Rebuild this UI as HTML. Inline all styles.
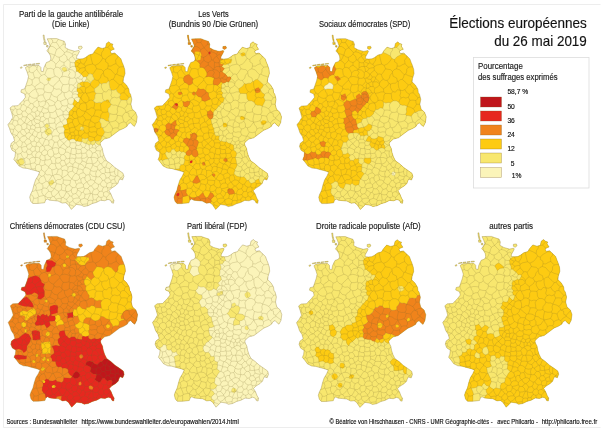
<!DOCTYPE html>
<html lang="fr"><head><meta charset="utf-8"><title>Élections européennes du 26 mai 2019</title>
<style>
html,body{margin:0;padding:0;background:#fff}
svg{display:block}
text{font-family:"Liberation Sans",Arial,sans-serif;stroke:#222;stroke-width:.16px;paint-order:stroke}
</style></head><body>
<svg width="605" height="432" viewBox="0 0 605 432">
<rect width="605" height="432" fill="#fff"/>
<path d="M600.5 4.5H3.5V427.5H600.5" fill="none" stroke="#ededed" stroke-width="1"/>
<defs><path id="b" d="M136 310.5L134.7 312.1L131.7 315.4M131.7 315.4L131.8 316.4M136.8 319.9L131.8 316.4M124.5 306.4L126.4 304.3L127.8 301.9M124.5 306.4L125.8 308L126.2 310M126.7 310.2L130.1 308.5L133.6 308M126.7 310.2L126.2 310M131.3 302.2L131 302L127.8 301.9M131.7 315.4L129.3 314.3L129.1 311.1L126.7 310.2M118.4 304.1L118.3 304M118.4 304.1L117.5 306.8L118 309.6L116.8 312.1M110.1 311.5L113.4 312.3L116.8 312.1M110.1 311.5L108.5 309.5M118.3 304L116 302.9L113.5 303L111.3 302M108.5 309.5L108.4 306.5L110.5 304.5L111.3 302M131.8 316.4L128.7 318L126.4 320.7M126.4 320.7L127.3 324.1M123.3 376.4L121.4 375.5M123.8 372.7L121.4 375.5M121.4 375.5L120.9 375.7M120.4 376.9L120.9 375.7M118.3 367.5L118 373.7M120.9 375.7L119.6 374.4L118 373.7M126.4 320.7L124.3 319.6M126.2 310L124 311.6L122.6 314M124.3 319.6L123.3 316.8L122.6 314M118.4 304.1L121.6 304.9L124.5 306.4M116.8 312.1L117.7 313.2M122.6 314L120.2 313.4L117.7 313.2M24.3 356.6L21.4 357L18.5 358.1M24.3 356.6L25.4 359.5L25.3 362.6M25.3 362.6L24.8 363.3M24.8 363.3L22.5 362.8L20.2 362.1M20.2 362.1L19.1 360.2L18.5 358.1M19.5 363.9L20.2 362.1M18.5 358.1L17.2 357.5M15 358.3L17.2 357.5M20.5 301.1L21.7 303M14.9 303.7L14.7 304L15.6 306.5M20.3 306.8L21.3 305L21.7 303M20.3 306.8L17.4 307.3M15.6 306.5L17.4 307.3M10.6 306.8L13.7 307.7M15.6 306.5L13.7 307.7M124.1 264.4L119.9 264.8M119.9 264.8L117.9 263.3L116.4 261.4M116.4 261.4L115.8 257.9L118.1 255.1L118 253.4M101.7 253.6L102 250.5L103.8 247.9L103.9 245.8M101.7 253.6L103.1 255.9M103.1 255.9L104.4 256.8L105.9 257.1M105.9 257.1L108.1 254.6L110.8 253.1L113.4 251.7M113.4 251.7L113.1 251.1M111.4 248.4L110.2 246.9L108 245.2M108 245.2L105.9 245.4L105.7 245.3M116.4 261.4L113.7 262.4L111.3 263.9L108.5 263.8M108.5 263.8L108.4 261.1L105.9 259.6L105.9 257.1M116.3 251.9L115.6 251.8L113.4 251.7M111.3 241.4L108 245.2M74.5 249L74.5 249.1L72.4 251.8M77.4 253.6L75.4 252L73 253.2M73 253.2L72.4 251.8M103.8 269.2L105.5 267.4L107.8 266.5M103.8 269.2L101.7 267.3L99.3 267L96.9 266.5M107.8 266.5L108.5 263.8M103.1 255.9L101.1 259.2L98.6 261.6L95.4 263.1M96.9 266.5L96.2 264.8L95.4 263.1M27.4 264.3L28 264.6L29.4 265.4M29.4 265.4L29.4 267.5L29.9 269.6M27.6 270.2L29.9 269.6M32.7 263.4L31.2 264.7L29.4 265.4M32.7 263.4L35.4 263.7L37.3 265.6M37.3 265.6L37.1 266.9M37.1 266.9L35.3 268.7L33.4 270.4M33.4 270.4L31.5 270.5L29.9 269.6M43.5 305.4L42.4 307.4L41.8 309.6M43.5 305.4L45.9 306.4L48.4 307M43.8 311L41.8 309.6M43.8 311L46.6 310.8L49.2 309.7M48.4 307L49.2 309.7M127.8 301.9L127.2 300.1L127.2 298.2M118.3 304L119.8 301L121.2 298M121.2 298L124.2 297.8L127.2 298.2M131.5 294.8L129.2 295.5M127.2 298.2L128.4 297L129.2 295.5M110.1 311.5L109.5 314.3L108.9 316.9L109.4 319.5M108.5 309.5L105.8 310.1L103.1 310M109.4 319.5L106.3 318.7L103.8 316.8L100.8 316.2M103.1 310L101.1 312.8L100.8 316.2M101.5 324.8L101.4 321.6L99.8 318.9M101.5 324.8L99.7 326.2L97.5 326.7M95 324.5L96.4 325.5L97.5 326.7M95 324.5L95.5 322.8L95.1 321M95.1 321L97.7 320.4L99.8 318.9M96.6 329.7L97.1 328.2L97.5 326.7M96.6 329.7L94.1 329.5L91.7 330.1L89.5 329.3M89.5 329.3L89.2 327.4L89.5 325.5M89.5 325.5L92.2 324.8L95 324.5M91 318.5L89.3 321.4L89.1 324.9M91 318.5L92.9 319.9L95.1 321M89.1 324.9L89.5 325.5M91 318.5L90.8 317.8M90.8 317.8L91.3 316L92.2 314.4M92.2 314.4L93.7 313.8M93.7 313.8L96.4 314L98.8 314.6L100.6 316.4M100.6 316.4L99.8 318.9M112.3 381.5L111.1 379.9M112.3 381.5L114.8 381L117.4 381.3M117.4 381.3L115.5 379.4L114.9 376.8M114.9 376.8L113.1 377.4L111.3 378.2M111.3 378.2L111.1 379.9M111.5 385.2L112.1 383.4L112.3 381.5M111.5 385.2L112 385.8M117.8 381.5L117.4 381.3M118 373.7L116.7 373.7M116.7 373.7L115.8 374.3M115.8 374.3L114.9 376.8M115.8 374.3L113.2 373.9L110.7 373M109.1 375.5L110.7 373M109.1 375.5L109.9 377.1L111.3 378.2M107 397.7L106.9 395.1M111.6 399.6L113.6 399L114.1 397.9M111.4 392.1L110 391.5M106.9 395.1L108.5 393.4L110 391.5M30.5 361.8L31.2 364.2L31.6 366.6M30.5 361.8L30.6 361.7M30.6 361.7L32.7 361L34.9 360.7M37.2 362.5L34.9 360.7M37.2 362.5L35.8 364.2L35.7 366.4M31.6 366.6L33.6 366.7L35.7 366.4M30.5 361.8L27.9 362.1L25.3 362.6M25.9 366L24.8 363.3M31.6 366.6L30.9 367.2M32.6 400.8L34 396M34 396L33 393.5L30.9 392.2M34.3 382.6L35.8 382.9M32.3 389.3L34 389L36.1 387.9M35.8 382.9L36.7 385.4L36.1 387.9M24.3 356.6L24.4 356.5M24.4 356.5L22.4 354L21.2 351.1M17.2 357.5L18.2 354.7L18 351.8M21.2 351.1L19.7 351.7L18 351.8M13 345.8L12 347.1M13 345.8L14.2 347L15.7 347.7M15.7 350.3L16 350.2M15.7 347.7L16 350.2M10.9 343.6L12.6 343.4M12.6 343.4L13 345.8M18 351.8L16 350.2M20.3 306.8L21.5 308.1L22.9 309.1M21.7 303L23.8 302.3M25.6 308.7L22.9 309.1M25.6 308.7L26.6 307L27.1 305.1M23.8 302.3L25.7 303.3L27.1 305.1M22.9 309.1L21.9 311.6M17.4 307.3L17 309.9L18 312.4M21.9 311.6L20 312.3L18 312.4M40.4 309.8L40 311.7L39.3 313.4M40.4 309.8L37.8 308.4M37.8 308.4L36.4 309L35.2 310.1M35.2 310.1L36.2 312L36.2 314.1M36.2 314.1L37.8 314.1L39.3 313.4M43.9 314.2L42.2 314.3L40.9 315.3M43.9 314.2L44 312.6L43.8 311M40.9 315.3L39.3 313.4M41.8 309.6L40.4 309.8M40.9 315.3L40.3 318.2M34.7 316.5L37.5 317.3L40.3 318.2M34.7 316.5L36.2 314.1M39.5 276L37.3 275.5L34.9 275.6M39.5 276L39.6 278.1L40.5 280M40.5 280L38.9 281.9L36.7 283L35.2 284.8M34.9 275.6L33.9 277L32.3 277.7M32.3 277.7L32.7 280L32.3 282.4M32.3 282.4L33.6 283.8L35.2 284.8M37.1 266.9L38.5 269.3L40.2 271.4L41.9 273.3M41.9 273.3L40.3 274.3L39.5 276M33.4 270.4L34.1 273.1L34.9 275.6M28.5 275.6L29.7 276.3L32.3 277.7M25.7 284.8L27.6 283.4L30.1 283.3L32.3 282.4M37.3 265.6L38.4 263.2M41.9 273.3L43.5 272.5L45.2 272.4M45.2 272.4L46.2 269.4L47.5 266.6M47.5 266.6L45.9 264.4L45.7 262.3M55.7 274L57.9 274.9L59.7 276.3M55.7 274L52.5 275.4L49.3 276.6M53.6 284.3L55.5 281.8L57.9 279.9L59.8 277.7M53.6 284.3L50.8 283.1L48.8 280.8M59.7 276.3L59.8 277.7M48.8 280.8L48.4 278.6L49.3 276.6M45.2 272.4L47.1 274.6L49.3 276.6M54 267.1L50.8 266.1L47.5 266.6M54 267.1L54.1 269.6L54.5 272L55.7 274M44.7 282.9L42.9 281.1L40.5 280M44.7 282.9L47 282.3L48.8 280.8M72.4 251.8L69.9 250.2L67 249.5M67 249.5L67.9 246.8L68 246.7M84.3 262L85.7 264.2M84.3 262L87 257.8L87.2 254.3M85.7 264.2L88.1 262.8L90.6 262.3L93 261.8M93 261.8L91.9 257.9L91.1 254.2L90.8 252.3M101.7 253.6L98 251.6L94.4 250.1L94.2 250.1M95.4 263.1L93 261.8M53.6 284.3L54 285.9M59.8 277.7L61.4 280.1L63.2 282.4M54 285.9L56.6 287.1L59.6 286.7L61.8 288.6M61.8 288.6L61.9 285.3L63.2 282.4M70.3 276L69.2 278.8L69.2 281.8M70.3 276L67.4 274.7L64.5 274.1L61.6 274.8M61.6 274.8L59.7 276.3M63.2 282.4L66.2 282.4L69.2 281.8M58.7 237.1L58.2 237.8L56.7 240.1M63.9 238.9L63.3 242.1M56.7 240.1L58.4 242.7L60 245.4M63.3 242.1L61.7 243.8L60 245.4M51 236.5L52.8 237.8L53 240.1M53 240.1L54.9 240.4L56.7 240.1M65.8 242.1L63.3 242.1M86 317.8L84.8 315.3L82.7 313.6M86 317.8L83.8 320L83.3 323M79.9 321.5L78.6 318.6L77.9 315.7M79.9 321.5L81.6 322.2L83.2 323.1M82.7 313.6L80.8 314.8L78.5 314.8M83.3 323L83.2 323.1M78.5 314.8L77.9 315.7M90.8 317.8L88.4 317.6L86 317.8M92.2 314.4L90 312.6L87.8 311L86 309M86 309L85.5 309.3M85.5 309.3L84.6 311.8L82.7 313.6M89.1 324.9L86.3 323.5L83.3 323M103.1 310L101.4 308.1M93.7 313.8L95 310.9L95.7 307.9M100.6 316.4L100.8 316.2M95.7 307.9L98.5 307.7L101.4 308.1M78.9 290.7L81 291L83 290.3M78.9 290.7L78 292.4M83 290.3L84.4 290.8M84.4 290.8L82.5 292.8L81.3 295.3M78 292.4L78.8 294.9M78.8 294.9L80.5 295.6M80.5 295.6L81.3 295.3M128.7 286.1L125.8 286.7M129.2 295.5L127 292.8L124.4 290.5M125.8 286.7L124.5 288.4L124.4 290.5M124.2 274.9L122.6 274.1L119.6 273.3L116.8 271.9M123.6 277.3L123.5 277.4L123.2 280.2L121.7 282.2M121.7 282.2L119.6 282.7M119.6 282.7L117.6 280.6L115.5 278.8L113.5 277M113.5 277L114.9 274.9L115.5 272.4M116.8 271.9L115.5 272.4M119.9 264.8L118 266.9L118 269.7L116.8 271.9M125.8 286.7L123.4 284.8L121.7 282.2M107.8 266.5L111.2 267.6L113.3 270.1L115.5 272.4M109.6 319.9L109.6 320M109.6 319.9L112.7 319.4L115.8 318.5M109.6 320L110.6 322.4L112.2 324.4L112.9 326.6M115.8 318.5L117.9 319.8L119.2 321.8M112.9 326.6L115.3 325.6L118 325.8M118 325.8L119.2 324L119.2 321.8M109.4 319.5L109.6 319.9M103.3 325.5L106.3 324.5L107.9 322.1L109.6 320M103.3 325.5L101.5 324.8M117.7 313.2L117.3 316L115.8 318.5M103.3 325.5L103.9 327.9L105.4 329.8M111.2 329.7L108.3 330.4L105.4 329.8M111.2 329.7L112.4 328.4L112.9 326.6M124.3 319.6L121.6 320.4L119.2 321.8M120 327.9L118 325.8M111.2 329.7L111.9 333.8M74.5 404.4L73 403.5L69.9 402.5M69.5 403.9L69.9 402.5M76.2 402.7L76 401.5M76 401.5L74.1 400.2L73 398.3M73 398.3L71.6 399.7L69.8 400.5M69.9 402.5L69.8 400.5M72 394L70.1 393.8M72 394L72.6 395.4L73.4 396.8M70.1 393.8L68.4 395.3L67 397.1M73.4 396.8L73 398.3M67 397.1L67.5 399M69.8 400.5L67.5 399M62 374.6L59.7 372.6L56.7 372.1M62 374.6L62.6 371.4L62.5 368.3M56.7 372.1L57.8 369.7L58.4 367.1M58.4 367.1L61.1 366.7M62.5 368.3L61.1 366.7M89.5 329.3L88.6 330.7M82.2 326.9L83.2 325.1L83.2 323.1M82.2 326.9L84.2 328.2L85.1 330.5M88.6 330.7L86.8 331.1L85.1 330.5M43.9 393.3L45 393.8M43.9 393.3L41.5 393.8L39.1 394.4M45.9 398L45.1 393.9M38.3 401.2L38.4 395.2M45.1 393.9L45 393.8M38.4 395.2L39.1 394.4M47.2 386.3L48.4 387.5L48.9 389.1M47.2 386.3L45.2 385.8L43.1 386M48.9 389.1L46.6 391.2L45 393.8M43.1 386L42.4 387.1M42.4 387.1L42.1 390.4L43.9 393.3M42.4 387.1L39.6 387.9L36.7 388.2M36.7 388.2L38.1 391.2L39.1 394.4M49.9 398L51.3 395.4M51.3 395.4L48 395.4L45.1 393.9M34 396L36.3 396.1L38.4 395.2M36.7 388.2L36.1 387.9M49.6 382.8L48.2 384.4L47.2 386.3M49.6 382.8L51.6 385.3L54.6 386.4M48.9 389.1L51.5 389.6M54.6 386.4L53.4 388.3L51.5 389.6M51.3 395.4L53 394.1M51.5 389.6L51.8 392L53 394.1M56.5 396.8L59.1 396.2L61.7 396.1M56.5 396.8L56.3 398.6M61.7 396.1L61.2 399.5L61.3 400.3M53 394.1L54.6 394.4M54.6 394.4L55.2 395.8L56.5 396.8M67.5 399L66.1 400.7M81.9 403.1L82.6 402.3M76 401.5L78.9 400.2L80.8 397.7M82.6 402.3L81 400.2L80.8 397.7M88 403.6L87.8 401.6M82.6 402.3L85.2 401.9L87.8 401.6M79.5 395.8L80.9 397.4M79.5 395.8L76.4 395.9L73.4 396.8M80.8 397.7L80.9 397.4M92.9 401.3L93.1 398.4M93.1 398.4L90.9 398L88.6 398.4M87.8 401.6L88 399.9L88.6 398.4M111.5 385.2L109.6 385.8L107.7 385.3M110 391.5L108.6 390.8L107.6 389.4M107.6 389.4L108.2 387.4L107.7 385.3M111.1 379.9L109.2 380.5L107.4 381.2M107.4 381.2L106.9 382.9L106.8 384.6M107.7 385.3L106.8 384.6M97.6 386.1L98.8 384.3L98.7 382.2M97.6 386.1L98.4 387.9L99.5 389.3M100.4 381.8L98.7 382.2M100.4 381.8L101.6 383.9L103.9 384.9M103.9 384.9L102.9 386.9L102.3 389M99.5 389.3L102.3 389M107.6 389.4L105.7 389.5L103.9 390.5M103.9 384.9L106.8 384.6M102.3 389L103.9 390.5M106.9 395.1L105.5 394.5L104.1 393.7M103.9 390.5L103.7 392.1L104.1 393.7M102.1 398.2L101.2 395.3M104.1 393.7L102.8 394.9L101.2 395.3M10 326.8L13.7 327.2M11.9 331.6L12.5 331.6M12.5 331.6L13.7 329.6L13.7 327.2M12.6 343.4L14 342.1L15 340.5M15 340.5L14.3 339L14.2 339M12.5 331.6L14.6 332.5L16.8 333.3M14.2 335.9L14.6 335.2L16.8 333.3M23.4 298.2L24.7 299M25.3 292.9L25.4 292.8L27.1 290.6M24.7 299L26.7 298.3L28.8 297.8M28.8 297.8L29 295.6L30.1 293.7M27.1 290.6L29.3 291.9M29.3 291.9L30.1 293.7M23.8 302.3L24.4 300.7L24.7 299M25.5 285.4L25.6 288L27.1 290.6M35.7 286.8L33.1 288.2L31.1 290L29.3 291.9M35.7 286.8L35.2 284.8M27.1 305.1L27.8 304.8M28.8 297.8L29.4 299.7L30.8 301M30.8 301L29.6 303.1L27.8 304.8M32.2 309.6L33.7 310L35.2 310.1M32.2 309.6L30.2 311.6M34.7 316.5L34.3 316.6M30.2 311.6L33 313.6L34.3 316.6M25.6 308.7L26.8 310.5L28.5 312M32.2 309.6L31.9 307.4M31.9 307.4L30 305.9L27.8 304.8M30.2 311.6L28.5 312M23 314.4L21.2 316.7M23 314.4L25 314.7L27.1 314.6M27.1 314.6L27.1 314.7M27.1 314.7L26 317.7L24.9 320.7M21.2 316.7L23 318.7L24.6 320.7M24.6 320.7L24.9 320.7M21.9 311.6L22.6 312.9L23 314.4M18 312.4L17.3 313.3M17.3 313.3L18.4 315L19.4 316.8M19.4 316.8L21.2 316.7M28.5 312L27.1 314.6M54 285.9L53.3 288.6L51.3 290.5M57.5 295L58.9 292.9L61.2 291.7L62.3 289.5M57.5 295L54 294.2L51.7 291.6M62.3 289.5L61.8 288.6M51.7 291.6L51.3 290.5M61.6 274.8L62.8 272.9L62.9 270.6M54 267.1L56.1 265.1M56.1 265.1L58.3 265.1L60.3 266M62.9 270.6L61.7 268.3L60.3 266M70.3 276L70.4 275.9M70.4 275.9L68.8 273.3L70.4 270.3L68.9 267.9M62.9 270.6L65.5 268.3L68.9 267.9M70.4 275.9L72.7 276.1L74.9 275.5M74.9 275.5L75.7 272.9L75.5 270.2M75.5 270.2L72.8 267.8L69.3 267.1M68.9 267.9L69.3 267.1M74.9 275.5L76.1 276.2M69.2 281.8L69.9 282.7M69.9 282.7L71.8 282.5L73.6 283.1M73.6 283.1L75.4 281.3L77 279.4M76.1 276.2L76.8 277.7L77 279.4M80 256.8L80.4 258.3L81.3 260.6M79 256.7L78.1 257.6L76 258.6M76 258.6L75.8 259.3M75.8 259.3L77.7 260.3L79.6 261.2M81.3 260.6L79.6 261.2M84.3 262L82.7 261.6L81.3 260.6M73 253.2L72.7 254.1M72.7 254.1L74.4 256.3L76 258.6M77.5 264L75.6 264.3M77.5 264L78.9 265.1L80.4 266.2M75.6 264.3L76.6 266.7L76.7 269.2M80.4 266.2L79.4 267.7L78.2 269.1M78.2 269.1L76.7 269.2M75.4 264.2L75.6 264.3M75.4 264.2L75.3 262.3L74.9 260.4M74.9 260.4L75.8 259.3M79.6 261.2L79 262.9L77.5 264M85.3 265.3L85.7 264.2M85.3 265.3L82.9 265.6L80.4 266.2M85.7 268.1L85.3 265.3M85.7 268.1L83.4 269.7L81.4 271.9M81.4 271.9L79.6 270.8L78.2 269.1M111.3 302L110.2 300M110.2 300L107.6 298.5L104.7 298.5M101.4 308.1L101.1 305.4L100.6 302.8L101.9 300.5M104.7 298.5L103.2 299.4L101.9 300.5M85.7 268.1L87.6 269.7L89 271.9M96.9 266.5L95.5 268.5L94.2 270.5L92.7 272.2M89 271.9L90.9 271.6L92.7 272.2M82.2 284.2L80.6 282.8L79.8 280.9M82.2 284.2L80.5 284.7L79.5 286M79.5 286L77.9 285.9M78.6 280.8L77.4 283.2L77.9 285.9M79.8 280.9L78.6 280.8M83 290.3L81.8 287.7L79.5 286M84.4 290.8L85.8 290.4M85.8 290.4L85.6 288.1L86.2 285.9M84.5 284.3L86.2 285.9M84.5 284.3L82.2 284.2M78.9 290.7L77.4 289M77.4 289L77.2 287.4L77.9 285.9M75.3 285.4L73.6 283.1M75.3 285.4L77.9 285.9M77 279.4L78.6 280.8M45.7 240.1L45.7 240.8L46.6 241.9M47.7 243.4L47.8 243.5M45.1 237.2L44 236.9M47.8 243.5L46.9 244.2M53 240.1L51.4 241.9L50.4 244.1M50.4 244.1L50.1 244.2M50.1 244.2L50.1 244.2M48.4 243.7L47.8 243.5M26.7 263.2L26.8 262.5M32.7 263.4L32.7 263.4M32.6 262.1L32.6 261.8M52.1 258.3L50.7 257.9M52.1 258.3L53.8 255.7L54.8 252.8M54.8 252.8L52.1 251.8L49.4 251.1M56.1 262L55.7 263.6L56.1 265.1M56.1 262L54.4 259.8L52.1 258.3M50.1 244.2L48.6 247.5L49.3 251M74.8 316.3L76.4 316.3L77.9 315.7M74.8 316.3L73.2 315L72.2 313.2M72.2 313.2L73.3 311.3L73.7 309.2M78.5 314.8L77.2 312.4L76.7 309.7M73.7 309.2L75.2 309.3L76.7 309.7M85.5 309.3L82.1 308.4L79.4 306.2M79.4 306.2L78.4 306.4M78.4 306.4L77.1 307.8L76.7 309.7M82.2 326.9L80.7 328.4L78.7 328.7M78.7 328.7L76 327.4M79.9 321.5L77.8 323.6L75 324.9M76 327.4L75 325M75 324.9L75 325M69.9 326.2L70 326.1M69.9 326.2L70 328.6L70.7 330.8M76 327.4L75 328.6L74.2 329.9M75 325L72.5 325.2L70 326.1M74.2 329.9L72.3 329.9L70.7 330.8M79.4 333.1L77.4 332.9L75.6 333.6M79.4 333.1L78.7 331L78.7 328.7M74.2 329.9L74.8 331.8L75.6 333.6M54.8 302.6L55.4 300.4M54.8 302.6L56 304.6L56.8 306.9M62.5 303.4L61.5 305L60.4 306.6M62.5 303.4L61.4 301.4L60.9 299.2M55.4 300.4L56.8 299.5L57.8 298.1M56.8 306.9L58.6 307.2L60.4 306.6M57.8 298.1L59.4 298.6L60.9 299.2M50 310.3L53.2 310.4L55.8 308.5M55.8 308.5L56.8 306.9M48.4 307L48.5 305.1L49.7 303.7M49.2 309.7L50 310.3M49.7 303.7L52.4 303.5L54.8 302.6M49.6 297.1L50.8 294.4L51.7 291.6M57.5 295L57.8 296.6L57.8 298.1M49.6 297.1L52.6 298.5L55.4 300.4M119.6 294.8L120.5 293.5L120.6 291.9M119.6 294.8L117.2 295.8L114.7 294.9L112.5 295.7M120.6 291.9L117.8 290.1L116.3 287.2M112.5 295.7L111.1 293.2L112 290.5L111.5 288M116.3 287.2L114.1 288.2L111.6 288M111.5 288L111.6 288M121.2 298L120.4 296.5L119.6 294.8M124.4 290.5L122.3 290.7L120.6 291.9M110.2 300L110.9 297.6L112.5 295.7M119.6 282.7L118.2 285.1L116.3 287.2M109.6 279.2L109.6 282.4L110.1 285.4L111.6 288M113.5 277L111.2 277.5L109.6 279.2M103.8 269.2L103.7 270.4M109.6 279.2L108.7 279M103.7 270.4L104.5 274L108 275.7L108.7 279M92.7 272.2L93.4 274.7L94.7 276.9M94.7 276.9L96.4 278L98.4 278.1M103.7 270.4L101.5 272.9L100.7 276L98.4 278.1M72.3 376.6L73.7 377.8L75.4 378.4M72.3 376.6L70.7 378.3M76 384.8L74.6 385.5L73 385.3M76 384.8L76.9 382.3M70.7 378.3L70.6 380.4L70 382.4M76.9 382.3L75.9 380.4L75.4 378.4M73 385.3L71.1 384.3L70 382.4M96.6 329.7L97.5 332.5M105.4 329.8L104.2 331.8L103.1 333.8M97.5 332.5L99.9 333.5L102.4 333.9M103.1 333.8L102.4 333.9M69.6 344.5L70.4 342.7L70.5 340.7M69.6 344.5L72.1 346.1M70.5 340.7L73.2 340.5L75.9 340.6M75.9 340.6L76.6 343M76.6 343L76 344.4L75.7 345.9M72.1 346.1L73.9 346.3L75.7 345.9M75.9 340.6L76.4 339.1M76.4 339.1L77.2 338.7M76.6 343L78.8 343.3L80.9 342.5M80.9 342.5L81.2 340.9L81.9 339.5M81.9 339.5L79.5 339.4L77.2 338.7M79.4 333.1L79.9 333.6M76.4 339.1L74.8 337M75.6 333.6L75.3 333.8M74.8 337L75 335.4L75.3 333.8M77.2 338.7L78.4 336.1L79.9 333.6M85.1 330.5L82.8 331.8L81.3 334M79.9 333.6L81.3 334M53.5 373.5L54.9 372.4L56.7 372.1M53.5 373.5L53.1 373.4M58.4 367.1L56.9 366.1M53.1 373.4L52.6 370.5L52.1 367.6M56.9 366.1L54.6 367.3L52.1 367.6M56.2 360.8L55.8 358.3L56.5 356M56.2 360.8L58.3 361.2L60.3 360.5M60.3 360.5L61.6 358.3M61.6 358.3L61.1 356.7L60.3 355.3M60.3 355.3L58.4 355.5L56.5 356M62.2 364.1L61.1 366.7M62.2 364.1L61 362.5L60.3 360.5M55.5 361.4L55.9 363.8L56.9 366.1M55.5 361.4L56.2 360.8M94.2 387.1L96 386.8L97.6 386.1M94.2 387.1L93 385.3L91.6 383.6M98.7 382.2L96.9 381.2L95.2 380M95.2 380L93.6 382L91.6 383.6M88.6 398.4L88 397.4M80.9 397.4L82.7 396.7L84.6 396M88 397.4L86.3 396.6L84.6 396M92.8 391.7L95.3 392.6L97.9 392.2M92.8 391.7L93.1 394.8L93.7 397.8M93.7 397.8L96.6 397.6M96.6 397.6L97.3 395.7L99 394.5M97.9 392.2L99 394.5M92.3 391.3L92.8 391.7M92.3 391.3L93.1 389.1L94.2 387.1M99.5 389.3L98.8 390.8L97.9 392.2M88 397.4L89.4 394.3L91 391.3M92.3 391.3L91 391.3M93.1 398.4L93.7 397.8M97.4 399.9L96.6 397.6M101.2 395.3L99 394.5M59.3 350.4L58.7 348.2L59.2 346.1M59.3 350.4L60.1 351.9L61.6 352.6M59.2 346.1L59.9 345.4M61.6 352.6L64.1 352.2M64.1 352.2L65.9 349.9M65.8 347.8L63.3 346.3L60.6 345.3M65.8 347.8L65.9 349.9M60.6 345.3L59.9 345.4M53.7 353.7L54.8 355.2L56.5 356M53.7 353.7L54.2 352M60.3 355.3L61.6 352.6M54.2 352L57 351.8L59.3 350.4M66.5 356L65.6 353.9L64.1 352.2M64.7 358.5L65.6 357.2L66.5 356M64.7 358.5L63.2 358L61.6 358.3M70.5 351.6L70.4 354L69.6 356.2M70.5 351.6L68.5 350L65.9 349.9M69.6 356.2L68 356.6L66.5 356M68.2 345L65.9 343.5L64.2 341.4M68.2 345L66.6 346L65.8 347.8M64.2 341.4L61.8 342.8L60.6 345.3M69.6 344.5L68.2 345M71.1 351.4L71.4 348.7L72.1 346.1M70.5 351.6L71.1 351.4M64.2 341.2L62.3 339.4L60.4 337.7M64.2 341.2L64.2 341.4M60.4 337.7L60.1 337.6M60.1 337.6L58.7 338.5L57.9 339.9M57.9 339.9L58.3 342.9L59.9 345.4M39.4 362.2L40.4 359.8L40.7 357.2M39.4 362.2L37.2 362.5M34.9 360.7L36 358.2L35.4 355.5M40.7 357.2L40 356.1M40 356.1L38 355.3L36 355.3M35.4 355.5L36 355.3M52.1 361.1L53.8 361.5L55.5 361.4M53.7 353.7L51.4 354.9M52.1 361.1L52 358.8L50.5 356.9M50.5 356.9L51.4 354.9M35.7 366.4L36.1 368.2L36.8 368.7M41.7 367.8L43.7 368.8L45.2 370.4M41.7 367.8L41.8 365.7L41.5 363.6M45.2 370.4L46.9 367.8L49.1 365.6M41.5 363.6L43.6 363.1L45.5 362.2M45.5 362.2L47.3 363.4L49 364.6M49 364.6L49.1 365.6M38.3 369.3L39.8 369.2L41.7 367.8M39.4 362.2L41.5 363.6M53.1 373.4L52.2 373.7M45.3 371.3L45.2 370.4M52.2 373.7L49.9 372.5L47.3 372.8L45.3 371.3M52.1 367.6L50.8 366.3L49.1 365.6M45.5 357.9L43 358.4L40.7 357.2M45.5 357.9L44.8 360.1L45.5 362.2M45.7 357.7L48.2 357.8L50.5 356.9M45.5 357.9L45.7 357.7M52.1 361.1L50.2 362.5L49 364.6M30.8 301L33 301.5M31.9 307.4L33.3 306.1L34.2 304.3M33 301.5L33.9 302.8L34.2 304.3M37.8 308.4L37.4 305.6M34.2 304.3L35.9 304.8L37.4 305.6M43.2 304.5L43.5 305.4M43.2 304.5L41.1 304.6L39.4 303.5M39.4 303.5L37.4 305.6M13 311.4L13.9 312.7L15.4 313.4M13 311.4L12.4 312M15.4 313.4L14.3 315.3L13.4 317.3M11.9 317.3L13.4 317.3M13.7 307.7L12.9 309.4L13 311.4M17.3 313.3L15.4 313.4M12.3 321.8L13.9 323L15.4 324.4M12.3 321.8L13.2 319.9L13.8 318M13.8 318L15.8 318.1L17.8 318.9M17.8 318.9L18.2 320.7L18.4 322.5M18.4 322.5L16.7 323.1L15.4 324.4M13.7 327.2L15.1 326.4M15.1 326.4L15.4 324.4M8.8 321.8L12.3 321.8M13.4 317.3L13.8 318M19.4 316.8L17.8 318.9M21.4 323.4L22.7 321.7L24.6 320.7M21.4 323.4L20 322.6L18.4 322.5M40.3 318.2L40.6 319M34.3 316.6L34.2 316.9M40.6 319L39.3 321.1M39.3 321.1L36.4 321.2M34.2 316.9L34.7 319.3L36.4 321.2M35.9 325.5L38.1 325.4L40.3 325M39.3 321.1L40 323L40.3 325M35.9 325.5L35 323.3M35 323.3L36.4 321.2M44.7 282.9L44.4 284.9L44 286.9M35.7 286.8L36.3 287.2M36.3 287.2L38.9 286.5L41.5 286.6L44 286.9M51.3 290.5L48.2 290.4L45.2 289.7M44 286.9L44.4 288.4L45.2 289.7M64.7 250.3L62.5 247.8L60 245.5M64.7 250.3L64.3 251.7M64.3 251.7L62.2 253.9L59.5 255.1M60 245.5L58.4 246.3L56.9 247.3M56.9 247.3L55.9 249.9L55.3 252.6M55.3 252.6L57 254.5L59.5 255.1M67 249.5L64.7 250.3M60 245.4L60 245.5M50.4 244.1L53.1 244.3L55.1 245.6L56.9 247.3M54.8 252.8L55.3 252.6M56.1 262L58 260.1L59.9 258M59.9 258L59.5 255.1M64.3 260.3L66.1 259.2L67.7 257.7M64.3 260.3L64.3 262.9M64.3 262.9L66.9 264.9L69.3 267M70.5 259.9L69.1 257.8M70.5 259.9L70.4 262.7L70.4 265.6M70.4 265.6L69.3 267M69.1 257.8L67.7 257.7M59.9 258L61.9 259.5L64.3 260.3M64.3 251.7L67 254.2L67.7 257.7M60.3 266L61.9 264L64.3 262.9M69.3 267.1L69.3 267M72.7 254.1L70.4 255.5L69.1 257.8M74.9 260.4L72.6 260.5L70.5 259.9M75.4 264.2L72.7 264.2L70.4 265.6M75.5 270.2L76.7 269.2M72.8 302L74 299.7L74.5 297.1M72.8 302L74.7 303.7M74.7 303.7L74.8 303.7M74.8 303.7L76.6 302.2L77.8 300.2M77.8 300.2L76.2 298.6L74.5 297.1M79.4 306.2L79.6 303.7L80.9 301.7M78.4 306.4L76.7 305L74.8 303.7M80.9 301.7L78.9 300.2M78.9 300.2L77.8 300.2M78.8 294.9L76.4 295.3L74.4 296.7M80.5 295.6L79.8 297.9L78.9 300.2M74.4 296.7L74.5 297.1M72.6 295.3L70 295.8L67.7 297.4M72.6 295.3L72.3 293.6L73.1 292M69.4 288.5L67.1 290.1L64.3 290.5M69.4 288.5L72.1 289.9M64.3 290.5L64.7 293.8L66.5 296.7M73.1 292L72.8 290.8M66.5 296.7L67.7 297.4M72.8 290.8L72.1 289.9M74.4 296.7L72.6 295.3M68.5 301.5L70.6 302.2L72.8 302M68.5 301.5L68.1 299.4L67.7 297.4M78 292.4L75.6 291.7L73.1 292M62.3 289.5L64.3 290.5M69.9 282.7L69.4 285.6L69.4 288.5M75.3 285.4L73.2 287.3L72.1 289.9M60.9 299.2L63.7 297.9L66.5 296.7M77.4 289L74.8 289.2L72.8 290.8M67.5 303.5L65 303.8L62.5 303.4M68.5 301.5L67.5 303.5M81.4 271.9L81.4 272M76.1 276.2L77.6 275.7M81.4 272L80.1 274.5L77.6 275.7M83 279.3L82.3 277.1M83 279.3L84.2 279.8M84.2 279.8L84.8 279.6M84.8 279.6L86 277.9L87 276.1M82.3 277.1L83.7 274.8M83.7 274.8L85.3 274.5L86.8 274.9M86.8 274.9L87 276.1M79.8 280.9L81.4 280.2L83 279.3M77.6 275.7L79.8 276.9L82.3 277.1M84.5 284.3L84.1 282.1L84.2 279.8M90.7 281.4L88 279.5L84.8 279.6M90.7 282.9L90.7 281.4M86.2 285.9L88.6 284.7L90.7 282.9M91.2 280.2L89.1 278.2L87 276.1M90.7 281.4L91.2 280.2M81.4 272L82.7 273.3L83.7 274.8M89 271.9L88.2 273.6L86.8 274.9M94.7 276.9L92.6 278.2L91.2 280.2M108.7 279L106.7 280.9L104.1 281L101.9 281.8M98.4 278.1L99.2 279.6L100.2 281.1M100.2 281.1L101.9 281.8M90.7 282.9L92.6 284.9L94.8 286.5M100.2 281.1L98.9 283.6L96.9 285.1L94.8 286.5M111.5 288L108.7 287.4L106.7 289.9L104.1 289.3M101.9 281.8L101.6 284.8L102.7 287.1L104.1 289.3M104.7 298.5L103 296.3L102.8 293.8L102.5 291.4M104.1 289.3L102.5 291.4M85.8 290.4L86.7 291M94.8 286.5L94.9 288L95.1 289.6M86.7 291L89.7 290.6L92.3 289.6L95.1 289.6M102.5 291.4L99.5 291.2L96.4 291.1M95.1 289.6L96.4 291.1M69.9 326.2L67.7 327.5L65.1 327.6M70.4 331.3L70.7 330.8M70.4 331.3L67.5 330.5L64.5 330.6M65.1 327.6L64.4 329.1L64.5 330.6M60.1 337.6L59.5 335.8L58.9 333.9M65.6 335.3L63.1 336.8L60.4 337.7M65.6 335.3L64.9 333L64.4 330.7M58.9 333.9L60 331.3M60 331.3L62.2 330.7L64.4 330.7M74.7 303.7L73.2 305.6L71.8 307.5M67.5 303.5L67.9 305M67.9 305L69.8 306.4L71.8 307.5M73.7 309.2L71.8 307.5M71.8 307.5L71.8 307.5M70.5 331.7L72.1 333.6M70.5 331.7L68.2 333.6L67.4 336.6M72.1 333.6L71.4 335.2L71.3 337M71.3 337L69.5 338.3M69.5 338.3L68 337.5M67.4 336.6L68 337.5M75.3 333.8L73.7 333.4L72.1 333.6M70.4 331.3L70.5 331.7M64.5 330.6L64.4 330.7M65.6 335.3L67.4 336.6M74.8 337L73 336.9L71.3 337M70.5 340.7L69.5 338.3M64.2 341.2L66.2 339.4L68 337.5M58.9 333.9L55.8 333.6L52.9 334.2M51.8 331.9L52.9 334.2M60 331.3L57.8 329.3L56.7 326.6M51.8 331.9L53 329.6L54.4 327.5M54.4 327.5L56.7 326.6M63.5 324.6L64.6 325.9L65.1 327.6M63.5 324.6L61 324.7L58.6 324.9L56.7 326.5M56.7 326.5L56.7 326.6M54.9 316.1L55.4 318.5L54.8 320.8M54.9 316.1L56.6 315.6L58 314.4M58 314.4L58.3 314.5M58.3 314.5L60.3 316.6L60.7 319.5M60.7 319.5L58.5 320.8L56.5 322.4M56.5 322.4L54.8 320.8M50 310.3L50.4 312.6L50.1 314.8M55.8 308.5L56.9 311.5L58 314.4M50.1 314.8L52.4 316L54.9 316.1M61.8 319.8L63.4 318L65.3 316.5M63.2 312.6L63.9 314.7L65.3 316.5M63.2 312.6L60.6 313.2L58.3 314.5M61.8 319.8L60.7 319.5M61.8 319.8L62.9 321.3L63.9 322.9M63.5 324.6L63.9 322.9M56.7 326.5L56.1 324.5L56.5 322.4M76.3 391.3L77.3 389.6L77.8 387.7M76.3 391.3L77.8 393L79.3 394.7M77.8 387.7L79.9 388.9L81.8 390.4M79.3 394.7L81 392.8L81.8 390.4M73.4 391.9L71.8 390.1L71.6 387.6M73.4 391.9L76.3 391.3M73 385.3L71.6 387.6M76 384.8L77.6 386.5M77.6 386.5L77.8 387.7M79.5 395.8L79.3 394.7M72 394L73.4 391.9M88.1 386.5L86.5 386.5L84.9 386.2M88.1 386.5L90 388.5L90.6 391.1M84.9 386.2L84.3 388.1L83.5 390M90.6 391.1L88 391.9L85.2 392.1M83.5 390L85.2 392.1M91.6 383.6L90.7 383.7M90.7 383.7L89.1 384.8L88.1 386.5M91 391.3L90.6 391.1M77.6 386.5L80.8 385.9L83.9 384.8M83.9 384.8L84.9 386.2M81.8 390.4L83.5 390M84.6 396L85.2 394.1L85.2 392.1M110.2 370.2L109.9 368.3L109.9 366.4M110.2 370.2L112.6 369.9L114.8 369.2M109.9 366.4L112.7 363.1M114.8 369.2L115.7 365.7M116.7 373.7L115.1 371.7L114.8 369.2M110.7 373L110.2 370.2M110.2 370.2L110.2 370.2M108.6 359.8L107.2 361.6L106.2 364.8M106.2 364.8L107.9 366L109.9 366.4M103.1 333.8L107.4 336.1M107.1 358.8L106.9 358.7L104.7 358.5M104.7 358.5L103.5 356.6L102.4 354.7M104.1 352.8L102.4 354.7M93.2 362.6L95.1 364.1L97.4 364.6M93.2 362.6L93 361.8M93 361.8L96.1 360.7L98 358M97.4 364.6L98.8 362.9L100.3 361.4M100.3 361.4L99.4 359.5L98 358M81.9 339.5L82.3 339.2M81.3 334L82.7 336.2M82.3 339.2L82 337.6L82.7 336.2M59 390.1L59.1 389.2M59 390.1L60.1 393.1L62.1 395.5M59.1 389.2L61.5 387.8M61.5 387.8L63.7 388.4L66 388.8M63.6 395.2L62.1 395.5M63.6 395.2L65.2 392.6L66.5 389.9M66 388.8L66.4 389.2M66.5 389.9L66.4 389.2M54.6 386.4L54.9 386.3M54.6 394.4L56.7 392.1L59 390.1M54.9 386.3L56.8 388L59.1 389.2M61.7 396.1L62.1 395.5M67 397.1L65 396.6L63.6 395.2M70.1 393.8L68.8 391.4L66.5 389.9M71.6 387.6L69.2 389.3L66.4 389.2M70 382.4L68.5 382.7L67 383.4M67 383.4L65.7 385.9L66 388.8M63.4 381L63.5 379.4L63.8 377.8M63.4 381L61.6 382.5M61.6 382.5L59.3 381.9L56.9 381.5M63.8 377.8L62.8 375.5M56.9 381.5L56 379.7M62.8 375.5L62.4 375.3M62.4 375.3L60.7 377.4L58 377.3L56.2 378.8M56 379.7L56.2 378.8M70.7 378.3L67.3 378L63.8 377.8M67 383.4L65 382.5L63.4 381M61.5 387.8L62.1 385.2L61.6 382.5M54.9 386.3L55.9 383.9L56.9 381.5M72.3 376.6L72.2 376.5M68.2 372.2L69.8 374.7L72.2 376.5M68.2 372.2L65.5 373.9L62.8 375.5M49.4 380.7L52.8 381.2L56 379.7M49.4 380.7L49.6 382.8M67.3 368.7L68.3 370.2M68.2 372.2L68.3 370.2M62 374.6L62.4 375.3M62.5 368.3L64.9 367.9L67.3 368.7M53.5 373.5L54.8 376.2L56.2 378.8M49.4 380.7L48.4 379.6M48.4 379.6L50.4 376.7L52.2 373.7M62.2 364.1L64.4 363.6L66.3 362.5M67.3 368.7L68.2 367L68.2 365M68.2 365L67.1 363.8L66.3 362.5M64.7 358.5L65.5 360.3L66.4 362.2M66.3 362.5L66.4 362.2M94.8 378.9L95.2 380M94.8 378.9L93 377.8L90.9 377.6M90.7 383.7L88.6 382.1L87.4 379.8M90.9 377.6L89 378.5L87.4 379.8M109.1 375.5L106.3 375.9M107.4 381.2L105.5 380L104.8 377.9M106.3 375.9L104.8 377.9M100.4 381.8L101.6 380L102.8 378.3M104.8 377.9L102.8 378.3M96.8 368.7L95.9 371.6L96.6 374.5M96.8 368.7L93.9 369.2L91 368.4M90.2 371.7L90.2 369.9L91 368.4M90.2 371.7L92.9 374L96.4 374.6M96.4 374.6L96.6 374.5M98.1 367.6L98 366.1L97.4 364.6M98.1 367.6L96.8 368.7M90.7 367.6L91 368.4M90.7 367.6L92.1 365.1L93.2 362.6M90.9 377.6L90.5 374.9L89.3 372.5M89.3 372.5L90.2 371.7M94.8 378.9L96 376.9L96.4 374.6M99.8 374.5L101.7 376.1L102.8 378.3M99.8 374.5L98.2 374.8L96.6 374.5M52.5 346.2L50.9 344.2L48.6 343M52.5 346.2L52.5 346.2M52.5 346.2L53.6 343.1L54.6 340M48.6 343L49.5 340.9L49 338.6M54.6 340L53.8 338.4L52.1 337.5M49 338.6L50.4 337.6L52.1 337.5M54.2 352L53.6 349.3L52.2 346.8M52.2 346.8L52.5 346.2M59.2 346.1L55.8 345.4L52.5 346.2M57.9 339.9L56.2 340L54.6 340M52.9 334.2L52.5 335.9L52.1 337.5M34.2 355L32.7 353.5L32 351.6M34.2 355L31.7 355.5L29.7 357M32 351.6L30.1 352.5L28 352.2M29.7 357L28.2 356.4L27 355.3M27 355.3L27.8 353.9L28 352.2M30.6 361.7L30.5 359.3L29.7 357M35.4 355.5L34.2 355M24.4 356.5L27 355.3M21.2 351.1L22.7 349.3M22.7 349.3L24.6 350.2L26.7 349.7M26.7 349.7L28 352.2M15.7 347.7L17.8 346.7L18.9 344.6M15 340.5L16.2 340.7M18.9 344.6L17.4 342.8L16.2 340.7M15.1 326.4L16.8 328.3L18.8 330M16.8 333.3L17.3 333.2M18.8 330L18.1 331.6L17.3 333.2M45.7 357.7L45.4 355.6L45.2 353.4M51.4 354.9L49.1 354L47.8 351.8M45.2 353.4L47.8 351.8M40 356.1L40.5 353.7L42.2 352M45.2 353.4L43.5 353.2L42.2 352M52.2 346.8L49.8 347.3L48 349M48 349L47.8 351.8M44.2 373.5L41.9 374.2M44.2 373.5L45.5 376.2L46.4 379M41.9 374.2L39.8 375.9L39.1 378.6M46.4 379L44.4 380.6L42.1 381.6M42.1 381.6L39.6 380.5M39.6 380.5L39.1 378.6M45.3 371.3L44.2 373.5M39 372.2L39.6 372.4L41.9 374.2M48.4 379.6L46.4 379M36.7 376.3L37.8 376.6L39.1 378.6M43.1 386L43.3 383.6L42.1 381.6M35.8 382.9L37.5 381.3L39.6 380.5M30.9 318.4L32 318.4M30.9 318.4L28.9 319.9L27.1 321.7M32 318.4L32.1 320.6L32.8 322.7M27.1 321.7L27.1 321.8M27.1 321.8L29.1 322.8L31.2 323.7M32.8 322.7L31.2 323.7M27.1 314.7L29 316.5L30.9 318.4M34.2 316.9L32 318.4M24.9 320.7L27.1 321.7M35 323.3L32.8 322.7M43.4 292.7L40.9 292.8L38.5 293.9M43.4 292.7L44.6 295.8L46.3 298.7M46.3 298.7L46.1 299.2M38.5 293.9L37.2 295.8M46 299.2L46.1 299.2M46 299.2L43.4 298.7L41 299.8L38.6 299M37.2 295.8L37.5 297.9M38.6 299L37.5 297.9M36.3 287.2L37 289.6L38.4 291.6L38.5 293.9M45.2 289.7L44.2 291.1L43.4 292.7M49.6 297.1L47.8 297.7L46.3 298.7M49.7 303.7L48.5 300.9L46.1 299.2M30.1 293.7L32.3 295.4L34.6 296.1L37.2 295.8M43.2 304.5L45.4 302.3L46 299.2M39.4 303.5L39.2 301.2L38.6 299M33 301.5L35.1 299.5L37.5 297.9M94.8 299.8L93.7 298.6M94.8 299.8L94.9 302.9L94 305.9M93.7 298.6L91.5 297.8L89.2 298.2M94 305.9L91.4 305.5L89.3 307.2L87 307.4M89.2 298.2L88 299.9L86 300.6M87 307.4L87.1 303.9L86 300.7M86 300.7L86 300.6M101.9 300.5L99.4 300.1L97 300.8L94.8 299.8M96.4 291.1L95.1 293.6L95.1 296.4L93.7 298.6M95.7 307.9L94 305.9M86.7 291L87.8 293.5L89.2 295.6L89.2 298.2M86 309L87 307.4M81.3 295.3L82.2 297.9L84 299.5L86 300.6M80.9 301.7L83.4 300.7L86 300.7M66.2 307.8L67.9 309.2L69.2 311M66.2 307.8L64.9 308.9L63.4 309.4M63.4 309.4L63.4 312.2M63.4 312.2L66.3 312.8L69.2 312.2M69.2 312.2L69.2 311M67.9 305L66.8 306.3L66.2 307.8M71.8 307.5L70 308.8L69.2 311M60.4 306.6L61.8 308.1L63.4 309.4M63.2 312.6L63.4 312.2M72.2 313.2L70.6 313L69.2 312.2M69.2 312.2L69.2 312.2M68 316.4L66.9 316.9M68 316.4L70.8 316.4L73.3 317.7M66.9 316.9L67.4 319.3L67.8 321.6M73.3 317.7L72.6 319.9M72.6 319.9L70.4 320.6L68.4 321.8M68.4 321.8L67.8 321.6M65.3 316.5L66.9 316.9M69.2 312.2L69.2 314.5L68 316.4M74.8 316.3L73.3 317.7M63.9 322.9L66 322.6L67.8 321.6M75 324.9L73.9 322.3L72.6 319.9M70 326.1L68.5 324.2L68.4 321.8M50.1 314.8L48.5 316.6M54.8 320.8L52.2 321.1L49.5 321.3M49.5 321.3L48.9 318.9L48.5 316.6M43.9 314.2L45.1 315.6L46.6 316.5M40.6 319L43 319.5M43 319.5L44.9 318.1L46.6 316.5M46.6 316.5L48.5 316.6M93 361.8L92.6 361.5M90.7 367.6L88.4 365.9L85.7 365.2M85.7 365.2L86 363.1L87 361.3M92.6 361.5L89.8 361.1L87 361.3M86.2 373.1L87.7 372.7L89.3 372.5M83.5 370.5L83.3 367.8M83.5 370.5L85.3 371.4L86.2 373.1M85.7 365.2L84.9 365.5M83.3 367.8L84.9 365.5M87.1 379.7L85.5 377.9L85.2 375.5M87.1 379.7L85.3 380.9L83.8 382.3M81.6 380.8L81.3 378.8L81.1 376.9M81.6 380.8L83.8 382.3M81.1 376.9L82.9 375.5L85.2 375.5M86.2 373.1L85.2 375.5M87.4 379.8L87.1 379.7M83.9 384.8L83.8 382.3M79.9 376.1L78 378L75.4 378.4M79.9 376.1L81.1 376.9M76.9 382.3L79 380.8L81.6 380.8M79.9 376.1L79.9 374.3L79 372.7M79 372.7L81.1 371.3L83.5 370.5M102.2 371.4L104.5 371.4M102.2 371.4L100.8 369.9L99.8 368M99.8 368L102.1 366.6L104.2 365M105.6 370.2L105.6 367.7L104.9 365.2M105.6 370.2L104.5 371.4M104.2 365L104.9 365.2M99.8 374.5L100.8 372.8L102.2 371.4M106.3 375.9L105.9 373.5L104.5 371.4M98.1 367.6L99.8 368M101.9 361.7L100.3 361.4M101.9 361.7L102.5 363.7L104.2 365M110.2 370.2L107.9 370.5L105.6 370.2M106.2 364.8L104.9 365.2M104.7 358.5L103.2 360.1L101.9 361.7M22.7 349.3L22.2 347.4L21.8 345.5M18.9 344.6L21.1 344.8M21.8 345.5L21.1 344.8M26.7 349.7L27.1 348.1L28.4 347M21.8 345.5L24.2 344.5L26.8 344.1M28.4 347L27.3 345.7L26.8 344.1M21.4 323.4L22.1 325.2L22.2 327.1M18.8 330L20.5 329.4M22.2 327.1L20.5 329.4M24.7 339.8L22.6 340M24.7 339.8L26 338.1L27.4 336.5M22.6 340L21.5 338.7L20.1 337.7M27.4 336.5L26.8 334.8L25.4 333.7M20.1 337.7L20.1 336.5M20.1 336.5L22.2 334.5L24.8 333.7M24.8 333.7L25.4 333.7M21.1 344.8L22.3 342.6L22.6 340M26.8 344.1L27.1 343.1M27.1 343.1L25.8 341.5L24.7 339.8M16.2 340.7L18.2 339.2L20.1 337.7M17.3 333.2L18.5 335L20.1 336.5M20.5 329.4L22 332.2L24.8 333.7M50.4 325.1L49.8 323.2L49.4 321.4M50.4 325.1L48.8 326.8L46.8 327.9M49.4 321.4L46.9 321.6L44.8 323M46.8 327.9L45.6 326L44.3 324.2M44.3 324.2L44.8 323M54.4 327.5L52.6 325.9L50.4 325.1M49.5 321.3L49.4 321.4M48.5 331.3L50.2 331.4L51.8 331.9M46.6 329.3L48.5 331.3M46.6 329.3L46.8 327.9M43 319.5L44 321.2L44.8 323M40.9 329.6L42.3 330.6M46.6 329.3L44.4 329.7L42.3 330.6M40.7 325.4L41.1 327.5L40.9 329.6M40.7 325.4L42.6 325L44.3 324.2M40.7 325.4L40.3 325M98 358L98 356.4M102.4 354.7L101 354.5M101 354.5L98.6 355.6M98 356.4L98.6 355.6M80.2 361.6L81.7 360.4L82.4 358.7M84.9 365.5L83.1 362.9L80.2 361.6M87 361.3L86.6 360.3M86.6 360.3L84.6 359.4L82.4 358.7M79 372.7L76.7 371.3M83.3 367.8L80.9 366.9L78.4 366.8M78.4 366.8L77.5 369.1L76.7 371.3M72.2 376.5L73.7 373.8L75.5 371.5M68.3 370.2L70.5 369.4L72.7 369M72.7 369L74.3 370.1L75.5 371.5M75.5 371.5L76.7 371.3M71.1 351.4L73.2 352.3L75.6 352.4M75.7 345.9L75.8 346.1M75.8 346.1L76.7 348.7L76.3 351.4M75.6 352.4L76.3 351.4M76.1 355.8L76.2 354.1L75.6 352.4M69.6 356.2L69.6 356.2M76.1 355.8L75.6 356.7M75.6 356.7L72.6 355.9L69.6 356.2M66.4 362.2L68.4 361.5L69.8 359.8M69.6 356.2L70.3 358L69.8 359.8M31.2 323.7L30.8 325.3L31 326.9M35.9 325.5L34.8 327.7M31 326.9L33 327L34.8 327.7M42.2 352L41.7 350.6M48 349L46.6 348L45.1 347.5M41.7 350.6L43 348.7L45.1 347.5M36 355.3L36 352.3L37.6 349.9M37.6 349.9L39.5 349.5M41.7 350.6L39.5 349.5M48.6 343L46.3 343.1L44.2 344.3M45.1 347.5L45.1 345.8L44.2 344.3M35.3 344.6L35.7 346.6L35.4 348.6M35.3 344.6L32.7 343.9M32.7 343.9L31.6 345.4L30.4 346.9M30.4 346.9L31.1 348.6L32.8 349.6M32.8 349.6L35.4 348.6M31.1 340.9L31.8 342.4L32.7 343.9M31.1 340.9L29 341.9L27.1 343.1M28.4 347L30.4 346.9M32 351.6L32.8 349.6M37.6 349.9L35.4 348.6M44.2 344.3L43 343.3M49 338.6L47.5 337.4L45.6 337.3M43 343.3L44.1 340.2L45.6 337.3M48.5 331.3L47.7 334.5L45.2 336.7M42.3 330.6L41.7 333.1L42.6 335.5M42.6 335.5L45.2 336.7M45.6 337.3L45.2 336.7M31.1 340.9L31.3 339.8M27.4 336.5L29.3 336.9M31.3 339.8L30.7 338L29.3 336.9M92.6 361.5L92.2 358.3L91.2 355.2M86.6 360.3L87.4 357.8L88.7 355.4M91.2 355.2L88.7 355.4M98 356.4L94.7 355.2L91.2 355.2M91.2 355.2L91.2 355.2M82 356.1L82.4 358.7M82 356.1L84.9 356L87.4 354.5M87.4 354.5L88.7 355.4M79.5 361.7L77.6 360.9L75.7 359.9M79.5 361.7L78.7 364L78.2 366.4M78.2 366.4L75.8 365.3L73.2 364.9M75.7 359.9L74.3 360.7L73.4 362.1M73.4 362.1L73 364.4M73 364.4L73.2 364.9M75.6 356.7L75.1 358.3L75.7 359.9M81.6 355.7L78.9 355.9L76.1 355.8M80.2 361.6L79.5 361.7M82 356.1L81.6 355.7M78.4 366.8L78.2 366.4M72.7 369L73.1 366.9L73.2 364.9M69.8 359.8L71.2 361.5L73.4 362.1M68.2 365L70.5 364L73 364.4M29.9 327.6L29.4 330.2M29.9 327.6L28.3 327.1L27.1 325.9M27.1 325.9L24.5 327.4M24.5 327.4L25.6 329.4L26.8 331.3M26.8 331.3L29.4 330.2M27.1 321.8L27.2 323.8L27.1 325.9M31 326.9L29.9 327.6M22.2 327.1L24.5 327.4M25.4 333.7L26.8 331.3M29.3 336.9L30.3 334.3L32.6 332.9M32.6 332.9L31.2 331.3L29.4 330.2M38.5 330.4L37.5 332.3L36.9 334.4M38.5 330.4L36.7 329.5L35.1 328.4M35.1 328.4L33.2 330.3L32.7 332.9M32.7 332.9L34.2 333.8L35.8 334.7M36.9 334.4L35.8 334.7M40.4 336.4L42.6 335.5M40.4 336.4L38.3 335.9L36.9 334.4M40.9 329.6L38.5 330.4M34.8 327.7L35.1 328.4M32.6 332.9L32.7 332.9M34.5 338.8L34.6 336.5L35.8 334.7M34.5 338.8L33 339.4L31.3 339.8M40 345.1L41.3 344L42.9 343.3M40 345.1L38.3 344.1L36.4 344M42.9 343.3L41.3 341.3L39.3 339.6M36.4 344L36.5 342.1L37.1 340.4M37.1 340.4L39.3 339.6M39.5 349.5L39.9 347.3L40 345.1M43 343.3L42.9 343.3M35.3 344.6L36.4 344M40.4 336.4L39.3 337.8L39.3 339.6M34.5 338.8L35.9 339.4L37.1 340.4M86.1 350.8L87 349.4L87.8 347.9M86.1 350.8L83.9 351.2L81.7 351M87.8 347.9L86 346.9L84.8 345.3M81.7 351L81.5 350.8M81.5 350.8L81.7 348.9L81.2 347.2M81.2 347.2L82.7 345.5M82.7 345.5L84.8 345.3M81.6 355.7L82.3 353.3L81.7 351M87.4 354.5L87.2 352.5L86.1 350.8M76.3 351.4L78.9 351.5L81.5 350.8M75.8 346.1L78.4 347.2L81.2 347.2M80.9 342.5L82 343.9L82.7 345.5M91.2 355.2L92.2 353.2L92.7 351M87.8 347.9L89.3 347.7M89.3 347.7L91.5 348.9L92.7 351M98.6 355.6L97.8 352.4L95.4 350.1M95.4 350.1L92.7 351M97.5 332.5L96.4 334.3L94.6 335.4M88.6 330.7L88.6 332.4L89.4 334M94.6 335.4L92 334.6L89.4 334M82.7 336.2L85.5 336.7L88.3 335.9M89.4 334L88.3 335.9M95.4 350.1L96.6 348.5M101 354.5L100.3 351.6L100.6 348.7M96.6 348.5L98.6 348.5L100.6 348.7M100.6 348.7L102.7 346.9M102.4 333.9L101.8 336.2L100.5 338M100.5 338L101.4 339.6M100.5 338L98.2 339.1L95.7 339.1M94.6 335.4L95 338.2M95.7 339.1L95 338.2M95.8 340L94.8 342M95.8 340L97.4 342L99.8 342.9M94.8 342L96 343.5L96.3 345.5M99.8 342.9L98.1 344.1L96.3 345.5M100.9 342.9L99.8 342.9M95.7 339.1L95.8 340M96.6 348.5L96 346.5M96 346.5L96.3 345.5M94.8 342L92.9 342.8M96 346.5L94.3 345.7L92.4 345.5M92.9 342.8L92.4 345.5M89.3 347.7L89.9 346.8M89.9 346.8L92.4 345.5M89.5 342.8L91.1 341.9M89.5 342.8L88 342L86.4 341.2M91.1 341.9L91.2 339.7M91.2 339.7L89.6 339.1L88.4 337.9M88.4 337.9L87.4 339.5L86.4 341.2M92.9 342.8L91.1 341.9M89.9 346.8L89.6 344.8L89.5 342.8M84.8 345.3L86 343.4L86.4 341.2M95 338.2L93.1 338.7L91.2 339.7M88.3 335.9L88.4 337.9M82.3 339.2L84.1 340.8L86.4 341.2"/><path id="o" d="M45.6 239.3L44.8 236L44.4 232.8L43.4 232.9L43.8 236L44.6 239.5ZM46.5 240.1L44 240.1L44.2 242.2L46.6 242.3ZM48.4 243.4L46.8 243.3L46.9 244.8L48.3 244.9ZM81.8 243.9L78.9 244.3L78.8 246.2L80.6 247.3L82.6 245.8ZM36.4 261.4L36.5 262L39.9 261.7L39.8 261.1ZM35.4 261.5L32.6 261.8L32.7 262.4L35.5 262.1ZM31.5 261.9L28.5 262.3L28.6 262.9L31.6 262.5ZM27.5 262.4L24 263L24.1 263.6L27.6 263ZM20.6 265.2L21 266.2L22.5 265.6L22.2 264.6ZM47.1 248.7L49.2 250.8L50.8 253.7L51.2 257L50 259.1L46.7 260.3L44.2 265.5L43.5 269.5L41.3 269L41.2 265.3L39.2 263.2L34.2 263.2L28.3 263.7L25.8 265.3L26 266.5L27.5 270L28.8 274.2L27.9 278.3L26.2 283.3L25 286.7L21.7 287.5L21.2 290L25 291.7L25.8 295L23.3 298.3L21.2 300.4L18.3 303.5L12.8 303.8L10.3 305.8L12 310.8L13.2 315L10.8 319.2L8.2 322.5L9.9 326.5L11.2 330.5L13.7 334.3L14.9 338.5L11.6 341L10.8 344.3L12.4 348L15.8 350.2L15.3 354.3L14.1 357.2L16.6 360.2L19.2 363.7L23.3 365.8L27.5 366.2L31.7 367.4L36.7 368.7L40 369.9L38.3 373.7L35.8 377.8L34.2 382.8L32.9 388L31 392L30 395L31 399L33 401.3L37.5 401.3L41.7 400.9L45 400.5L45.8 398L47.5 396.8L50 398L54.2 398.4L58.3 398.8L62.5 400.9L65.8 400.5L68.3 402.2L70 404.7L71.7 407.2L74.2 404.7L76.7 402.2L81.7 403L84.2 404.3L88.3 403.5L92.5 401.4L96.7 400.2L100.8 398.1L105 398.5L108.3 397.2L110.8 398.1L112.1 400.6L113.8 401L114.2 398.1L112.9 396L111.2 391.8L109.2 388.5L111.7 386L115.8 383.5L118.3 381L118.8 379.3L120 376.8L122.9 377.7L123.3 376.5L124.2 374.3L123.3 371L119.2 368.1L115 365.2L110.8 361.4L106.7 358.5L104.6 354.3L103.3 350.2L102.5 346L100.9 343L100.5 341L101.3 339.7L104.7 336.8L109.7 335.5L113 333L116.3 330.5L119.7 328L123.8 326.3L127.2 324.2L128.6 321.8L130.8 320.5L132.4 322.4L134.7 324.2L136.7 320.3L137.5 314.5L135.8 309.9L132.5 307L131.2 302L132.1 297L130.8 292L129.6 290.3L129.2 287L126.7 282.8L123.3 279.5L123.8 276.2L125.4 271.2L125 267L123.3 262L122.5 260.3L121.2 256.6L118.3 253.7L115 250.7L111.7 251.4L110.6 248.9L112.5 247.8L114.6 247L112.5 243.7L113.3 242L110.8 241.2L109.2 239.5L106.7 241.2L105.8 245.3L102.5 246.2L98.3 244.9L95 248.7L93.3 251.6L89.2 252.8L85.8 255.3L83.3 256.5L80 256.8L76.7 256.4L77.1 254.1L78.8 251.2L79.8 249L79.2 248.2L75 249.1L69.2 247.4L65.4 245.3L65.8 242L64.6 239.1L60 237.6L57 236.4L53.3 236.4L47.5 236.6L49.2 240.3L50.4 243.7L48.3 247Z"/></defs>
<g transform="translate(-0.3 -197.8)"><use href="#o" fill="#fbf4b9"/><path d="M75.9 258.6L75.9 258.6L75.9 258.6L75.9 258.6L75.9 258.6L75.8 259.3L74.8 260.4L74.8 260.4L74.8 260.4L74.8 260.4L74.8 260.4L74.8 260.4L74.8 260.4L74.8 260.4L74.8 260.4L74.8 260.4L74.8 260.4L75.2 262.3L75.3 264.2L75.3 264.2L75.3 264.2L75.3 264.2L75.3 264.2L75.3 264.2L75.4 264.2L75.4 264.2L75.4 264.2L75.4 264.2L75.4 264.2L75.4 264.2L75.6 264.3L76.6 266.7L76.6 269.2L76.6 269.2L76.6 269.2L76.6 269.2L76.6 269.3L76.6 269.3L76.6 269.3L76.6 269.3L76.6 269.3L76.6 269.3L76.6 269.3L76.7 269.3L76.7 269.3L76.7 269.3L76.7 269.3L76.7 269.3L76.7 269.3L76.7 269.3L78.2 269.2L79.5 270.8L79.6 270.8L79.6 270.8L79.6 270.8L81.4 271.9L81.4 272L81.4 272L81.4 272L81.4 272L81.4 272L81.4 272L81.4 272L81.4 272L81.4 272L81.4 272L81.4 272.1L82.7 273.3L83.6 274.9L83.6 274.9L83.6 274.9L83.6 274.9L83.6 274.9L83.6 274.9L83.6 274.9L83.6 274.9L83.6 274.9L83.6 274.9L83.7 274.9L83.7 274.9L83.7 274.9L83.7 274.9L85.3 274.5L86.8 274.9L86.8 274.9L86.8 274.9L86.8 274.9L86.8 274.9L86.8 274.9L86.9 274.9L86.9 274.9L86.9 274.9L86.9 274.9L86.9 274.9L88.3 273.6L88.3 273.6L88.3 273.6L88.3 273.6L88.3 273.6L89 271.9L90.9 271.6L92.7 272.3L93.4 274.7L93.4 274.7L93.4 274.7L94.6 276.9L92.6 278.2L92.6 278.2L92.6 278.2L92.6 278.2L92.6 278.2L91.2 280.2L91.2 280.2L91.2 280.2L90.7 281.3L88.1 279.5L88.1 279.5L88.1 279.5L88.1 279.5L88.1 279.5L88.1 279.5L88 279.5L84.8 279.5L84.8 279.5L84.8 279.5L84.8 279.5L84.8 279.5L84.2 279.8L83 279.2L83 279.2L83 279.2L83 279.2L83 279.2L83 279.2L83 279.2L83 279.2L83 279.2L83 279.2L83 279.2L81.4 280.1L79.7 280.8L79.7 280.8L79.7 280.8L79.7 280.8L79.7 280.8L79.7 280.8L79.7 280.9L79.7 280.9L79.7 280.9L79.7 280.9L79.7 280.9L79.7 280.9L79.7 280.9L79.7 280.9L79.7 280.9L79.7 280.9L79.7 280.9L80.5 282.8L80.5 282.8L80.5 282.8L80.5 282.8L80.5 282.8L80.5 282.9L82.1 284.2L80.5 284.6L80.5 284.6L80.5 284.6L80.5 284.6L80.5 284.6L80.5 284.7L80.5 284.7L79.5 286L77.9 285.8L77.9 285.8L77.9 285.8L77.9 285.8L77.9 285.8L77.9 285.8L77.9 285.8L77.8 285.9L77.8 285.9L77.8 285.9L77.8 285.9L77.8 285.9L77.8 285.9L77.1 287.3L77.1 287.3L77.1 287.3L77.1 287.3L77.1 287.4L77.1 287.4L77.1 287.4L77.4 289L77.4 289L77.4 289L77.4 289L77.4 289L77.4 289L77.4 289L78.9 290.7L77.9 292.4L77.9 292.4L77.9 292.4L77.9 292.4L77.9 292.4L77.9 292.4L77.9 292.4L77.9 292.4L77.9 292.4L78.7 294.9L78.7 294.9L78.7 294.9L78.7 294.9L78.7 294.9L78.8 294.9L78.8 295L78.8 295L78.8 295L78.8 295L80.4 295.6L79.8 297.9L78.9 300.1L77.8 300.1L76.2 298.5L76.2 298.5L74.6 297L74.6 297L74.6 297L74.6 297L74.6 297L74.6 297L74.6 297L74.5 297L74.5 297L74.5 297L74.5 297L74.5 297L74.5 297L74.5 297L74.5 297L74.5 297L74.5 297L74.5 297L74.5 297L74.5 297L74.5 297L74.5 297L74.5 297L74 299.6L72.8 302L72.8 302L72.8 302L72.8 302L72.8 302L72.8 302L72.8 302L72.8 302.1L72.8 302.1L72.8 302.1L72.8 302.1L72.8 302.1L72.8 302.1L72.8 302.1L74.6 303.7L73.2 305.6L73.2 305.6L71.8 307.5L71.8 307.5L71.8 307.5L71.8 307.5L71.8 307.5L69.9 308.8L69.9 308.8L69.9 308.8L69.9 308.8L69.9 308.8L69.9 308.8L69.9 308.8L69.2 311L69.2 311L69.2 311L69.2 311L69.1 312.2L69.1 312.2L69.1 312.2L69.1 312.2L69.1 312.2L69.1 312.2L69.1 312.2L69.1 312.2L69.1 314.5L68 316.3L66.9 316.9L66.9 316.9L66.9 316.9L66.9 316.9L66.9 316.9L66.9 316.9L66.9 316.9L66.9 316.9L66.9 316.9L66.9 316.9L66.9 316.9L66.9 316.9L66.9 316.9L66.9 316.9L67.3 319.3L67.7 321.5L65.9 322.6L63.9 322.9L63.9 322.9L63.9 322.9L63.9 322.9L63.9 322.9L63.9 322.9L63.9 322.9L63.9 322.9L63.9 322.9L63.9 322.9L63.9 322.9L63.9 322.9L63.9 322.9L63.4 324.6L63.4 324.6L63.4 324.6L63.4 324.6L63.4 324.6L63.4 324.6L63.4 324.6L63.4 324.6L63.4 324.6L63.4 324.6L63.5 324.6L64.6 326L65.1 327.6L64.4 329L64.4 329L64.4 329L64.4 329L64.4 329.1L64.4 329.1L64.4 330.6L64.4 330.6L64.4 330.6L64.4 330.7L64.4 330.7L64.4 330.7L64.4 330.7L64.4 330.7L64.4 330.7L64.4 330.7L64.4 330.7L64.9 333L64.9 333.1L65.6 335.4L65.6 335.4L65.6 335.4L65.6 335.4L65.6 335.4L65.6 335.4L65.6 335.4L65.6 335.4L67.4 336.6L67.9 337.6L67.9 337.6L67.9 337.6L67.9 337.6L67.9 337.6L67.9 337.6L68 337.6L69.5 338.3L69.5 338.3L69.5 338.3L69.5 338.3L69.5 338.3L69.5 338.3L69.5 338.3L69.5 338.3L69.5 338.3L69.5 338.3L69.5 338.3L69.5 338.3L71.3 337L73 336.9L74.7 337L76.4 339.1L76.4 339.1L76.4 339.1L76.4 339.1L76.4 339.1L76.4 339.1L76.4 339.1L76.4 339.1L76.4 339.1L76.4 339.1L76.4 339.1L76.5 339.1L76.5 339.1L76.5 339.1L76.5 339.1L77.2 338.8L79.5 339.4L79.5 339.4L79.5 339.4L81.9 339.6L81.9 339.6L81.9 339.6L81.9 339.6L81.9 339.6L81.9 339.6L81.9 339.6L81.9 339.6L82.3 339.2L82.3 339.2L82.3 339.2L82.3 339.2L82.3 339.2L82.3 339.2L82.3 339.2L82.3 339.2L82.3 339.2L82.3 339.2L82.3 339.2L82.3 339.2L82.1 337.6L82.8 336.3L85.5 336.8L85.5 336.8L85.5 336.8L85.5 336.8L85.5 336.8L85.6 336.8L88.2 336L88.4 337.9L88.4 337.9L88.4 337.9L88.4 337.9L88.4 337.9L88.4 337.9L88.4 337.9L88.4 337.9L89.6 339.1L89.6 339.1L89.6 339.1L89.6 339.1L89.6 339.1L91.2 339.7L91.2 339.7L91.2 339.7L91.2 339.7L91.2 339.7L91.2 339.7L91.3 339.7L91.3 339.7L91.3 339.7L91.3 339.7L93.1 338.8L95 338.3L95.7 339.1L95.7 339.1L95.7 339.1L95.7 339.1L95.7 339.2L95.7 339.2L95.7 339.2L95.7 339.2L95.7 339.2L95.7 339.2L95.7 339.2L98.2 339.1L98.2 339.1L98.3 339.1L98.3 339.1L98.3 339.1L100.6 338.1L100.6 338.1L100.6 338L100.6 338L100.6 338L100.6 338L101.9 336.2L101.9 336.2L101.9 336.2L101.9 336.2L101.9 336.2L102.4 334L103.1 333.8L103.1 333.8L103.1 333.8L103.1 333.8L103.1 333.8L103.1 333.8L103.1 333.8L103.1 333.8L103.1 333.8L104.3 331.8L104.3 331.8L105.4 329.8L105.4 329.8L105.4 329.8L105.4 329.8L105.4 329.8L105.4 329.8L105.4 329.8L105.4 329.8L105.4 329.8L105.4 329.8L105.4 329.8L105.4 329.8L105.4 329.8L103.9 327.9L103.4 325.5L103.4 325.5L103.4 325.5L103.4 325.5L103.4 325.5L103.4 325.5L103.4 325.5L103.3 325.5L103.3 325.5L103.3 325.5L103.3 325.5L101.6 324.8L101.5 321.6L101.5 321.6L101.5 321.6L101.5 321.6L101.5 321.6L101.5 321.6L99.8 318.9L100.7 316.4L100.8 316.3L103.7 316.9L106.2 318.8L106.2 318.8L106.3 318.8L106.3 318.8L106.3 318.8L109.4 319.6L109.4 319.6L109.4 319.6L109.4 319.6L109.4 319.6L109.4 319.6L109.4 319.6L109.4 319.6L109.4 319.6L109.4 319.6L109.5 319.6L109.5 319.6L109.5 319.6L109.5 319.6L109.5 319.6L109.5 319.6L109.5 319.6L109.5 319.6L109.5 319.6L109.5 319.5L109.5 319.5L109.5 319.5L108.9 316.9L109.5 314.3L110.1 311.5L110.1 311.5L110.1 311.5L110.1 311.5L110.1 311.5L110.1 311.5L110.1 311.5L110.1 311.5L110.1 311.5L110.1 311.5L108.5 309.5L108.4 306.5L110.6 304.5L110.6 304.5L110.6 304.5L110.6 304.5L110.6 304.5L110.6 304.5L111.4 302L111.4 302L111.4 302L111.4 302L111.4 302L111.4 302L111.4 302L111.4 302L111.4 302L110.2 299.9L110.2 299.9L110.2 299.9L110.2 299.9L110.2 299.9L110.2 299.9L107.6 298.4L107.6 298.4L107.6 298.4L107.6 298.4L107.6 298.4L107.6 298.4L104.7 298.5L104.7 298.5L104.7 298.5L104.7 298.5L104.6 298.5L104.6 298.5L104.6 298.5L103.2 299.4L103.2 299.4L101.9 300.4L99.4 300.1L99.4 300.1L99.4 300.1L99.4 300.1L99.4 300.1L97 300.8L94.8 299.8L93.7 298.6L95.1 296.4L95.1 296.4L95.1 296.4L95.1 296.4L95.2 296.4L95.2 296.4L95.2 296.4L95.2 293.6L96.5 291.1L96.5 291.1L96.5 291.1L96.5 291.1L96.5 291.1L96.5 291.1L96.5 291.1L96.5 291.1L96.5 291.1L96.5 291.1L96.5 291.1L96.5 291.1L96.5 291.1L95.1 289.5L95 288L94.8 286.5L96.9 285.2L96.9 285.2L98.9 283.6L98.9 283.6L98.9 283.6L98.9 283.6L99 283.6L100.3 281.2L101.9 281.8L101.9 281.8L101.9 281.8L101.9 281.8L101.9 281.8L101.9 281.8L101.9 281.8L101.9 281.8L101.9 281.8L104.1 281.1L106.7 281L106.7 281L106.7 281L106.7 281L106.7 281L106.7 281L106.7 281L106.7 281L108.7 279L109.5 279.3L109.5 282.4L109.5 282.4L109.5 282.4L110 285.4L110 285.4L110 285.4L110 285.4L110 285.4L111.5 288L111.5 288L111.5 288L111.5 288L111.5 288L111.5 288L111.5 288L111.5 288L111.5 288L111.6 288L111.6 288L114.1 288.2L114.1 288.2L114.1 288.2L114.1 288.2L114.1 288.2L114.1 288.2L116.3 287.2L117.8 290.1L117.8 290.1L117.8 290.1L117.8 290.1L117.8 290.1L117.8 290.1L120.5 291.9L120.5 293.5L119.6 294.8L119.6 294.8L119.6 294.8L119.6 294.8L119.6 294.8L119.6 294.8L119.6 294.8L119.6 294.8L119.6 294.8L119.6 294.8L119.6 294.8L120.3 296.5L120.3 296.5L121.2 298.1L121.2 298.1L121.2 298.1L121.2 298.1L121.2 298.1L121.2 298.1L121.2 298.1L121.2 298.1L121.2 298.1L121.2 298.1L121.2 298.1L121.2 298.1L121.2 298.1L124.2 297.9L127.2 298.3L127.2 298.3L127.2 298.3L127.2 298.3L127.2 298.3L127.2 298.3L127.2 298.3L127.2 298.3L127.2 298.3L127.2 298.3L127.2 298.3L128.4 297L128.4 297L128.4 297L128.4 297L129.3 295.5L131.5 294.9L130.8 292L129.6 290.3L129.2 287L126.7 282.8L123.3 279.5L123.8 276.2L125.4 271.2L125 267L123.3 262L122.5 260.3L121.2 256.6L118.3 253.7L115 250.7L111.7 251.4L110.6 248.9L112.5 247.8L114.6 247L112.5 243.7L113.3 242L110.8 241.2L109.2 239.5L106.7 241.2L105.8 245.3L102.5 246.2L98.3 244.9L95 248.7L93.3 251.6L89.2 252.8L85.8 255.3L83.3 256.5L80 256.8L79 256.7L78.1 257.5L75.9 258.5L75.9 258.5L75.9 258.5L75.9 258.5L75.9 258.5L75.9 258.5Z" fill="#fdcb12"/><path d="M94.7 276.9L94.7 276.9L94.7 276.9L94.7 276.9L94.7 276.9L94.7 276.9L94.7 276.9L94.7 276.9L94.7 276.9L94.7 276.9L94.7 276.9L94.7 276.9L94.7 276.9L93.5 274.6L92.8 272.2L92.8 272.2L92.8 272.2L92.7 272.2L92.7 272.2L92.7 272.2L92.7 272.2L92.7 272.2L92.7 272.2L92.7 272.2L92.7 272.2L90.9 271.5L90.9 271.5L90.9 271.5L90.9 271.5L90.9 271.5L90.9 271.5L89 271.8L89 271.8L89 271.8L89 271.8L89 271.8L88.9 271.8L88.9 271.8L88.9 271.8L88.9 271.8L88.9 271.8L88.9 271.8L88.9 271.8L88.2 273.6L86.8 274.9L86.8 274.9L86.8 274.9L86.8 274.9L86.8 274.9L86.8 274.9L86.8 274.9L86.8 274.9L86.8 274.9L86.8 274.9L86.9 276.1L85.9 277.9L84.8 279.5L84.8 279.5L84.8 279.5L84.8 279.5L84.8 279.5L84.8 279.5L84.8 279.6L84.8 279.6L84.8 279.6L84.8 279.6L84.8 279.6L84.8 279.6L84.8 279.6L84.8 279.6L84.8 279.6L84.8 279.6L84.8 279.6L84.8 279.6L84.8 279.6L84.8 279.6L84.8 279.6L84.8 279.6L84.8 279.6L88 279.6L90.7 281.4L90.7 281.4L90.7 281.4L90.7 281.4L90.7 281.4L90.7 281.4L90.7 281.4L90.7 281.4L90.7 281.4L90.7 281.4L90.7 281.4L90.7 281.4L90.7 281.4L90.8 281.4L90.8 281.4L90.8 281.4L90.8 281.4L90.8 281.4L90.8 281.4L91.2 280.2L92.7 278.3L94.7 276.9L94.7 276.9L94.7 276.9ZM77.4 283.2L77.8 285.9L77.8 285.9L77.8 285.9L77.8 285.9L77.8 285.9L77.8 285.9L77.8 285.9L77.8 285.9L77.8 285.9L77.9 285.9L77.9 285.9L77.9 285.9L77.9 285.9L77.9 285.9L79.5 286.1L79.5 286.1L79.5 286.1L79.5 286.1L79.5 286.1L79.5 286.1L79.5 286.1L79.5 286.1L79.5 286.1L79.5 286.1L79.5 286.1L80.6 284.7L82.2 284.2L82.2 284.2L82.2 284.2L82.2 284.2L82.2 284.2L82.2 284.2L82.2 284.2L82.2 284.2L82.2 284.2L82.2 284.2L82.2 284.2L82.2 284.2L82.2 284.2L82.2 284.2L82.2 284.2L82.2 284.2L82.2 284.2L82.2 284.2L82.2 284.2L82.2 284.2L82.2 284.2L82.2 284.1L82.2 284.1L80.6 282.8L79.8 280.9L79.8 280.9L79.8 280.9L79.8 280.8L79.8 280.8L79.8 280.8L79.8 280.8L79.8 280.8L79.8 280.8L79.8 280.8L79.8 280.8L79.8 280.8L78.6 280.7L78.6 280.7L78.6 280.7L78.6 280.7L78.6 280.7L78.6 280.7L78.6 280.7L78.6 280.7L78.6 280.7L78.6 280.7L78.6 280.7L78.6 280.7L78.6 280.7L77.4 283.2L77.4 283.2L77.4 283.2L77.4 283.2L77.4 283.2L77.4 283.2ZM109.6 282.4L109.6 279.2L109.6 279.2L109.6 279.2L109.6 279.2L109.6 279.2L109.6 279.2L109.6 279.2L109.6 279.2L109.6 279.2L109.6 279.2L109.6 279.2L109.6 279.2L109.6 279.2L109.6 279.2L108.7 278.9L108.7 278.9L108.7 278.9L108.7 278.9L108.7 278.9L108.7 278.9L108.7 278.9L108.7 278.9L108.7 279L108.7 279L108.7 279L106.7 280.9L104.1 281L104.1 281L104.1 281L104.1 281L101.9 281.7L100.3 281L100.3 281L100.3 281L100.2 281L100.2 281L100.2 281L100.2 281L100.2 281L100.2 281L100.2 281.1L100.2 281.1L100.2 281.1L100.2 281.1L100.2 281.1L100.2 281.1L100.2 281.1L98.9 283.5L96.9 285.1L94.8 286.5L94.8 286.5L94.8 286.5L94.8 286.5L94.8 286.5L94.8 286.5L94.7 286.5L94.7 286.5L94.7 286.5L94.7 286.5L94.7 286.5L94.7 286.5L94.9 288L94.9 288L95 289.6L95.1 289.6L95.1 289.6L95.1 289.6L95.1 289.6L95.1 289.6L95.1 289.6L96.4 291.1L95.1 293.6L95.1 293.6L95.1 293.6L95.1 293.6L95.1 293.6L95.1 293.6L95.1 296.4L93.6 298.6L93.6 298.6L93.6 298.6L93.6 298.6L93.6 298.6L93.6 298.6L93.6 298.6L93.6 298.6L93.6 298.6L93.6 298.6L93.6 298.6L93.6 298.6L93.6 298.6L93.6 298.6L94.7 299.9L94.7 299.9L94.7 299.9L94.7 299.9L94.7 299.9L97 300.9L97 300.9L97 300.9L97 300.9L97 300.9L97 300.9L97 300.9L97 300.9L99.4 300.2L101.9 300.5L101.9 300.5L101.9 300.5L101.9 300.5L102 300.5L102 300.5L102 300.5L102 300.5L102 300.5L103.3 299.5L104.7 298.6L107.6 298.5L110.1 300L111.3 302L110.5 304.4L108.4 306.5L108.4 306.5L108.4 306.5L108.4 306.5L108.4 306.5L108.4 306.5L108.3 306.5L108.3 306.5L108.3 306.5L108.4 309.5L108.4 309.5L108.4 309.5L108.4 309.5L108.4 309.5L108.4 309.5L108.4 309.6L108.4 309.6L110 311.5L109.4 314.3L109.4 314.3L108.8 316.9L108.8 316.9L108.8 316.9L108.8 316.9L108.8 316.9L109.4 319.5L106.3 318.7L103.8 316.8L103.8 316.8L103.8 316.8L103.8 316.8L103.8 316.8L103.8 316.8L100.8 316.2L100.8 316.2L100.8 316.2L100.8 316.2L100.8 316.2L100.8 316.2L100.8 316.2L100.8 316.2L100.8 316.2L100.6 316.3L100.6 316.3L100.6 316.3L100.6 316.3L100.6 316.3L100.6 316.3L100.6 316.3L100.6 316.4L99.7 318.9L99.7 318.9L99.7 318.9L99.7 318.9L99.7 318.9L99.7 318.9L99.7 318.9L99.7 318.9L99.7 318.9L99.7 318.9L101.4 321.7L101.5 324.8L101.5 324.9L101.5 324.9L101.5 324.9L101.5 324.9L101.5 324.9L101.5 324.9L101.5 324.9L101.5 324.9L101.5 324.9L101.5 324.9L101.5 324.9L101.5 324.9L103.3 325.6L103.8 327.9L103.8 327.9L103.8 327.9L103.8 327.9L103.9 327.9L105.3 329.8L104.2 331.8L103 333.7L102.4 333.9L102.4 333.9L102.4 333.9L102.3 333.9L102.3 333.9L102.3 333.9L102.3 333.9L102.3 333.9L102.3 333.9L102.3 333.9L102.3 333.9L102.3 333.9L101.8 336.1L100.5 338L98.2 339L95.7 339.1L95.1 338.2L95.1 338.2L95.1 338.2L95.1 338.2L95.1 338.2L95.1 338.2L95.1 338.2L95 338.2L95 338.2L95 338.2L95 338.2L95 338.2L95 338.2L93 338.7L93 338.7L93 338.7L91.2 339.6L89.6 339L88.5 337.8L88.3 335.9L88.3 335.9L88.3 335.9L88.3 335.9L88.3 335.9L88.3 335.9L88.3 335.9L88.3 335.9L88.3 335.9L88.3 335.9L88.3 335.9L88.3 335.9L88.3 335.9L88.3 335.9L88.3 335.9L88.3 335.9L88.3 335.9L88.3 335.9L88.3 335.9L85.5 336.7L82.8 336.1L82.7 336.1L82.7 336.1L82.7 336.1L82.7 336.1L82.7 336.1L82.7 336.1L82.7 336.1L82.7 336.2L82.7 336.2L82.7 336.2L82.7 336.2L82.7 336.2L82.7 336.2L82 337.6L82 337.6L82 337.6L82 337.6L82 337.6L82 337.6L82 337.6L82.2 339.2L82.3 339.2L82.3 339.2L82.3 339.2L82.3 339.2L82.3 339.2L82.3 339.2L82.3 339.2L84.1 340.8L84.1 340.8L84.1 340.8L84.1 340.8L84.1 340.8L84.1 340.8L86.4 341.3L87.9 342.1L87.9 342.1L89.5 342.8L89.5 342.8L89.5 342.8L89.5 342.8L89.5 342.8L89.5 342.8L89.5 342.8L89.5 342.8L89.5 342.8L89.5 342.8L89.5 342.8L91.1 341.9L92.8 342.8L92.8 342.8L92.8 342.8L92.8 342.8L92.9 342.8L92.9 342.8L92.9 342.8L92.9 342.8L92.9 342.8L92.9 342.8L94.8 342L94.8 342L94.8 342L94.8 342L94.8 342L94.8 342L94.8 342L94.8 342L95.8 340L97.3 342.1L97.3 342.1L97.3 342.1L97.3 342.1L97.3 342.1L97.4 342.1L97.4 342.1L99.8 342.9L99.8 342.9L99.8 342.9L99.8 342.9L100.9 343L100.9 343L100.9 343L100.9 343L100.5 341L101.3 339.7L104.7 336.8L109.7 335.5L113 333L116.3 330.5L119.7 328L123.8 326.3L127.2 324.2L128.6 321.8L130.8 320.5L132.4 322.4L134.7 324.2L136.7 320.3L137.5 314.5L135.8 309.9L132.5 307L131.2 302L132.1 297L131.5 294.8L131.5 294.8L129.2 295.4L129.2 295.4L129.2 295.4L129.2 295.4L129.2 295.4L129.2 295.4L129.2 295.4L129.2 295.4L129.2 295.4L128.4 297L127.2 298.2L124.2 297.8L124.2 297.8L124.2 297.8L121.3 298L120.4 296.4L119.7 294.8L120.6 293.5L120.6 293.5L120.6 293.5L120.6 293.5L120.6 293.5L120.6 293.5L120.6 293.5L120.6 291.9L120.6 291.9L120.6 291.9L120.6 291.9L120.6 291.9L120.6 291.9L120.6 291.9L120.6 291.8L120.6 291.8L120.6 291.8L120.6 291.8L117.9 290L116.4 287.1L116.4 287.1L116.4 287.1L116.4 287.1L116.4 287.1L116.4 287.1L116.4 287.1L116.4 287.1L116.4 287.1L116.3 287.1L116.3 287.1L116.3 287.1L116.3 287.1L116.3 287.1L116.3 287.1L116.3 287.1L114 288.1L111.6 287.9L110.1 285.3Z" fill="#f8e76e"/><path d="M80.4 327L81.2 327.9L83.2 328.2L83.9 326.7L84 325.1L82 324.2L80.7 324.9Z" fill="#f8e76e" stroke="rgba(120,110,60,.45)" stroke-width=".25"/><path d="M45.2 324.4L46.8 325.7L48.2 325.7L49.6 323.9L48.6 322.3L47 321.5L45.3 323Z" fill="#f8e76e" stroke="rgba(120,110,60,.45)" stroke-width=".25"/><path d="M17.7 361.3L19.5 361.5L20.2 360.1L19.5 358.7L18.1 357.9L16.7 358.5L16.8 360.3Z" fill="#f8e76e" stroke="rgba(120,110,60,.45)" stroke-width=".25"/><path d="M52.4 377.5L51.1 378.7L50 380.1L51.3 381.8L52.9 381.3L54.5 380.4L53.9 378.5Z" fill="#f8e76e" stroke="rgba(120,110,60,.45)" stroke-width=".25"/><path d="M47.5 325.9L44.8 328.8L45.9 331.6L48.6 333.6L51.7 331.4L52 328.9L49.9 326Z" fill="#f8e76e" stroke="rgba(120,110,60,.45)" stroke-width=".25"/><path d="M21.1 355.8L18 358.3L18.2 360.9L20.4 363.6L23.5 362.2L24.8 360.2L23.4 356.9Z" fill="#f8e76e" stroke="rgba(120,110,60,.45)" stroke-width=".25"/><path d="M53.6 380.5L52.1 378.9L50.4 378.6L48.7 380.4L49.4 382.2L51.1 383.4L53.1 382Z" fill="#f8e76e" stroke="rgba(120,110,60,.45)" stroke-width=".25"/><path d="M66 265.3L64.1 264.8L62 266.2L62.8 268.2L64.7 269.5L66.9 269L67.2 266.7Z" fill="#f8e76e" stroke="rgba(120,110,60,.45)" stroke-width=".25"/><path d="M50.6 277.7L51 275.8L49.3 275.5L47.9 275.7L46.8 277.3L48 278.4L49.6 278.9Z" fill="#f8e76e" stroke="rgba(120,110,60,.45)" stroke-width=".25"/><path d="M109.5 298L108.2 297.6L107 297.6L106 298.8L106.8 299.8L108.1 300.3L109.4 299.6Z" fill="#fdcb12" stroke="rgba(120,110,60,.45)" stroke-width=".25"/><use href="#b" fill="none" stroke="rgba(115,100,45,.6)" stroke-width=".33"/><use href="#o" fill="none" stroke="rgba(140,120,40,.7)" stroke-width=".5"/></g>
<g transform="translate(144 -197.7)"><use href="#o" fill="#fdcb12"/><path d="M75.9 258.6L75.9 258.6L75.9 258.6L75.9 258.6L75.8 259.3L75.8 259.3L75.8 259.3L75.8 259.3L75.8 259.3L75.8 259.4L75.8 259.4L75.8 259.4L75.8 259.4L75.8 259.4L75.8 259.4L75.8 259.4L75.8 259.4L75.8 259.4L77.6 260.4L77.6 260.4L79.5 261.2L79 262.9L77.5 264L77.5 264L77.5 264L77.5 264L77.5 264L77.5 264L77.5 264L77.5 264L77.5 264L77.5 264L77.5 264L77.5 264L77.5 264L77.5 264L77.5 264L77.5 264L77.5 264L77.5 264L77.5 264L77.5 264L78.9 265.2L78.9 265.2L80.4 266.2L79.3 267.6L78.2 269.1L78.2 269.1L78.2 269.1L78.2 269.1L78.1 269.1L78.1 269.1L78.1 269.1L78.1 269.1L78.1 269.1L78.1 269.1L78.1 269.1L78.2 269.1L78.2 269.1L78.2 269.1L78.2 269.1L79.5 270.8L79.6 270.8L79.6 270.8L79.6 270.8L81.4 271.9L81.4 272L81.4 272L81.4 272L81.4 272L81.4 272L81.4 272L81.4 272L81.4 272L81.4 272L81.4 272L81.4 272.1L82.7 273.3L83.6 274.9L83.6 274.9L83.6 274.9L83.6 274.9L83.6 274.9L83.6 274.9L83.6 274.9L83.6 274.9L83.6 274.9L83.6 274.9L83.7 274.9L83.7 274.9L83.7 274.9L83.7 274.9L85.3 274.5L86.8 274.9L86.9 276.1L85.9 277.9L84.8 279.5L84.2 279.8L83 279.2L83 279.2L83 279.2L83 279.2L83 279.2L83 279.2L83 279.2L83 279.2L83 279.2L83 279.2L83 279.2L81.4 280.1L79.8 280.8L78.6 280.7L78.6 280.7L78.6 280.7L78.6 280.7L78.6 280.7L78.6 280.7L78.6 280.7L78.6 280.7L78.6 280.7L78.6 280.7L78.6 280.7L78.6 280.7L78.6 280.7L77.4 283.2L77.4 283.2L77.4 283.2L77.4 283.2L77.4 283.2L77.4 283.2L77.4 283.2L77.8 285.9L77.1 287.3L77.1 287.3L77.1 287.3L77.1 287.3L77.1 287.4L77.1 287.4L77.1 287.4L77.4 289L77.4 289L77.4 289L77.4 289L77.4 289L77.4 289L77.4 289L78.9 290.7L77.9 292.4L77.9 292.4L77.9 292.4L77.9 292.4L77.9 292.4L77.9 292.4L77.9 292.4L77.9 292.4L77.9 292.4L78.7 294.9L78.7 294.9L78.7 294.9L78.7 294.9L78.7 294.9L78.8 294.9L78.8 295L78.8 295L78.8 295L78.8 295L80.4 295.6L79.8 297.9L78.9 300.1L77.8 300.1L77.8 300.1L77.8 300.1L77.8 300.1L77.8 300.1L77.8 300.1L77.7 300.1L77.7 300.1L77.7 300.1L77.7 300.1L77.7 300.1L77.7 300.1L76.5 302.1L74.8 303.7L74.7 303.7L74.7 303.7L74.7 303.7L74.7 303.7L74.7 303.7L74.7 303.7L74.7 303.7L74.7 303.7L74.7 303.7L74.6 303.7L73.2 305.6L73.2 305.6L71.8 307.5L71.8 307.5L71.8 307.5L71.8 307.5L71.8 307.5L69.9 308.8L69.9 308.8L69.9 308.8L69.9 308.8L69.9 308.8L69.9 308.8L69.9 308.8L69.2 311L69.2 311L69.2 311L69.2 311L69.1 312.2L69.1 312.2L69.1 312.2L69.1 312.2L69.1 312.2L69.1 312.2L69.1 312.2L69.1 312.2L69.1 314.5L68 316.3L66.9 316.9L66.9 316.9L66.9 316.9L66.9 316.9L66.9 316.9L66.9 316.9L66.9 316.9L66.9 316.9L66.9 316.9L66.9 316.9L66.9 316.9L66.9 316.9L66.9 316.9L66.9 316.9L67.3 319.3L67.7 321.6L67.7 321.6L67.7 321.6L67.7 321.6L67.7 321.6L67.7 321.6L67.7 321.6L67.7 321.6L67.7 321.6L67.7 321.6L67.7 321.6L68.3 321.8L68.5 324.2L68.5 324.2L68.5 324.2L68.5 324.2L68.5 324.2L68.5 324.2L68.5 324.2L70 326.1L69.9 326.2L69.9 326.2L69.9 326.2L69.9 326.2L69.9 326.2L69.9 326.2L69.9 326.2L69.9 328.6L69.9 328.6L69.9 328.6L69.9 328.6L70.7 330.8L70.4 331.3L70.4 331.3L70.4 331.3L70.4 331.3L70.4 331.3L70.4 331.3L70.4 331.3L70.4 331.3L70.4 331.7L70.4 331.7L70.4 331.7L70.4 331.7L70.4 331.7L70.4 331.7L72 333.7L72 333.7L72 333.7L72.1 333.7L72.1 333.7L72.1 333.7L72.1 333.7L72.1 333.7L72.1 333.7L72.1 333.7L72.1 333.7L72.1 333.7L73.7 333.4L75.3 333.8L74.9 335.4L74.9 335.4L74.7 337L74.7 337L74.7 337L74.7 337L74.7 337L74.7 337L74.7 337L74.7 337L74.7 337L76.4 339.1L76.4 339.1L76.4 339.1L76.4 339.1L76.4 339.1L76.4 339.1L76.4 339.1L76.4 339.1L76.4 339.1L76.4 339.1L76.4 339.1L76.5 339.1L76.5 339.1L76.5 339.1L76.5 339.1L77.2 338.8L79.5 339.4L79.5 339.4L79.5 339.4L81.9 339.6L81.9 339.6L81.9 339.6L81.9 339.6L81.9 339.6L81.9 339.6L81.9 339.6L81.9 339.6L82.3 339.3L84.1 340.8L84.1 340.8L84.1 340.8L84.1 340.8L84.1 340.8L84.1 340.8L86.4 341.3L87.9 342.1L87.9 342.1L89.5 342.8L89.6 344.8L89.6 344.8L89.9 346.8L89.3 347.7L89.3 347.7L89.3 347.7L89.3 347.7L89.3 347.7L89.3 347.7L89.3 347.7L89.3 347.7L89.3 347.7L89.3 347.7L89.3 347.7L89.3 347.7L89.3 347.7L89.3 347.7L89.3 347.7L89.3 347.7L89.3 347.7L89.3 347.7L91.4 348.9L92.6 351L92.2 353.2L91.2 355.2L91.2 355.2L91.2 355.2L91.2 355.2L91.2 355.2L91.2 355.2L91.2 355.2L91.2 355.2L91.2 355.2L91.2 355.2L91.2 355.2L91.2 355.2L91.2 355.2L92.2 358.3L92.6 361.5L92.6 361.5L92.6 361.5L92.6 361.5L92.6 361.5L92.6 361.6L92.6 361.6L92.6 361.6L92.9 361.8L93.1 362.6L92.1 365.1L90.7 367.5L90.7 367.5L90.7 367.6L90.7 367.6L90.7 367.6L90.7 367.6L90.7 367.6L90.7 367.6L90.7 367.6L90.7 367.6L91 368.4L90.2 369.9L90.2 369.9L90.2 369.9L90.2 369.9L90.2 369.9L90.2 369.9L90.1 371.7L90.1 371.7L90.1 371.7L90.1 371.7L90.1 371.7L90.1 371.8L90.1 371.8L90.1 371.8L90.1 371.8L90.1 371.8L92.9 374L92.9 374L92.9 374L92.9 374L92.9 374L92.9 374L96.4 374.6L96.4 374.6L96.4 374.6L96.4 374.6L96.4 374.6L96.4 374.6L96.4 374.6L96.4 374.6L96.4 374.6L96.6 374.5L98.2 374.9L98.2 374.9L98.2 374.9L98.2 374.9L98.2 374.9L98.2 374.9L99.7 374.5L101.6 376.1L102.8 378.3L102.8 378.3L102.8 378.3L102.8 378.3L102.8 378.3L102.8 378.3L102.8 378.3L102.8 378.3L102.8 378.3L102.8 378.3L102.8 378.3L102.8 378.3L102.8 378.3L102.9 378.3L104.8 377.9L105.5 380L105.5 380L105.5 380L105.5 380L105.5 380L105.5 380L105.5 380L107.4 381.3L107.4 381.3L107.4 381.3L107.4 381.3L107.4 381.3L107.4 381.3L107.4 381.3L107.4 381.3L107.4 381.3L107.4 381.3L107.4 381.3L109.2 380.5L111.1 380L111.1 380L111.1 380L111.2 380L111.2 380L111.2 380L111.2 380L111.2 380L111.2 379.9L111.2 379.9L111.2 379.9L111.2 379.9L111.2 379.9L111.4 378.2L113.1 377.4L114.9 376.8L115.5 379.4L115.5 379.4L115.5 379.4L115.5 379.4L115.5 379.4L115.5 379.4L115.5 379.4L117.3 381.3L117.3 381.3L117.3 381.3L117.4 381.3L117.7 381.6L118.3 381L118.8 379.3L120 376.8L120.4 376.9L121 375.7L121.4 375.6L123.3 376.4L123.3 376.4L124.2 374.3L123.3 371L119.2 368.1L115 365.2L110.8 361.4L106.7 358.5L104.6 354.3L103.3 350.2L102.5 346L100.9 343L100.5 341L101.3 339.7L104.7 336.8L109.7 335.5L113 333L116.3 330.5L119.7 328L123.8 326.3L127.2 324.2L128.6 321.8L130.8 320.5L132.4 322.4L134.7 324.2L136.7 320.3L137.5 314.5L135.8 309.9L132.5 307L131.2 302L132.1 297L130.8 292L129.6 290.3L129.2 287L126.7 282.8L123.3 279.5L123.8 276.2L125.4 271.2L125 267L123.3 262L122.5 260.3L121.2 256.6L118.3 253.7L115 250.7L111.7 251.4L110.6 248.9L112.5 247.8L114.6 247L112.5 243.7L113.3 242L110.8 241.2L109.2 239.5L106.7 241.2L105.8 245.3L102.5 246.2L98.3 244.9L95 248.7L93.3 251.6L89.2 252.8L85.8 255.3L83.3 256.5L80 256.8L79 256.7L78.1 257.5L75.9 258.5L75.9 258.5L75.9 258.5L75.9 258.5L75.9 258.5L75.9 258.5L75.9 258.6ZM95 288L94.8 286.5L96.9 285.2L96.9 285.2L98.9 283.6L98.9 283.6L98.9 283.6L98.9 283.6L99 283.6L100.3 281.2L101.9 281.8L101.9 281.8L101.9 281.8L101.9 281.8L101.9 281.8L101.9 281.8L101.9 281.8L101.9 281.8L101.9 281.8L104.1 281.1L106.7 281L106.7 281L106.7 281L106.7 281L106.7 281L106.7 281L106.7 281L106.7 281L108.7 279L109.6 279.3L109.6 279.3L109.6 279.3L109.6 279.3L109.6 279.3L109.6 279.3L109.6 279.3L109.6 279.3L109.6 279.3L109.6 279.3L109.6 279.3L109.6 279.3L111.2 277.6L113.5 277.1L115.4 278.9L115.4 278.9L117.6 280.6L119.5 282.7L118.2 285.1L116.3 287.1L116.3 287.1L116.3 287.1L116.3 287.1L116.3 287.1L116.3 287.1L116.3 287.2L116.3 287.2L116.3 287.2L116.3 287.2L116.3 287.2L116.3 287.2L116.3 287.2L117.8 290.1L117.8 290.1L117.8 290.1L117.8 290.1L117.8 290.1L117.8 290.1L120.5 291.9L120.5 293.5L119.6 294.8L119.6 294.8L119.6 294.8L119.6 294.8L119.6 294.8L119.6 294.8L119.6 294.8L119.6 294.8L119.6 294.8L119.6 294.8L119.6 294.8L120.3 296.5L120.3 296.5L121.2 298.1L119.8 301L118.3 303.9L116 302.9L116 302.9L116 302.9L116 302.9L116 302.9L116 302.9L113.5 303L111.3 302L110.2 299.9L110.2 299.9L110.2 299.9L110.2 299.9L110.2 299.9L110.2 299.9L107.6 298.4L107.6 298.4L107.6 298.4L107.6 298.4L107.6 298.4L107.6 298.4L104.7 298.5L103 296.3L102.9 293.8L102.9 293.8L102.6 291.4L102.6 291.4L102.6 291.4L102.6 291.4L102.6 291.4L102.6 291.4L102.6 291.4L102.6 291.4L102.6 291.4L102.6 291.4L102.6 291.4L102.5 291.4L102.5 291.4L102.5 291.4L102.5 291.4L99.5 291.1L99.5 291.1L96.5 291.1L95.1 289.5ZM30.4 346.8L30.4 346.8L30.4 346.8L30.4 346.8L30.4 346.8L30.4 346.8L28.4 346.9L28.4 346.9L28.3 346.9L28.3 346.9L28.3 346.9L28.3 346.9L28.3 346.9L28.3 346.9L27.1 348.1L27.1 348.1L27.1 348.1L27.1 348.1L27.1 348.1L27.1 348.1L27.1 348.1L26.6 349.7L24.6 350.1L22.7 349.2L22.7 349.2L22.7 349.2L22.7 349.2L22.7 349.2L22.7 349.2L22.7 349.2L22.7 349.2L22.6 349.2L22.6 349.2L22.6 349.2L22.6 349.3L22.6 349.3L22.6 349.3L21.2 351L21.2 351L21.2 351L21.2 351L21.2 351L21.2 351.1L21.2 351.1L21.2 351.1L21.2 351.1L21.2 351.1L21.2 351.1L21.2 351.1L22.3 354L22.3 354.1L22.3 354.1L22.3 354.1L24.3 356.5L24.3 356.5L21.3 357L21.3 357L21.3 357L18.5 358.1L17.3 357.5L17.3 357.5L17.3 357.5L17.2 357.5L17.2 357.5L17.2 357.5L17.2 357.5L17.2 357.5L17.2 357.5L15 358.2L15 358.2L15 358.2L15 358.2L14.9 358.3L16.6 360.2L19.2 363.7L23.3 365.8L27.5 366.2L30.9 367.2L31.6 366.7L33.6 366.8L33.6 366.8L33.6 366.8L35.7 366.5L35.7 366.5L35.7 366.5L35.7 366.5L35.7 366.5L35.7 366.5L35.7 366.5L35.7 366.5L35.7 366.4L35.7 366.4L35.7 366.4L35.7 366.4L35.7 366.4L35.7 366.4L35.7 366.4L35.8 364.2L37.2 362.5L39.5 362.3L39.5 362.3L39.5 362.3L39.5 362.3L39.5 362.3L39.5 362.3L39.5 362.3L39.5 362.2L39.5 362.2L39.5 362.2L39.5 362.2L39.5 362.2L40.5 359.8L40.5 359.8L40.5 359.8L40.5 359.8L40.8 357.2L40.8 357.2L40.8 357.2L40.8 357.2L40.8 357.2L40.8 357.2L40.8 357.2L40.8 357.2L40 356L40.6 353.8L42.2 352.1L42.2 352.1L42.2 352.1L42.2 352.1L42.2 352L42.2 352L42.2 352L42.2 352L42.2 352L42.2 352L42.2 352L42.2 352L41.8 350.6L41.8 350.6L41.8 350.6L41.8 350.6L41.8 350.6L41.8 350.6L41.8 350.6L41.8 350.6L41.7 350.6L39.5 349.4L39.5 349.4L39.5 349.4L39.5 349.4L39.5 349.4L39.5 349.4L39.4 349.4L39.4 349.4L37.6 349.8L35.5 348.6L35.5 348.6L35.5 348.6L35.5 348.6L35.5 348.6L35.5 348.6L35.4 348.6L35.4 348.6L35.4 348.6L35.4 348.6L32.8 349.6L31.2 348.6L30.4 346.8L30.4 346.8L30.4 346.8L30.4 346.8L30.4 346.8L30.4 346.8L30.4 346.8Z" fill="#f8e76e"/><path d="M45.2 272.3L45.2 272.3L45.2 272.3L45.2 272.3L43.5 272.4L43.4 272.4L43.4 272.4L43.4 272.4L43.4 272.4L41.9 273.2L41.9 273.2L40.2 274.2L40.2 274.2L40.2 274.2L40.2 274.2L40.2 274.2L40.2 274.2L40.2 274.2L39.5 276L39.5 276L39.5 276L39.5 276L39.5 276L39.5 278.1L39.5 278.2L39.5 278.2L39.5 278.2L39.5 278.2L40.5 280.1L40.5 280.1L40.5 280.1L40.5 280.1L40.5 280.1L40.5 280.1L40.5 280.1L40.5 280.1L42.9 281.1L44.7 283L44.7 283L44.7 283L44.7 283L44.7 283L44.7 283L44.7 283L44.7 283L44.7 283L44.7 283L44.7 283L44.7 283L47 282.3L47 282.3L47 282.3L47 282.3L47 282.3L48.8 280.8L48.9 280.8L48.9 280.8L48.9 280.8L48.9 280.8L48.9 280.8L48.9 280.8L48.9 280.8L48.9 280.8L48.9 280.8L48.9 280.8L48.9 280.8L48.4 278.6L49.3 276.6L49.3 276.6L49.3 276.6L49.3 276.6L49.3 276.6L49.3 276.6L49.3 276.6L49.3 276.6L49.3 276.6L49.3 276.5L49.3 276.5L49.3 276.5L49.3 276.5L49.3 276.5L47.1 274.6L45.2 272.3L45.2 272.3L45.2 272.3L45.2 272.3L45.2 272.3L45.2 272.3L45.2 272.3ZM39.4 303.5L39.4 303.5L39.4 303.5L41.1 304.6L41.1 304.6L41.1 304.6L41.1 304.7L41.1 304.7L41.1 304.7L41.1 304.7L43.2 304.6L43.2 304.6L43.2 304.6L43.2 304.6L43.2 304.6L43.2 304.6L43.2 304.6L43.2 304.6L43.2 304.6L45.4 302.3L45.4 302.3L45.4 302.3L45.4 302.3L45.4 302.3L45.4 302.3L45.4 302.3L46.1 299.2L46.1 299.2L46.1 299.2L46.1 299.2L46.1 299.2L46.1 299.2L46.1 299.2L46.1 299.2L46.1 299.2L46.1 299.2L46.1 299.2L46.1 299.2L46.1 299.2L46 299.2L46 299.2L46 299.2L46 299.2L43.5 298.6L43.4 298.6L43.4 298.6L43.4 298.6L43.4 298.6L43.4 298.6L43.4 298.6L43.4 298.6L41 299.8L38.6 299L38.6 299L38.6 299L38.6 299L38.6 299L38.6 299L38.6 299L38.6 299L38.6 299L38.6 299L38.6 299L38.6 299L38.6 299L38.6 299L38.6 299L38.6 299L38.6 299L38.6 299L38.6 299L38.6 299L38.6 299.1L38.6 299.1L38.6 299.1L39.2 301.2L39.4 303.5L39.4 303.5L39.4 303.5L39.4 303.5L39.4 303.5L39.4 303.5L39.4 303.5ZM33 301.5L33 301.4L33 301.4L33 301.4L33 301.4L33 301.4L33 301.4L30.8 301L30.8 301L30.8 301L30.8 301L30.8 301L30.8 301L30.8 301L30.8 301L30.8 301L30.8 301L30.8 301L30.8 301L30.8 301L30.8 301L29.5 303.1L27.8 304.8L27.8 304.8L27.8 304.8L27.8 304.8L27.8 304.8L27.8 304.8L27.8 304.8L27.8 304.8L27.8 304.8L27.8 304.8L27.8 304.8L27.8 304.8L27.8 304.8L27.8 304.9L27.8 304.9L27.8 304.9L27.8 304.9L27.8 304.9L27.8 304.9L27.8 304.9L27.8 304.9L30 305.9L31.8 307.4L31.8 307.4L31.8 307.4L31.8 307.4L31.8 307.4L31.8 307.4L31.8 307.4L31.9 307.4L31.9 307.4L31.9 307.4L31.9 307.4L31.9 307.4L31.9 307.4L31.9 307.4L31.9 307.4L31.9 307.4L33.3 306.1L33.3 306.1L33.3 306.1L33.3 306.1L33.3 306.1L34.2 304.3L34.2 304.3L34.2 304.3L34.2 304.3L34.2 304.3L34.2 304.3L34.2 304.3L34.2 304.3L33.9 302.8L33.9 302.8L33.9 302.8L33.9 302.8L33.9 302.8L33.1 301.5L33.1 301.5ZM32.8 322.7L32.8 322.7L32.8 322.7L32.8 322.7L32.8 322.7L32.8 322.7L32.8 322.7L32.1 320.6L32.1 318.4L32.1 318.3L32.1 318.3L32 318.3L32 318.3L32 318.3L32 318.3L32 318.3L32 318.3L32 318.3L32 318.3L32 318.3L32 318.3L32 318.3L32 318.3L32 318.3L32 318.3L30.9 318.3L30.9 318.3L30.9 318.3L30.9 318.3L30.9 318.3L30.9 318.4L30.9 318.4L28.9 319.9L28.9 319.9L27.1 321.6L24.9 320.7L24.9 320.6L24.9 320.6L24.9 320.6L24.9 320.6L24.9 320.6L24.6 320.7L24.6 320.7L24.6 320.7L24.6 320.7L24.6 320.7L22.7 321.7L22.7 321.7L22.7 321.7L22.7 321.7L22.7 321.7L21.4 323.4L21.4 323.4L21.4 323.4L21.4 323.4L21.4 323.4L21.4 323.4L21.4 323.4L21.4 323.4L21.4 323.4L21.4 323.4L21.4 323.5L22.1 325.2L22.2 327.1L20.4 329.3L20.4 329.3L20.4 329.3L20.4 329.3L20.4 329.3L20.4 329.4L20.4 329.4L20.4 329.4L20.4 329.4L20.4 329.4L20.4 329.4L20.4 329.4L20.4 329.4L22 332.2L22 332.2L22 332.2L22 332.2L22 332.2L22 332.2L22 332.2L24.8 333.7L24.8 333.7L24.8 333.7L24.8 333.7L24.8 333.7L25.4 333.8L26.8 334.9L27.4 336.5L27.4 336.5L27.4 336.5L27.4 336.5L27.4 336.5L27.4 336.5L27.4 336.5L27.4 336.5L27.4 336.5L27.4 336.5L27.4 336.5L29.2 336.9L29.2 336.9L29.3 336.9L29.3 336.9L29.3 336.9L29.3 336.9L29.3 336.9L29.3 336.9L29.3 336.9L29.3 336.9L29.3 336.9L29.3 336.9L29.3 336.9L29.3 336.9L29.3 336.9L30.3 334.4L32.7 333L32.7 333L32.7 333L32.7 333L32.7 332.9L32.7 332.9L32.7 332.9L32.7 332.9L32.7 332.9L32.7 332.9L32.7 332.9L32.7 332.9L32.8 332.9L32.8 332.9L32.8 332.9L33.3 330.3L35.1 328.4L35.1 328.4L35.1 328.4L35.1 328.4L35.1 328.4L35.1 328.4L35.1 328.4L35.1 328.4L35.1 328.4L35.1 328.4L35.1 328.4L35.1 328.4L34.9 327.7L34.9 327.7L34.9 327.7L34.9 327.7L34.9 327.7L34.9 327.7L34.9 327.6L34.9 327.6L34.9 327.6L34.9 327.6L33 326.9L33 326.9L33 326.9L33 326.9L33 326.9L31 326.9L30.9 325.3L31.3 323.7L32.8 322.7L32.8 322.7L32.8 322.7L32.8 322.7L32.8 322.7L32.8 322.7L32.8 322.7ZM42.9 343.4L42.9 343.4L42.9 343.4L43 343.4L44.2 344.3L45.1 345.8L45 347.5L43 348.6L43 348.6L43 348.6L43 348.6L43 348.7L43 348.7L41.7 350.6L41.7 350.6L41.7 350.6L41.7 350.6L41.7 350.6L41.7 350.6L41.7 350.6L41.7 350.6L41.7 350.7L41.7 350.7L42.1 352L42.1 352L42.1 352.1L42.1 352.1L42.1 352.1L42.1 352.1L42.1 352.1L43.5 353.2L43.5 353.2L43.5 353.2L43.5 353.2L43.5 353.2L43.5 353.2L43.5 353.2L45.2 353.4L45.2 353.4L45.2 353.4L45.2 353.4L45.3 353.4L45.3 353.4L45.3 353.4L45.3 353.4L47.8 351.9L49 354L49 354L49.1 354L49.1 354L49.1 354L49.1 354L49.1 354L49.1 354L51.4 355L51.4 355L51.4 355L51.4 355L51.4 355L51.4 355L51.4 355L51.4 355L51.4 355L51.5 355L53.7 353.8L53.7 353.8L53.7 353.8L53.7 353.7L53.8 353.7L53.8 353.7L53.8 353.7L53.8 353.7L53.8 353.7L54.3 352L54.3 352L54.3 352L54.3 352L54.3 352L54.3 352L53.6 349.3L53.6 349.2L53.6 349.2L53.6 349.2L52.3 346.8L52.5 346.2L52.5 346.2L52.5 346.2L52.5 346.2L52.5 346.2L52.5 346.2L53.6 343.1L53.7 343.1L54.6 340L54.6 340L54.6 340L54.6 340L54.6 340L54.6 340L54.6 340L54.6 340L54.6 340L53.8 338.3L53.8 338.3L53.8 338.3L53.8 338.3L53.8 338.3L53.8 338.3L53.8 338.3L53.8 338.3L52.2 337.5L52.6 335.9L52.6 335.9L52.9 334.2L52.9 334.2L52.9 334.2L52.9 334.2L52.9 334.2L52.9 334.2L52.9 334.2L51.8 331.8L51.8 331.8L51.8 331.8L51.8 331.8L51.8 331.8L51.8 331.8L51.8 331.8L51.8 331.8L51.8 331.8L50.2 331.3L50.2 331.3L50.2 331.3L50.2 331.3L48.5 331.3L48.5 331.3L48.5 331.3L48.5 331.3L48.5 331.3L48.4 331.3L48.4 331.3L48.4 331.3L48.4 331.3L48.4 331.3L48.4 331.3L48.4 331.3L48.4 331.3L48.4 331.3L48.4 331.3L47.6 334.5L45.2 336.6L42.7 335.5L42.7 335.5L42.6 335.5L42.6 335.5L42.6 335.5L42.6 335.5L42.6 335.5L42.6 335.5L42.6 335.5L40.4 336.3L40.3 336.3L40.3 336.3L40.3 336.3L40.3 336.3L40.3 336.4L40.3 336.4L39.3 337.8L39.3 337.8L39.3 337.8L39.3 337.8L39.3 337.8L39.3 337.8L39.3 337.8L39.2 339.6L39.2 339.6L39.2 339.6L39.2 339.6L39.2 339.6L39.2 339.6L39.2 339.6L39.2 339.6L39.2 339.6L39.2 339.6L41.2 341.3L42.9 343.3L42.9 343.3L42.9 343.3L42.9 343.3L42.9 343.3L42.9 343.3L42.9 343.3ZM36.7 385.4L36.7 385.4L36.7 385.4L35.9 382.9L35.9 382.9L35.9 382.9L35.9 382.9L35.9 382.9L35.9 382.9L35.9 382.9L35.9 382.9L35.9 382.9L35.9 382.9L35.8 382.9L35.8 382.9L34.3 382.5L34.2 382.8L32.9 388L31 392L30 395L31 399L33 401.3L37.5 401.3L38.4 401.2L38.5 395.2L39.1 394.4L41.5 393.9L41.5 393.9L43.9 393.3L43.9 393.3L43.9 393.3L43.9 393.3L43.9 393.3L43.9 393.3L43.9 393.3L43.9 393.3L43.9 393.3L43.9 393.3L43.9 393.3L43.9 393.3L43.9 393.3L43.9 393.3L43.9 393.3L43.9 393.3L43.9 393.3L43.9 393.3L43.9 393.3L43.9 393.3L43.9 393.3L42.1 390.4L42.4 387.1L42.4 387.1L42.4 387.1L42.4 387.1L42.4 387.1L42.4 387.1L42.4 387L42.4 387L42.4 387L42.4 387L42.4 387L42.4 387L42.4 387L42.4 387L42.4 387L42.4 387L42.4 387L42.4 387L42.4 387L42.4 387L42.4 387L39.6 387.8L36.7 388.2L36.2 387.9L36.7 385.4L36.7 385.4L36.7 385.4L36.7 385.4ZM50.7 258L50.7 258L50.7 258L50.7 258L52.1 258.3L54.4 259.9L56 262L55.7 263.5L55.7 263.6L55.7 263.6L55.7 263.6L55.7 263.6L56 265.1L56 265.1L56 265.1L56 265.1L56 265.1L56 265.1L56 265.1L56 265.1L56 265.1L56 265.1L56 265.1L56 265.1L56 265.1L56 265.1L56.1 265.1L58.2 265.2L60.2 266.1L61.6 268.3L62.9 270.6L62.8 272.9L61.6 274.8L61.6 274.8L61.6 274.8L61.6 274.8L61.6 274.8L61.6 274.8L61.6 274.8L61.6 274.8L61.6 274.8L61.6 274.9L61.6 274.9L61.6 274.9L61.6 274.9L61.6 274.9L61.6 274.9L61.6 274.9L61.6 274.9L61.6 274.9L61.6 274.9L61.6 274.9L61.6 274.9L61.6 274.9L61.6 274.9L61.6 274.9L61.6 274.9L64.5 274.2L67.4 274.7L70.2 276L69.2 278.8L69.2 278.8L69.2 278.8L69.2 278.8L69.1 281.8L69.1 281.8L69.1 281.8L69.1 281.8L69.1 281.8L69.1 281.8L69.1 281.8L69.1 281.8L69.8 282.7L69.8 282.8L69.8 282.8L69.8 282.8L69.8 282.8L69.8 282.8L69.8 282.8L69.8 282.8L69.8 282.8L69.9 282.8L69.9 282.8L71.8 282.6L73.6 283.2L73.6 283.2L73.6 283.2L73.6 283.2L73.6 283.2L73.6 283.2L73.6 283.2L73.6 283.2L73.6 283.2L73.6 283.2L73.6 283.2L73.6 283.2L75.4 281.4L75.4 281.4L77 279.5L78.6 280.8L78.6 280.8L78.6 280.8L78.6 280.8L78.6 280.8L78.6 280.8L78.6 280.8L79.8 280.9L79.8 280.9L79.8 280.9L79.8 280.9L79.8 280.9L79.8 280.9L81.5 280.2L81.5 280.2L83 279.3L84.2 279.9L84.2 279.9L84.2 279.9L84.2 279.9L84.2 279.9L84.2 279.9L84.2 279.9L84.3 279.9L84.3 279.9L84.8 279.6L84.8 279.6L84.8 279.6L84.8 279.6L84.8 279.6L84.8 279.6L86 277.9L86 277.9L87 276.2L87 276.2L87 276.1L87 276.1L87 276.1L87 276.1L87 276.1L86.9 274.9L86.9 274.9L86.9 274.9L86.9 274.9L86.9 274.9L86.9 274.9L86.9 274.9L86.9 274.9L86.9 274.9L86.9 274.9L86.9 274.9L86.9 274.9L86.8 274.8L85.3 274.4L85.3 274.4L85.3 274.4L85.3 274.4L85.2 274.4L85.2 274.4L83.7 274.8L82.7 273.3L82.7 273.3L82.7 273.3L81.5 272L81.5 271.9L81.5 271.9L81.5 271.9L81.5 271.9L81.5 271.9L81.5 271.9L81.5 271.8L81.5 271.8L81.5 271.8L81.5 271.8L81.5 271.8L81.5 271.8L81.5 271.8L79.6 270.7L78.3 269.1L79.4 267.7L79.4 267.7L80.5 266.2L80.5 266.2L80.5 266.2L80.5 266.2L80.5 266.2L80.5 266.2L80.5 266.2L80.5 266.2L80.5 266.2L80.5 266.2L80.5 266.2L80.5 266.2L80.5 266.1L80.5 266.1L80.5 266.1L80.5 266.1L80.5 266.1L79 265.1L77.6 264L79 263L79 263L79 263L79 263L79 263L79 263L79.1 263L79.6 261.2L79.6 261.2L79.6 261.2L79.6 261.2L79.6 261.2L79.6 261.2L79.6 261.2L79.6 261.2L79.6 261.2L79.6 261.2L79.6 261.2L79.6 261.2L79.6 261.2L79.6 261.2L79.6 261.2L79.6 261.2L77.7 260.3L75.9 259.3L76 258.6L78.2 257.6L78.2 257.6L78.2 257.6L78.2 257.6L78.2 257.6L79.1 256.7L79.1 256.7L79.1 256.7L79.1 256.7L79.1 256.7L79.1 256.7L79.1 256.7L79.1 256.7L76.7 256.4L77.1 254.1L78.8 251.2L79.8 249L79.2 248.2L75 249.1L69.2 247.4L65.4 245.3L65.8 242L64.6 239.1L60 237.6L57 236.4L53.3 236.4L47.5 236.6L49.2 240.3L50.4 243.7L48.3 247L47.1 248.7L49.2 250.8L50.8 253.7L51.2 257L50.7 258ZM54 294.3L54 294.3L54 294.3L54 294.3L54 294.3L57.4 295.1L57.8 296.6L57.7 298.1L57.7 298.1L57.7 298.1L57.7 298.1L57.7 298.1L57.7 298.1L57.7 298.1L57.7 298.1L57.7 298.1L57.7 298.1L57.8 298.1L57.8 298.2L57.8 298.2L57.8 298.2L57.8 298.2L59.4 298.6L60.9 299.2L60.9 299.2L60.9 299.2L60.9 299.2L60.9 299.2L60.9 299.2L60.9 299.2L60.9 299.2L60.9 299.2L63.7 298L63.7 298L66.6 296.7L66.6 296.7L66.6 296.7L66.6 296.7L66.6 296.7L66.6 296.7L66.6 296.7L66.6 296.7L66.6 296.7L66.6 296.7L66.6 296.7L66.6 296.7L66.6 296.7L66.6 296.7L66.6 296.7L66.6 296.7L66.6 296.7L66.6 296.7L66.6 296.7L64.7 293.8L64.4 290.5L64.4 290.4L64.4 290.4L64.4 290.4L64.4 290.4L64.4 290.4L64.4 290.4L64.3 290.4L64.3 290.4L64.3 290.4L64.3 290.4L62.4 289.5L61.9 288.6L61.9 288.6L61.9 288.6L61.9 288.6L61.9 288.5L59.7 286.7L59.7 286.7L59.7 286.7L59.7 286.7L59.7 286.7L59.7 286.7L59.6 286.7L59.6 286.7L59.6 286.7L56.6 287L54 285.9L54 285.9L54 285.9L54 285.9L54 285.9L54 285.9L53.9 285.9L53.9 285.9L53.9 285.9L53.9 285.9L53.9 285.9L53.9 285.9L53.9 285.9L53.9 285.9L53.9 285.9L53.9 285.9L53.9 285.9L53.9 285.9L53.9 285.9L53.2 288.6L51.3 290.5L51.3 290.5L51.3 290.5L51.3 290.5L51.3 290.5L51.3 290.5L51.3 290.5L51.3 290.5L51.3 290.5L51.3 290.5L51.3 290.5L51.3 290.5L51.3 290.5L51.7 291.6L51.7 291.6L51.7 291.6L51.7 291.6L51.7 291.6L54 294.3L54 294.3ZM53.6 373.5L53.6 373.5L53.6 373.5L53.1 373.3L53.1 373.3L53.1 373.3L53.1 373.3L53 373.3L53 373.3L53 373.3L52.1 373.6L52.1 373.6L52.1 373.6L52.1 373.6L52.1 373.7L52.1 373.7L52.1 373.7L52.1 373.7L50.3 376.7L48.4 379.5L48.4 379.5L48.4 379.5L48.4 379.5L48.4 379.5L48.4 379.5L48.4 379.6L48.4 379.6L48.4 379.6L48.4 379.6L48.4 379.6L48.4 379.6L48.4 379.6L48.4 379.6L49.3 380.8L49.3 380.8L49.4 380.8L49.4 380.8L49.4 380.8L49.4 380.8L49.4 380.8L49.4 380.8L49.4 380.8L52.8 381.2L52.8 381.2L52.8 381.2L52.8 381.2L52.8 381.2L52.9 381.2L52.9 381.2L56 379.8L56 379.8L56 379.8L56 379.8L56 379.8L56 379.8L56 379.8L56 379.8L56.1 379.8L56.1 379.8L56.1 379.8L56.2 378.8L56.2 378.8L56.2 378.8L56.2 378.8L56.2 378.8L56.2 378.8L56.2 378.8L56.2 378.8L54.9 376.2L53.6 373.5L53.6 373.5L53.6 373.5L53.6 373.5L53.6 373.5L53.6 373.5L53.6 373.5ZM59 390.1L59 390.1L59 390L59 390L59 390L59 390L59 390L59 390L59 390L59 390L59 390L59 390L59 390.1L59 390.1L58.9 390.1L56.7 392.1L56.7 392.1L54.6 394.3L53 394.1L53 394.1L53 394.1L53 394.1L53 394.1L53 394.1L53 394.1L53 394.1L53 394.1L51.2 395.3L48 395.4L45.1 393.9L45.1 393.9L45.1 393.9L45.1 393.9L45.1 393.9L45.1 393.9L45.1 393.9L45.1 393.9L45.1 393.9L45.1 393.9L45 393.9L45 393.9L45 393.9L45 393.9L45 393.9L45 393.9L45 393.9L45 393.9L45 393.9L45 393.9L45 393.9L45 393.9L45 393.9L45 393.9L45.8 398L45.8 398L45.8 398L45.8 398L45.8 398L45.8 398L47.5 396.8L50 398L54.2 398.4L58.3 398.8L62.5 400.9L65.8 400.5L66.2 400.7L67.5 399L67.5 399L67.5 399L67.5 399L67.5 399L67.5 399L67.5 399L67.5 399L67.5 399L67.5 399L67.5 398.9L67 397.1L68.5 395.4L70.2 393.9L70.2 393.9L70.2 393.9L70.2 393.8L70.2 393.8L70.2 393.8L70.2 393.8L70.2 393.8L70.2 393.8L70.2 393.8L70.2 393.8L70.2 393.8L70.2 393.8L70.2 393.8L70.2 393.8L68.9 391.4L68.9 391.4L68.9 391.4L68.8 391.4L68.8 391.4L68.8 391.3L66.5 389.9L66.5 389.9L66.5 389.9L66.5 389.9L66.5 389.9L66.5 389.9L66.5 389.9L66.5 389.9L66.5 389.9L66.5 389.9L66.5 389.9L66.4 389.9L66.4 389.9L66.4 389.9L66.4 389.9L66.4 389.9L66.4 389.9L66.4 389.9L65.1 392.6L63.6 395.1L62.1 395.4L60.2 393L59 390.1L59 390.1L59 390.1L59 390.1L59 390.1L59 390.1ZM66.2 307.8L66.2 307.8L66.2 307.8L66.2 307.8L66.2 307.8L66.2 307.8L66.2 307.8L66.2 307.8L66.2 307.8L66.2 307.8L66.2 307.8L66.1 307.8L64.9 308.9L63.3 309.3L63.3 309.3L63.3 309.3L63.3 309.3L63.3 309.3L63.3 309.4L63.3 309.4L63.3 309.4L63.3 309.4L63.3 309.4L63.3 309.4L63.3 309.4L63.3 309.4L63.3 309.4L63.3 312.2L63.1 312.6L63.1 312.6L63.1 312.6L63.1 312.6L63.1 312.6L63.1 312.6L63.1 312.6L63.1 312.6L63.1 312.6L63.8 314.7L63.8 314.7L63.8 314.7L63.9 314.7L65.2 316.5L65.2 316.5L65.2 316.5L65.2 316.5L65.2 316.5L65.2 316.5L65.2 316.5L65.2 316.5L66.9 317L66.9 317L66.9 317L66.9 317L66.9 317L66.9 317L66.9 317L66.9 317L66.9 317L68 316.4L68 316.4L68 316.4L68 316.4L68 316.4L68 316.4L69.2 314.5L69.2 314.5L69.2 314.5L69.2 314.5L69.2 314.5L69.2 314.5L69.2 314.5L69.2 312.2L69.2 312.2L69.2 312.2L69.2 312.2L69.2 312.2L69.2 312.2L69.2 312.2L69.2 312.2L69.3 311L69.3 311L69.3 311L69.3 311L69.3 311L69.3 311L69.3 311L69.3 311L68 309.2L68 309.2L68 309.2L68 309.2L66.2 307.8L66.2 307.8L66.2 307.8ZM90.7 391.1L90.7 391.1L90.7 391.1L90.7 391.1L90.7 391.1L90.7 391.1L90.7 391.1L90.7 391.1L90.7 391.1L90.7 391.1L90.7 391.1L90.7 391.1L90 388.4L90 388.4L90 388.4L90 388.4L90 388.4L90 388.4L88.2 386.5L88.2 386.5L88.1 386.5L88.1 386.5L88.1 386.5L88.1 386.5L88.1 386.5L88.1 386.5L88.1 386.5L86.5 386.5L85 386.1L85 386.1L84.9 386.1L84.9 386.1L84.9 386.1L84.9 386.1L84.9 386.1L84.9 386.1L84.9 386.1L84.9 386.1L84.9 386.1L84.9 386.1L84.9 386.1L84.9 386.1L84.9 386.1L84.9 386.1L84.2 388.1L83.5 390L83.5 390L83.5 390L83.5 390L83.5 390L83.5 390L83.5 390L83.5 390L83.5 390L83.5 390L83.5 390L83.5 390L85.2 392.1L85.2 392.1L85.2 392.1L85.2 392.1L85.2 392.1L85.2 392.1L85.2 392.1L85.2 392.1L85.2 392.1L85.2 392.1L85.2 392.1L88 392L88 392L88 392L88 392L90.7 391.1L90.7 391.1L90.7 391.1L90.7 391.1ZM44.8 236L44.4 232.8L43.4 232.9L43.8 236L44.6 239.5L45.6 239.3ZM44 240.1L44.2 242.2L46.6 242.3L46.5 240.1ZM46.8 243.3L46.9 244.8L48.3 244.9L48.4 243.4ZM78.9 244.3L78.8 246.2L80.6 247.3L82.6 245.8L81.8 243.9Z" fill="#f0831b"/><path d="M46.8 336L50.2 336.9L52.1 335.3L53.5 333.5L52.3 331.8L50.2 330.2L48.1 331.4L46 331.9Z" fill="#f0831b" stroke="rgba(120,110,60,.45)" stroke-width=".25"/><path d="M50.5 252.2L50.8 253.7L50.8 253.7L50.8 253.8L51 254.7L52 258.7L54.1 257.9L56.5 257.7L57 254.8L57.5 252.7L56.5 249.7L54 249.3L51 249.2Z" fill="#fdcb12" stroke="rgba(120,110,60,.45)" stroke-width=".25"/><path d="M76.5 261.7L78.7 261.9L81 262.7L83.8 261.4L87 260.7L88 257.2L85.1 256.7L82 256.7L79.2 257.3L76 257.7Z" fill="#fdcb12" stroke="rgba(120,110,60,.45)" stroke-width=".25"/><path d="M116.1 289.8L116.4 287.6L114.6 285.1L112.1 286L110.7 287.5L111.6 290.3L113.4 290.6Z" fill="#f0831b" stroke="rgba(120,110,60,.45)" stroke-width=".25"/><path d="M30.9 302.1L31.6 303L32.7 303.6L33.9 303L33.8 301.8L32.8 300.9L31.6 300.9Z" fill="#e6281f" stroke="rgba(120,110,60,.45)" stroke-width=".25"/><path d="M46.7 361L48 360.4L48.4 359.6L48.4 358.3L47.1 358.3L46.3 358.7L45.7 360Z" fill="#e6281f" stroke="rgba(120,110,60,.45)" stroke-width=".25"/><path d="M34.6 393.8L35.2 392.5L35.3 391.3L34 390.5L33.1 391.5L32.3 392.5L33.4 393.8Z" fill="#e6281f" stroke="rgba(120,110,60,.45)" stroke-width=".25"/><path d="M80.5 356.2L79.2 357.7L80.3 358.9L81.9 359.6L83.6 358.7L83.3 357L81.9 355.8Z" fill="#f0831b" stroke="rgba(120,110,60,.45)" stroke-width=".25"/><path d="M79.6 324.9L81.5 324.8L83.2 323.9L82.9 321.6L81.8 320.7L79.5 320.6L78.9 322.5Z" fill="#fdcb12" stroke="rgba(120,110,60,.45)" stroke-width=".25"/><path d="M117.8 322.4L120.2 322.2L121.6 321.4L122.5 319L120.4 318.2L118.5 318.1L116.8 320.1Z" fill="#fdcb12" stroke="rgba(120,110,60,.45)" stroke-width=".25"/><path d="M96 315.3L96.9 317.4L98.6 317.5L100.5 317L100.6 315L99.2 314.1L97.3 313.8Z" fill="#fdcb12" stroke="rgba(120,110,60,.45)" stroke-width=".25"/><path d="M12.1 329.8L13.5 329.2L14.8 327.4L13.4 326.2L11.6 325.7L10 326.8L10.6 328.8Z" fill="#f0831b" stroke="rgba(120,110,60,.45)" stroke-width=".25"/><path d="M11.4 330.4L11.5 329.6L11.3 328.4L10.6 328.6L11.2 330.5Z" fill="#e6281f" stroke="rgba(120,110,60,.45)" stroke-width=".25"/><path d="M13.1 329.7L13.7 327.7L12.1 325.7L10.2 326.4L9.9 326.6L11.1 330.1Z" fill="#f0831b" stroke="rgba(120,110,60,.45)" stroke-width=".25"/><path d="M97.8 250.7L96.5 252.1L97.8 254L99.5 253.6L101.3 252.7L100.9 250.7L99.3 250.2Z" fill="#fdcb12" stroke="rgba(120,110,60,.45)" stroke-width=".25"/><path d="M60.5 363.1L61.4 362.1L60.9 360.6L59.9 359.7L58.5 360L58.3 361.7L58.7 363Z" fill="#f0831b" stroke="rgba(120,110,60,.45)" stroke-width=".25"/><path d="M69.4 371.2L68.1 371.9L68.4 373.3L69.5 374.2L70.9 374.1L71.3 372.7L70.5 371.5Z" fill="#f0831b" stroke="rgba(120,110,60,.45)" stroke-width=".25"/><path d="M36.9 292.5L38.3 291.4L37.4 289.6L35.8 289.6L34 290.2L34.2 292L35.5 292.7Z" fill="#f0831b" stroke="rgba(120,110,60,.45)" stroke-width=".25"/><path d="M48 291.3L49 292.7L50.4 293.2L51.4 291.7L51 290.3L50 289.1L48.5 290.2Z" fill="#f0831b" stroke="rgba(120,110,60,.45)" stroke-width=".25"/><path d="M65 249.4L64.4 250.4L64.7 251.3L65.4 252.1L66.3 251.4L66.5 250.6L66.2 249.5Z" fill="#e6281f" stroke="rgba(120,110,60,.45)" stroke-width=".25"/><path d="M85.4 386.9L84.1 386.6L83.4 387.8L83.7 389L84.6 389.9L85.8 389L85.9 388Z" fill="#f0831b" stroke="rgba(120,110,60,.45)" stroke-width=".25"/><use href="#b" fill="none" stroke="rgba(115,100,45,.6)" stroke-width=".33"/><use href="#o" fill="none" stroke="rgba(140,120,40,.7)" stroke-width=".5"/></g>
<g transform="translate(288.7 -197.7)"><use href="#o" fill="#fdcb12"/><path d="M45.2 272.4L45.2 272.4L45.2 272.4L45.2 272.4L45.2 272.4L45.2 272.4L45.2 272.4L45.2 272.4L45.2 272.4L45.2 272.4L45.2 272.4L46.2 269.4L47.5 266.7L47.5 266.7L47.5 266.7L47.5 266.6L47.5 266.6L47.5 266.6L47.5 266.6L47.5 266.6L47.5 266.6L47.5 266.6L47.5 266.6L47.5 266.6L45.9 264.4L45.8 262.3L45.8 262.3L45.8 262.3L45.8 262.3L45.8 262.3L45.8 262.3L45.8 262.3L45.8 262.3L45.8 262.3L45.8 262.3L45.8 262.3L45.8 262.3L44.2 265.5L43.5 269.5L41.3 269L41.2 265.3L39.2 263.2L38.4 263.2L37.3 265.5L35.4 263.7L35.4 263.7L35.4 263.7L35.4 263.7L35.4 263.7L35.4 263.7L35.4 263.7L35.4 263.7L32.7 263.4L32.7 263.4L32.7 263.4L32.7 263.4L32.7 263.4L32.7 263.4L32.7 263.4L32.7 263.4L32.7 263.4L31.2 264.6L29.4 265.4L28.1 264.5L28.1 264.5L28.1 264.5L27.4 264.3L25.8 265.3L26 266.5L27.5 270L28.8 274.2L28.4 275.7L29.6 276.3L29.6 276.3L32.2 277.7L32.2 277.7L32.2 277.7L32.3 277.7L32.3 277.7L32.3 277.7L32.3 277.7L32.3 277.7L32.3 277.7L32.3 277.7L33.9 277.1L33.9 277.1L33.9 277.1L33.9 277.1L33.9 277.1L33.9 277.1L33.9 277.1L35 275.7L37.3 275.5L39.5 276.1L39.5 276.1L39.5 276.1L39.5 276.1L39.5 276.1L39.5 276.1L39.5 276.1L39.5 276.1L39.5 276.1L39.5 276.1L39.5 276.1L39.5 276.1L39.5 276.1L39.6 276.1L39.6 276L40.3 274.3L41.9 273.3L43.5 272.5L45.2 272.4L45.2 272.4ZM57.8 298.1L57.8 298.1L57.8 298.1L57.8 298.1L57.8 298.1L57.8 298.1L57.7 298.1L57.7 298.1L57.7 298.1L56.8 299.4L55.4 300.4L55.4 300.4L55.4 300.4L55.4 300.4L55.4 300.4L55.4 300.4L55.4 300.4L55.4 300.4L54.8 302.6L54.8 302.6L54.8 302.6L54.8 302.6L54.8 302.6L54.8 302.6L54.8 302.6L54.8 302.6L54.8 302.6L56 304.6L56.7 306.9L55.8 308.5L55.8 308.5L55.8 308.5L55.8 308.5L55.8 308.5L55.8 308.5L55.8 308.5L55.8 308.5L55.8 308.5L55.8 308.6L56.9 311.5L57.9 314.4L56.6 315.6L54.9 316L54.9 316.1L54.9 316.1L54.9 316.1L54.9 316.1L54.9 316.1L54.9 316.1L54.9 316.1L54.9 316.1L54.9 316.1L54.9 316.1L54.9 316.1L54.9 316.1L54.9 316.1L54.9 316.1L54.9 316.1L55.4 318.5L54.8 320.8L54.8 320.8L54.8 320.8L54.8 320.8L54.8 320.8L54.8 320.8L54.8 320.8L54.8 320.8L54.8 320.8L54.8 320.8L54.8 320.8L54.8 320.8L56.5 322.4L56 324.5L56 324.5L56 324.5L56 324.5L56 324.5L56 324.5L56.7 326.5L56.6 326.6L56.6 326.6L56.6 326.6L56.6 326.6L56.6 326.6L56.6 326.6L56.6 326.6L56.6 326.6L56.6 326.6L56.6 326.6L57.8 329.3L57.8 329.3L57.8 329.3L57.8 329.3L57.8 329.3L60 331.3L60 331.3L60 331.3L60 331.3L60 331.3L60 331.3L60 331.3L60 331.3L60 331.3L60 331.3L60 331.3L62.2 330.8L64.4 330.7L64.4 330.7L64.4 330.7L64.4 330.7L64.5 330.7L64.5 330.7L64.5 330.7L64.5 330.7L64.5 330.7L64.5 330.7L64.5 330.7L64.5 330.7L64.5 330.7L64.5 330.7L64.5 330.6L64.5 330.6L64.5 330.6L64.5 330.6L64.5 329.1L65.2 327.7L67.7 327.5L67.7 327.5L67.7 327.5L67.7 327.5L67.7 327.5L69.9 326.3L69.9 326.3L70 326.3L70 326.3L70 326.3L70 326.3L70.1 326.1L70.1 326.1L70.1 326.1L70.1 326.1L70.1 326.1L70.1 326.1L70.1 326.1L70.1 326L70.1 326L70.1 326L70.1 326L70.1 326L70.1 326L70.1 326L68.6 324.2L68.4 321.8L68.4 321.8L68.4 321.8L68.4 321.8L68.4 321.8L68.4 321.8L68.4 321.8L68.4 321.8L68.4 321.8L68.4 321.8L68.4 321.8L68.4 321.8L68.4 321.8L67.8 321.5L67.4 319.2L67.4 319.2L67 316.9L67 316.9L67 316.9L67 316.9L66.9 316.9L66.9 316.9L66.9 316.9L66.9 316.9L66.9 316.9L66.9 316.9L66.9 316.9L66.9 316.9L65.3 316.4L63.9 314.7L63.2 312.6L63.4 312.2L63.4 312.2L63.4 312.2L63.4 312.2L63.4 312.2L63.4 312.2L63.4 309.4L65 309L65 309L65 309L65 309L65 309L66.2 307.9L67.9 309.2L69.2 311L69.2 311L69.2 311L69.2 311.1L69.2 311.1L69.2 311.1L69.2 311.1L69.2 311.1L69.2 311.1L69.2 311.1L69.2 311.1L69.2 311.1L69.2 311.1L69.2 311.1L69.2 311.1L69.2 311.1L69.2 311.1L69.3 311L69.3 311L69.3 311L69.3 311L69.3 311L69.3 311L70 308.9L71.9 307.6L71.9 307.6L71.9 307.5L71.9 307.5L71.9 307.5L71.9 307.5L71.9 307.5L71.9 307.5L71.9 307.5L71.9 307.5L71.9 307.5L73.3 305.6L74.7 303.8L74.8 303.8L74.8 303.8L74.8 303.8L74.8 303.8L74.8 303.8L74.8 303.8L74.8 303.8L74.8 303.8L76.6 302.2L76.6 302.2L76.6 302.2L76.6 302.2L77.8 300.2L78.9 300.2L78.9 300.2L78.9 300.2L78.9 300.2L78.9 300.2L78.9 300.2L78.9 300.2L78.9 300.2L78.9 300.2L78.9 300.2L78.9 300.2L78.9 300.2L78.9 300.2L79.9 297.9L79.9 297.9L80.5 295.6L80.5 295.6L80.5 295.6L80.5 295.6L80.5 295.6L80.5 295.5L80.5 295.5L80.5 295.5L80.5 295.5L80.5 295.5L80.5 295.5L80.5 295.5L80.5 295.5L80.5 295.5L80.5 295.5L80.5 295.5L78.8 294.9L78 292.4L79 290.7L79 290.7L79 290.7L79 290.7L79 290.7L79 290.7L79 290.6L79 290.6L79 290.6L79 290.6L79 290.6L79 290.6L79 290.6L77.5 288.9L77.5 288.9L77.5 288.9L77.5 288.9L77.5 288.9L77.5 288.9L77.5 288.9L77.4 288.9L77.4 288.9L77.4 288.9L77.4 288.9L74.8 289.1L74.8 289.1L74.8 289.1L74.8 289.1L74.8 289.1L74.8 289.1L74.8 289.1L72.8 290.8L72.8 290.8L72.8 290.8L72.7 290.8L72.7 290.8L72.7 290.8L72.7 290.8L72.7 290.8L72.7 290.8L72.7 290.9L72.7 290.9L72.7 290.9L73 292L72.3 293.6L72.3 293.6L72.3 293.6L72.3 293.6L72.3 293.6L72.3 293.6L72.3 293.6L72.6 295.3L70 295.8L69.9 295.8L69.9 295.8L69.9 295.8L69.9 295.8L67.7 297.3L66.6 296.6L66.6 296.6L66.6 296.6L66.6 296.6L66.6 296.6L66.5 296.6L66.5 296.6L66.5 296.6L66.5 296.6L66.5 296.6L66.5 296.6L63.7 297.9L60.9 299.1L59.4 298.5L59.4 298.5L57.8 298.1L57.8 298.1L57.8 298.1L57.8 298.1ZM30.3 311.7L32.2 309.6L32.2 309.6L32.2 309.6L32.3 309.6L32.3 309.6L32.3 309.6L32.3 309.6L32.3 309.6L32.3 309.6L32.3 309.6L31.9 307.4L31.9 307.4L31.9 307.4L31.9 307.4L31.9 307.4L31.9 307.4L31.9 307.4L31.9 307.4L30 305.8L30 305.8L30 305.8L27.9 304.8L27.8 304.8L27.8 304.8L27.8 304.8L27.8 304.8L27.8 304.8L27.8 304.8L27.8 304.8L27.1 305L27.1 305L27.1 305L27.1 305L27 305L27 305L27 305L27 305L27 305L27 305L27 305L27 305L26.6 307L25.5 308.7L22.9 309.1L22.9 309.1L22.9 309.1L22.9 309.1L22.9 309.1L22.9 309.1L22.8 309.1L22.8 309.1L22.8 309.1L22.8 309.1L22.8 309.1L21.8 311.5L21.8 311.5L21.8 311.5L21.8 311.6L21.8 311.6L21.8 311.6L21.8 311.6L21.8 311.6L21.8 311.6L21.8 311.6L22.5 312.9L22.9 314.4L22.9 314.4L22.9 314.4L22.9 314.4L22.9 314.4L22.9 314.4L23 314.4L23 314.4L23 314.4L23 314.4L23 314.4L23 314.4L23 314.4L25 314.7L25 314.7L25 314.7L27.1 314.6L27.1 314.6L27.1 314.6L27.1 314.6L27.1 314.6L27.1 314.6L27.1 314.6L27.1 314.6L27.1 314.6L27.1 314.6L27.1 314.6L28.5 312L30.2 311.7L30.2 311.7L30.3 311.7L30.3 311.7L30.3 311.7L30.3 311.7ZM34.5 338.7L34.5 338.7L34.5 338.7L34.5 338.7L34.5 338.7L34.5 338.7L34.5 338.7L33 339.4L31.3 339.7L31.3 339.7L31.3 339.7L31.3 339.7L31.3 339.7L31.3 339.7L31.3 339.7L31.3 339.7L31.3 339.8L31.3 339.8L31.3 339.8L31.3 339.8L31.3 339.8L31.1 340.8L31.1 340.9L31.1 340.9L31.1 340.9L31.1 340.9L31.1 340.9L31.1 340.9L31.8 342.5L31.8 342.5L32.7 343.9L32.7 343.9L32.7 343.9L32.7 343.9L32.7 343.9L32.7 344L32.7 344L32.7 344L32.7 344L35.3 344.7L35.3 344.7L35.3 344.7L35.3 344.7L35.3 344.7L35.3 344.7L35.3 344.7L35.3 344.7L35.3 344.7L36.5 344L36.5 344L36.5 344L36.5 344L36.5 344L36.5 344L36.5 344L36.5 344L36.5 344L36.5 344L36.5 344L36.5 342.1L37.1 340.4L37.2 340.4L37.2 340.4L37.2 340.4L37.2 340.4L37.2 340.4L37.2 340.4L37.1 340.4L37.1 340.4L37.1 340.4L37.1 340.3L37.1 340.3L37.1 340.3L37.1 340.3L35.9 339.4L35.9 339.4L35.9 339.4L34.6 338.7L34.6 338.7L34.5 338.7ZM32.7 349.6L32.7 349.6L32.7 349.6L32.7 349.6L32 351.6L30.1 352.4L28 352.2L26.7 349.7L26.7 349.7L26.7 349.7L26.7 349.7L26.7 349.7L26.7 349.7L26.7 349.7L26.7 349.7L26.7 349.7L26.7 349.7L26.7 349.7L26.7 349.7L26.6 349.7L26.6 349.7L24.6 350.1L22.7 349.2L22.7 349.2L22.7 349.2L22.7 349.2L22.7 349.2L22.7 349.2L22.7 349.2L22.7 349.2L22.6 349.2L22.6 349.2L22.6 349.2L22.6 349.3L22.6 349.3L22.6 349.3L21.2 351L19.7 351.7L18 351.7L16 350.2L16 350.1L16 350.1L16 350.1L16 350.1L16 350.1L16 350.1L16 350.1L16 350.1L16 350.1L16 350.1L15.7 350.2L15.3 354.3L14.1 357.2L15 358.3L17.2 357.6L18.5 358.2L18.5 358.2L18.5 358.2L18.5 358.2L18.5 358.2L18.5 358.2L18.5 358.2L18.5 358.2L18.5 358.2L21.4 357.1L24.4 356.6L24.4 356.6L24.4 356.6L24.4 356.6L24.4 356.6L24.4 356.6L24.4 356.6L24.4 356.6L24.4 356.6L24.4 356.6L24.4 356.5L27 355.4L28.2 356.5L28.2 356.5L28.2 356.5L28.2 356.5L28.2 356.5L29.7 357L29.7 357L29.7 357L29.7 357L29.7 357L29.7 357L29.7 357L29.7 357L29.7 357L29.7 357L29.7 357L31.7 355.5L34.1 355.1L35.4 355.5L35.4 355.5L35.4 355.5L35.4 355.5L35.4 355.5L35.4 355.5L35.4 355.5L35.4 355.5L36 355.3L38 355.4L39.9 356.1L39.9 356.1L39.9 356.1L40 356.1L40 356.1L40 356.1L40 356.1L40 356.1L40 356.1L40 356.1L40 356.1L40 356.1L40 356.1L40 356.1L40 356.1L40 356.1L40 356.1L40 356.1L40.6 353.8L42.2 352.1L42.2 352.1L42.2 352.1L42.2 352.1L42.2 352L42.2 352L42.2 352L42.2 352L42.2 352L42.2 352L42.2 352L42.2 352L41.8 350.6L41.8 350.6L41.8 350.6L41.8 350.6L41.8 350.6L41.8 350.6L41.8 350.6L41.8 350.6L41.7 350.6L39.5 349.4L39.5 349.4L39.5 349.4L39.5 349.4L39.5 349.4L39.5 349.4L39.4 349.4L39.4 349.4L37.6 349.8L35.5 348.6L35.5 348.6L35.5 348.6L35.5 348.6L35.5 348.6L35.5 348.6L35.4 348.6L35.4 348.6L35.4 348.6L35.4 348.6L32.7 349.6L32.7 349.6L32.7 349.6L32.7 349.6L32.7 349.6L32.7 349.6Z" fill="#f0831b"/><path d="M70 326.1L70 326.1L70 326.1L70 326.1L70 326.1L70 326.1L70 326.1L70 326.1L70.1 326.1L70.1 326.1L70.1 326.1L70.1 326.1L72.5 325.3L75 325.1L75 325.1L75 325.1L75 325.1L75 325.1L75 325.1L75 325.1L75 325.1L75 325.1L75 325.1L75 325.1L75 325.1L75 325.1L75.1 324.9L77.8 323.6L77.8 323.6L77.8 323.6L77.8 323.6L79.9 321.5L81.6 322.3L83.2 323.1L83.2 325.1L82.1 326.9L80.7 328.4L78.6 328.7L78.6 328.7L78.6 328.7L78.6 328.7L78.6 328.7L78.6 328.7L78.6 328.7L78.6 328.7L78.6 328.7L78.6 328.7L78.6 328.7L78.6 328.7L78.6 328.7L78.6 328.7L78.6 328.7L78.6 328.7L78.7 331L78.7 331L78.7 331L78.7 331L79.3 333.1L77.4 332.8L77.4 332.8L77.4 332.8L77.4 332.8L77.4 332.8L77.4 332.8L75.5 333.5L75.5 333.5L75.5 333.5L75.5 333.6L75.5 333.6L75.3 333.7L73.7 333.3L73.7 333.3L73.7 333.3L73.7 333.3L73.7 333.3L72.1 333.6L70.5 331.6L70.5 331.3L70.5 331.3L70.5 331.3L70.5 331.3L70.5 331.3L70.5 331.3L70.5 331.3L70.5 331.3L70.5 331.3L70.5 331.3L70.4 331.3L70.4 331.3L70.4 331.3L67.5 330.5L67.5 330.5L67.5 330.5L67.5 330.5L64.5 330.6L64.5 330.6L64.5 330.6L64.4 330.6L64.4 330.6L64.4 330.6L64.4 330.6L64.4 330.6L64.4 330.6L64.4 330.6L62.2 330.7L62.2 330.7L62.2 330.7L60 331.2L60 331.2L60 331.3L60 331.3L60 331.3L60 331.3L60 331.3L60 331.3L59.9 331.3L59.9 331.3L58.8 333.9L58.8 333.9L58.8 333.9L58.8 333.9L58.8 333.9L58.8 333.9L58.8 333.9L58.8 333.9L58.8 333.9L59.5 335.8L60.1 337.6L58.7 338.5L58.7 338.5L58.7 338.5L58.7 338.5L58.7 338.5L58.7 338.5L57.8 339.9L56.2 339.9L54.6 339.9L54.6 339.9L54.5 339.9L54.5 339.9L54.5 339.9L54.5 339.9L54.5 339.9L54.5 340L54.5 340L54.5 340L54.5 340L54.5 340L54.5 340L54.5 340L53.6 343.1L52.4 346.1L52.4 346.1L52.4 346.1L52.4 346.1L52.4 346.2L52.4 346.2L52.2 346.8L52.2 346.8L52.2 346.8L52.2 346.8L52.2 346.8L52.2 346.8L52.2 346.8L52.2 346.8L52.2 346.8L52.2 346.8L53.5 349.3L54.2 352L54.2 352L54.2 352L54.2 352L54.2 352L54.2 352L54.2 352L54.2 352L54.2 352L54.2 352L54.2 352L54.2 352L54.2 352L54.2 352L54.2 352L57 351.9L57 351.9L57 351.9L57 351.9L57 351.9L57 351.9L59.3 350.4L60 351.9L60 351.9L60 351.9L60 351.9L60 351.9L60 351.9L60 351.9L61.5 352.7L60.2 355.3L60.2 355.3L60.2 355.3L60.2 355.3L60.2 355.3L60.2 355.3L60.2 355.3L60.2 355.3L60.2 355.3L60.2 355.3L60.2 355.3L61.1 356.8L61.5 358.3L61.5 358.4L61.5 358.4L61.5 358.4L61.5 358.4L61.5 358.4L61.5 358.4L61.5 358.4L61.5 358.4L61.6 358.4L61.6 358.4L61.6 358.4L61.6 358.4L61.6 358.4L61.6 358.4L61.6 358.4L63.2 358L64.7 358.5L64.7 358.5L64.7 358.5L64.7 358.5L64.7 358.5L64.7 358.5L64.7 358.5L64.7 358.5L64.7 358.5L64.7 358.5L64.7 358.5L64.8 358.5L64.8 358.5L64.8 358.5L65.6 357.3L66.5 356.1L68 356.6L68 356.6L68 356.6L68 356.6L68 356.6L68 356.6L68 356.6L69.6 356.3L70.2 358L69.8 359.8L69.8 359.8L69.8 359.8L69.8 359.8L69.8 359.8L69.8 359.8L69.8 359.8L69.8 359.8L69.8 359.8L69.8 359.8L69.8 359.8L71.2 361.6L71.2 361.6L71.2 361.6L71.2 361.6L71.2 361.6L71.2 361.6L71.2 361.6L73.4 362.1L72.9 364.3L72.9 364.4L72.9 364.4L72.9 364.4L72.9 364.4L72.9 364.4L72.9 364.4L72.9 364.4L73.2 364.9L73 366.9L72.6 369L72.6 369L72.6 369L72.6 369L72.6 369L72.6 369L72.6 369L72.7 369L72.7 369L72.7 369L72.7 369L72.7 369L72.7 369L74.2 370.1L75.5 371.5L73.6 373.8L73.6 373.8L73.6 373.8L72.2 376.4L72.2 376.4L72.2 376.4L72.2 376.4L72.2 376.5L72.2 376.5L72.2 376.5L72.2 376.6L70.7 378.2L70.7 378.2L70.7 378.2L70.7 378.3L70.7 378.3L70.7 378.3L70.7 378.3L70.7 378.3L70.6 380.4L70 382.4L68.5 382.7L68.5 382.7L68.5 382.7L67 383.3L65.1 382.4L63.4 381L63.4 381L63.4 381L63.4 381L63.4 381L63.4 381L63.4 381L63.4 381L63.4 381L63.4 381L63.4 381L63.4 381L63.4 381L63.4 381L63.4 381L61.6 382.4L59.3 381.8L59.3 381.8L56.9 381.5L56.9 381.5L56.9 381.5L56.9 381.5L56.9 381.5L56.8 381.5L56.8 381.5L56.8 381.5L56.8 381.5L56.8 381.5L56.8 381.5L56.8 381.5L56.8 381.5L56.8 381.5L55.8 383.9L55.8 383.9L54.9 386.3L54.6 386.3L51.6 385.3L49.7 382.8L49.4 380.7L49.4 380.7L49.4 380.7L49.4 380.7L49.4 380.7L49.4 380.7L49.4 380.7L48.5 379.5L48.4 379.5L48.4 379.5L48.4 379.5L48.4 379.5L48.4 379.5L48.4 379.5L46.4 379L46.4 379L46.4 379L46.4 379L46.4 379L46.4 379L46.4 379L46.4 379L46.4 379L46.4 379L44.4 380.5L42.1 381.6L42.1 381.6L42 381.6L42 381.6L42 381.6L42 381.6L42 381.6L42 381.6L42 381.6L42 381.6L42 381.6L42 381.6L42 381.6L42 381.6L42 381.6L42 381.6L42 381.6L42 381.6L43.2 383.7L43 386L42.3 387L42.3 387L42.3 387.1L42.3 387.1L42.3 387.1L42.3 387.1L42 390.4L42 390.4L42 390.4L42 390.4L42 390.4L42 390.5L42 390.5L42 390.5L43.8 393.3L43.8 393.3L43.8 393.3L43.8 393.3L43.8 393.3L43.8 393.3L43.8 393.3L44.9 393.8L45 394L45.8 398L45.8 398L45.8 398L45.8 398L45.8 398L45.8 398L47.5 396.8L50 398L54.2 398.4L58.3 398.8L62.5 400.9L65.8 400.5L68.3 402.2L70 404.7L71.7 407.2L74.2 404.7L76.7 402.2L81.7 403L84.2 404.3L88.3 403.5L92.5 401.4L96.7 400.2L100.8 398.1L105 398.5L108.3 397.2L110.8 398.1L112.1 400.6L113.8 401L114.2 398.1L112.9 396L111.2 391.8L109.2 388.5L111.7 386L115.8 383.5L118.3 381L118.8 379.3L120 376.8L122.9 377.7L123.3 376.5L124.2 374.3L123.3 371L119.2 368.1L115 365.2L110.8 361.4L106.7 358.5L104.6 354.3L103.3 350.2L102.5 346L100.9 343L100.5 341L101.3 339.7L104.7 336.8L109.7 335.5L113 333L116.3 330.5L119.7 328L123.8 326.3L127.2 324.2L128.6 321.8L130.8 320.5L132.4 322.4L134.7 324.2L136.7 320.3L137.5 314.5L135.8 309.9L133.6 307.9L130.1 308.5L130.1 308.5L130.1 308.5L130.1 308.5L126.7 310.1L126.2 310L126.2 310L126.2 310L126.2 310L126.2 310L126.2 310L126.2 310L126.2 310L126.2 310L123.9 311.6L123.9 311.6L123.9 311.6L123.9 311.6L123.9 311.6L122.6 313.9L120.2 313.3L120.2 313.3L120.2 313.3L117.7 313.1L116.9 312L118 309.7L118 309.7L118 309.7L118 309.6L118 309.6L118 309.6L118 309.6L117.5 306.8L118.5 304.1L118.5 304.1L118.5 304.1L118.5 304.1L118.5 304.1L118.5 304.1L118.5 304.1L118.5 304.1L118.5 304.1L118.5 304.1L118.5 304.1L118.4 303.9L118.4 303.9L118.4 303.9L118.4 303.9L118.4 303.9L118.4 303.9L118.4 303.9L116 302.9L116 302.9L116 302.9L116 302.9L116 302.9L116 302.9L113.5 303L111.3 302L110.2 299.9L110.2 299.9L110.2 299.9L110.2 299.9L110.2 299.9L110.2 299.9L107.6 298.4L107.6 298.4L107.6 298.4L107.6 298.4L107.6 298.4L107.6 298.4L104.7 298.5L104.7 298.5L104.7 298.5L104.7 298.5L104.6 298.5L104.6 298.5L104.6 298.5L103.2 299.4L103.2 299.4L101.9 300.4L99.4 300.1L99.4 300.1L99.4 300.1L99.4 300.1L99.4 300.1L97 300.8L94.8 299.8L94.8 299.8L94.8 299.8L94.8 299.8L94.8 299.8L94.7 299.8L94.7 299.8L94.7 299.8L94.7 299.8L94.7 299.8L94.7 299.8L94.7 299.8L94.7 299.8L94.7 299.8L94.7 299.8L94.7 299.8L94.7 299.8L94.7 299.8L94.7 299.8L94.7 299.8L94.7 299.8L94.7 299.8L94.9 302.9L94 305.9L91.4 305.5L91.4 305.5L91.4 305.5L91.4 305.5L91.4 305.5L91.4 305.5L91.4 305.5L91.4 305.5L91.4 305.5L89.3 307.2L87 307.3L86.9 307.3L86.9 307.3L86.9 307.3L86.9 307.3L86.9 307.3L86.9 307.3L86.9 307.3L86.9 307.3L86.9 307.3L86.9 307.3L86 309L85.5 309.2L85.5 309.2L85.5 309.2L85.5 309.2L85.5 309.3L85.5 309.3L85.5 309.3L85.5 309.3L85.5 309.3L84.6 311.7L82.7 313.5L80.8 314.7L78.5 314.8L78.5 314.8L78.5 314.8L78.5 314.8L78.5 314.8L78.5 314.8L78.5 314.8L78.5 314.8L78.5 314.8L78.5 314.8L77.8 315.6L76.4 316.2L74.8 316.2L74.8 316.2L74.8 316.2L74.7 316.2L74.7 316.2L74.7 316.2L74.7 316.2L74.7 316.2L74.7 316.2L73.2 317.7L73.2 317.7L73.2 317.7L73.2 317.7L73.2 317.7L73.2 317.7L72.6 319.8L70.4 320.6L70.4 320.6L70.4 320.6L68.3 321.8L68.3 321.8L68.3 321.8L68.3 321.8L68.3 321.8L68.3 321.8L68.3 321.8L68.3 321.8L68.3 321.8L68.3 321.8L68.3 321.8L68.3 321.8L68.5 324.2L68.5 324.2L68.5 324.2L68.5 324.2L68.5 324.2L68.5 324.2L68.5 324.2L70 326.1ZM94.3 345.7L94.3 345.7L94.3 345.7L92.4 345.5L92.4 345.5L92.4 345.5L92.4 345.5L92.4 345.5L92.4 345.5L92.4 345.5L89.9 346.7L89.9 346.7L89.9 346.7L89.9 346.7L89.9 346.7L89.9 346.8L89.3 347.6L87.8 347.9L86.1 346.8L84.8 345.2L84.8 345.2L84.8 345.2L84.8 345.2L84.8 345.2L84.8 345.2L84.8 345.2L84.8 345.2L84.8 345.2L84.8 345.2L84.8 345.2L82.8 345.4L82 343.9L82 343.9L82 343.9L81 342.5L81.2 341L81.9 339.5L81.9 339.5L81.9 339.5L81.9 339.5L81.9 339.5L81.9 339.5L81.9 339.5L81.9 339.5L81.9 339.5L81.9 339.5L81.9 339.5L81.9 339.5L81.9 339.5L81.9 339.5L81.9 339.5L81.9 339.5L81.9 339.5L81.9 339.5L81.9 339.5L81.9 339.5L81.9 339.5L79.5 339.3L77.2 338.7L78.4 336.1L79.9 333.6L81.3 334L82.7 336.2L82.7 336.2L82.7 336.2L82.7 336.2L82.7 336.2L82.7 336.2L82.7 336.2L82.7 336.2L82.7 336.2L85.5 336.8L85.5 336.8L85.5 336.8L85.5 336.8L85.5 336.8L85.6 336.8L88.3 336L88.3 336L88.3 336L88.3 336L88.3 336L88.3 336L88.3 336L88.3 335.9L88.3 335.9L89.5 334L92 334.7L94.6 335.5L95 338.2L95 338.2L95 338.2L95 338.2L95 338.2L95 338.2L95.7 339.1L95.8 339.9L94.8 342L94.8 342L94.8 342L94.8 342L94.8 342L94.8 342L94.8 342L94.8 342L94.8 342L94.8 342L94.8 342L94.8 342L94.8 342L96 343.5L96.3 345.5L96 346.5L94.3 345.7ZM76.1 355.8L78.9 355.9L78.9 355.9L81.6 355.8L82 356.1L82.4 358.7L81.7 360.4L80.2 361.5L79.5 361.7L77.6 360.9L75.8 359.9L75.2 358.3L75.6 356.7ZM94.1 250.2L94.2 250.2L94.2 250.2L94.2 250.2L94.2 250.2L94.2 250.2L94.2 250.2L94.4 250.1L98 251.7L101.7 253.7L103 256L103.1 256L103.1 256L103.1 256L103.1 256L103.1 256L104.4 256.8L104.4 256.8L104.4 256.8L104.4 256.8L104.4 256.8L105.9 257.1L105.9 257.1L105.9 257.1L105.9 257.1L105.9 257.1L105.9 257.1L105.9 257.1L105.9 257.1L105.9 257.1L106 257.1L106 257.1L106 257.1L108.1 254.6L110.8 253.2L110.8 253.2L113.4 251.8L115.6 251.9L116.3 251.9L116.3 251.9L116.3 251.9L116.3 251.9L116.3 251.9L116.3 251.9L116.3 251.9L116.3 251.9L116.3 251.9L116.3 251.9L116.3 251.9L115 250.7L111.7 251.4L110.6 248.9L112.5 247.8L114.6 247L112.5 243.7L113.3 242L111.2 241.3L107.9 245.2L105.9 245.3L105.8 245.3L105.8 245.3L102.5 246.2L98.3 244.9L95 248.7L94.1 250.2Z" fill="#f8e76e"/><path d="M44.5 284.9L44.8 282.9L44.8 282.9L44.8 282.9L44.8 282.9L44.8 282.9L44.8 282.9L44.8 282.9L44.8 282.9L44.8 282.9L44.8 282.9L42.9 281L42.9 281L42.9 281L42.9 281L42.9 281L40.5 280L40.5 280L40.5 280L40.5 280L40.5 280L40.5 280L40.5 280L40.5 280L40.5 280L40.5 280L40.5 280L40.5 280L40.5 280L40.5 280L38.8 281.9L36.7 283L36.7 283L36.7 283L36.7 283L36.7 283L35.2 284.7L35.2 284.7L35.2 284.8L35.2 284.8L35.2 284.8L35.2 284.8L35.2 284.8L35.2 284.8L35.2 284.8L35.2 284.8L35.2 284.8L35.7 286.8L35.7 286.8L35.7 286.9L35.7 286.9L35.7 286.9L35.7 286.9L35.7 286.9L35.7 286.9L36.3 287.3L36.3 287.3L36.3 287.3L36.3 287.3L36.3 287.3L36.3 287.3L36.3 287.3L36.3 287.3L36.3 287.3L36.3 287.3L39 286.6L41.5 286.7L44 286.9L44 286.9L44 286.9L44 286.9L44 286.9L44 286.9L44 286.9L44 286.9L44 286.9L44 286.9L44 286.9L44 286.9L44 286.9L44 286.9L44 286.9L44 286.9L44.5 284.9Z" fill="#fbf4b9"/><path d="M46.9 276.5L49 279L52 277L50.2 274.8L49 273.7L45.6 274.5Z" fill="#f0831b" stroke="rgba(120,110,60,.45)" stroke-width=".25"/><path d="M52.3 296.7L54.8 298.7L56.7 297.1L58.1 295.4L57.1 292.9L56.5 291.2L54 292.4L52.3 292.9Z" fill="#f0831b" stroke="rgba(120,110,60,.45)" stroke-width=".25"/><path d="M67.6 296.4L68.1 298.7L72.3 299.5L72.8 297L73.1 294.5L70.6 291.2L67.3 293.7Z" fill="#f0831b" stroke="rgba(120,110,60,.45)" stroke-width=".25"/><path d="M74.8 294.6L74.7 297L75.3 298.7L79 300.4L79.9 297.2L80.6 294.5L79.9 292.2L78.1 290.4L74.3 292Z" fill="#f0831b" stroke="rgba(120,110,60,.45)" stroke-width=".25"/><path d="M103.1 371.9L103.6 373L105.6 373.4L106.5 372.1L106.9 370.4L104.9 369.3L103.5 369.8Z" fill="#fbf4b9" stroke="rgba(120,110,60,.45)" stroke-width=".25"/><use href="#b" fill="none" stroke="rgba(115,100,45,.6)" stroke-width=".33"/><use href="#o" fill="none" stroke="rgba(140,120,40,.7)" stroke-width=".5"/></g>
<g transform="translate(0 0)"><use href="#o" fill="#f0831b"/><path d="M84.2 279.8L84.2 279.8L84.2 279.8L84.2 279.8L84.2 279.8L84.2 279.8L84.2 279.8L84.2 279.8L84 282.1L84 282.1L84 282.1L84 282.1L84.5 284.3L84.5 284.3L84.5 284.3L84.5 284.4L84.5 284.4L84.5 284.4L84.5 284.4L86.2 285.9L85.5 288.1L85.5 288.1L85.5 288.1L85.5 288.1L85.5 288.1L85.7 290.4L85.8 290.4L85.8 290.4L85.8 290.4L85.8 290.4L85.8 290.4L85.8 290.4L85.8 290.4L85.8 290.4L85.8 290.4L86.7 291.1L87.7 293.5L87.7 293.5L87.7 293.5L89.2 295.6L89.1 298.2L89.1 298.2L89.1 298.2L89.1 298.2L89.1 298.2L89.1 298.2L89.1 298.2L89.1 298.2L89.1 298.2L89.1 298.2L89.1 298.2L89.1 298.2L89.1 298.2L89.1 298.2L89.1 298.2L89.1 298.2L89.1 298.2L89.2 298.2L89.2 298.2L91.5 297.8L93.7 298.6L94.7 299.9L94.7 299.9L94.7 299.9L94.7 299.9L94.7 299.9L97 300.9L97 300.9L97 300.9L97 300.9L97 300.9L97 300.9L97 300.9L97 300.9L99.4 300.2L101.9 300.5L100.6 302.8L100.6 302.8L100.6 302.8L100.6 302.8L100.6 302.8L100.6 302.8L100.6 302.9L100.6 302.9L101 305.4L101.3 308.1L98.6 307.7L98.6 307.7L98.5 307.7L95.7 307.8L94.1 305.9L94.1 305.9L94.1 305.9L94.1 305.9L94.1 305.9L94.1 305.9L94.1 305.9L94.1 305.9L91.4 305.5L91.4 305.5L91.4 305.5L91.4 305.5L91.4 305.5L91.4 305.5L91.4 305.5L91.4 305.5L91.4 305.5L89.3 307.2L87 307.3L86.9 307.3L86.9 307.3L86.9 307.3L86.9 307.3L86.9 307.3L86.9 307.3L86.9 307.3L86.9 307.3L86.9 307.3L86.9 307.3L86 309L85.5 309.2L82.1 308.4L79.5 306.1L79.5 306.1L79.5 306.1L79.5 306.1L79.5 306.1L79.5 306.1L79.4 306.1L79.4 306.1L79.4 306.1L79.4 306.1L79.4 306.1L78.4 306.4L78.4 306.4L78.4 306.4L78.4 306.4L78.4 306.4L78.4 306.4L77.1 307.8L77.1 307.8L77.1 307.8L77.1 307.8L77.1 307.8L77.1 307.8L76.6 309.6L75.2 309.2L75.2 309.2L75.2 309.2L73.7 309.1L73.7 309.1L73.7 309.1L73.7 309.1L73.7 309.1L73.7 309.1L73.7 309.1L73.7 309.1L73.7 309.1L73.7 309.1L73.6 309.1L73.6 309.1L73.6 309.1L73.6 309.1L73.6 309.1L73.6 309.2L73.3 311.3L72.1 313.1L72.1 313.1L72.1 313.1L72.1 313.1L72.1 313.2L72.1 313.2L72.1 313.2L72.1 313.2L72.1 313.2L72.1 313.2L72.1 313.2L72.1 313.2L73.1 315L73.1 315L73.1 315L73.1 315L73.2 315L74.7 316.3L74.7 316.3L74.7 316.3L74.7 316.3L74.7 316.3L74.8 316.3L74.8 316.3L74.8 316.3L76.4 316.3L76.4 316.3L76.4 316.3L76.4 316.3L76.4 316.3L77.8 315.7L78.6 318.7L78.6 318.7L78.6 318.7L79.8 321.4L77.7 323.5L75 324.8L75 324.8L75 324.8L75 324.8L75 324.8L75 324.8L75 324.8L75 324.8L75 324.8L75 324.8L74.9 325L74.9 325L74.9 325L74.9 325L74.9 325.1L74.9 325.1L74.9 325.1L74.9 325.1L75.9 327.4L75.9 327.4L75.9 327.4L75.9 327.4L76 327.4L76 327.4L76 327.4L76 327.4L78.6 328.8L78.7 331L78.7 331L78.7 331L78.7 331L79.3 333.2L79.3 333.2L79.3 333.2L79.3 333.2L79.3 333.2L79.3 333.2L79.3 333.2L79.8 333.6L79.8 333.6L79.8 333.6L79.8 333.6L79.8 333.6L79.9 333.6L81.3 334L82.7 336.2L82.7 336.2L82.7 336.2L82.7 336.2L82.7 336.2L82.7 336.2L82.7 336.2L82.7 336.2L82.7 336.2L85.5 336.8L85.5 336.8L85.5 336.8L85.5 336.8L85.5 336.8L85.6 336.8L88.3 336L88.3 336L88.3 336L88.3 336L88.3 336L88.3 336L88.3 336L88.3 335.9L88.3 335.9L89.5 334L89.5 334L89.5 334L89.5 334L89.5 334L89.5 334L89.5 334L89.5 333.9L89.5 333.9L89.5 333.9L89.5 333.9L89.5 333.9L88.7 332.4L88.6 330.7L89.5 329.3L89.5 329.3L89.5 329.3L89.5 329.3L89.5 329.3L89.5 329.3L89.5 329.3L89.5 329.3L89.3 327.4L89.6 325.6L89.6 325.5L89.6 325.5L89.6 325.5L89.6 325.5L89.6 325.5L89.6 325.5L89.6 325.5L89.1 324.8L89.1 324.8L89.1 324.8L89.1 324.8L89.1 324.8L89.1 324.8L86.3 323.4L86.3 323.4L86.3 323.4L86.3 323.4L83.3 323L83.9 320L86 317.8L88.4 317.7L90.8 317.8L91 318.5L91 318.5L91 318.5L91 318.5L91 318.5L91 318.5L91 318.5L92.9 320L92.9 320L92.9 320L95.1 321L95.1 321L95.1 321L95.1 321L95.1 321L95.1 321L95.1 321L95.1 321L97.7 320.5L97.7 320.5L97.7 320.5L97.7 320.5L97.7 320.5L99.8 318.9L99.8 318.9L99.8 318.9L99.8 318.9L99.8 318.9L99.8 318.9L99.8 318.9L100.7 316.4L100.8 316.3L103.7 316.9L106.2 318.8L106.2 318.8L106.3 318.8L106.3 318.8L106.3 318.8L109.4 319.6L109.5 319.9L109.5 320L109.5 320L109.5 320L109.5 320.1L109.5 320.1L109.5 320.1L110.6 322.4L110.6 322.4L110.6 322.4L110.6 322.4L112.1 324.4L112.8 326.7L112.8 326.7L112.8 326.7L112.8 326.7L112.8 326.7L112.8 326.7L112.8 326.7L112.8 326.7L112.8 326.7L112.8 326.7L112.9 326.7L112.9 326.7L112.9 326.7L112.9 326.7L112.9 326.7L112.9 326.7L112.9 326.7L112.9 326.7L115.3 325.7L118 325.9L118 325.9L118 325.9L118 325.9L118 325.9L118 325.9L118 325.9L118 325.9L118 325.9L118 325.9L118 325.9L118 325.9L119.2 324L119.2 324L119.2 324L119.2 324L119.2 324L119.2 324L119.2 324L119.3 321.8L121.6 320.4L124.3 319.7L124.3 319.7L124.3 319.7L124.3 319.7L124.3 319.7L124.3 319.7L124.3 319.6L124.3 319.6L124.3 319.6L124.3 319.6L124.3 319.6L124.3 319.6L124.3 319.6L124.3 319.6L124.3 319.6L124.3 319.6L124.3 319.6L124.3 319.6L123.4 316.8L122.6 314L124 311.6L126.2 310.1L126.7 310.2L129 311.2L129.2 314.3L129.2 314.3L129.2 314.3L129.2 314.3L129.2 314.3L129.2 314.3L129.2 314.3L129.2 314.3L129.2 314.3L129.2 314.3L129.2 314.3L129.2 314.3L131.7 315.4L131.7 315.4L131.7 315.4L131.7 315.4L131.7 315.4L131.7 315.4L131.7 315.4L131.8 315.4L131.8 315.4L131.8 315.4L131.8 315.4L131.8 315.4L131.8 315.4L131.8 315.4L134.7 312.2L134.7 312.1L136.1 310.6L135.8 309.9L132.5 307L131.2 302L132.1 297L130.8 292L129.6 290.3L129.2 287L126.7 282.8L123.3 279.5L123.8 276.2L125.4 271.2L125 267L124.1 264.3L119.9 264.7L119.9 264.7L119.9 264.7L119.9 264.7L119.9 264.7L119.9 264.7L119.9 264.7L119.8 264.7L119.8 264.7L117.9 266.9L117.9 266.9L117.9 266.9L117.9 266.9L117.9 266.9L117.9 266.9L117.9 266.9L117.9 266.9L117.9 266.9L118 269.7L116.8 271.9L115.6 272.3L113.4 270.1L111.3 267.6L111.2 267.5L111.2 267.5L111.2 267.5L111.2 267.5L111.2 267.5L111.2 267.5L107.8 266.4L107.8 266.4L107.8 266.4L107.8 266.4L107.8 266.4L107.7 266.4L107.7 266.4L107.7 266.4L105.4 267.3L105.4 267.3L105.4 267.3L105.4 267.3L105.4 267.3L105.4 267.3L103.8 269.1L101.8 267.2L101.8 267.2L101.8 267.2L101.8 267.2L101.8 267.2L101.8 267.2L101.7 267.2L99.3 266.9L96.9 266.5L96.9 266.5L96.9 266.5L96.9 266.5L96.9 266.5L96.9 266.5L96.9 266.5L96.9 266.5L96.9 266.5L96.9 266.5L96.9 266.5L96.9 266.5L96.9 266.5L95.4 268.5L95.4 268.5L94.1 270.5L92.7 272.2L92.7 272.2L92.7 272.2L92.7 272.2L92.7 272.2L92.7 272.2L92.7 272.2L92.7 272.2L92.7 272.2L92.7 272.2L92.7 272.2L93.4 274.7L93.4 274.7L93.4 274.7L94.6 276.9L92.6 278.2L92.6 278.2L92.6 278.2L92.6 278.2L92.6 278.2L91.2 280.1L89.1 278.1L87 276.1L87 276.1L87 276.1L87 276.1L87 276.1L87 276.1L87 276.1L87 276.1L87 276.1L87 276.1L87 276.1L86.9 276.1L86.9 276.1L86.9 276.1L86.9 276.1L86.9 276.1L86.9 276.1L86.9 276.1L86.9 276.1L86.9 276.1L85.9 277.9L84.8 279.5L84.2 279.8L84.2 279.8L84.2 279.8L84.2 279.8ZM60.4 316.6L58.3 314.5L58.3 314.5L58.3 314.5L58.3 314.5L58.3 314.5L58.3 314.5L58 314.4L58 314.4L58 314.4L58 314.4L57.9 314.4L57.9 314.4L57.9 314.4L57.9 314.4L57.9 314.4L57.9 314.4L57.9 314.4L57.9 314.4L56.6 315.6L54.9 316L54.9 316.1L54.9 316.1L54.9 316.1L54.9 316.1L54.9 316.1L54.9 316.1L54.9 316.1L54.9 316.1L54.9 316.1L54.9 316.1L54.9 316.1L54.9 316.1L54.9 316.1L54.9 316.1L54.9 316.1L55.4 318.5L54.8 320.8L54.8 320.8L54.8 320.8L54.8 320.8L54.8 320.8L54.8 320.8L54.8 320.8L54.8 320.8L54.8 320.8L54.8 320.8L54.8 320.8L54.8 320.8L56.5 322.4L56 324.5L56 324.5L56 324.5L56 324.5L56 324.5L56 324.5L56.7 326.5L56.7 326.5L56.7 326.5L56.7 326.5L56.7 326.5L56.7 326.5L56.7 326.5L56.7 326.6L56.7 326.6L56.7 326.6L56.7 326.6L56.7 326.6L56.7 326.6L56.7 326.6L56.7 326.6L56.7 326.6L56.7 326.6L56.7 326.6L56.7 326.6L56.8 326.5L56.8 326.5L58.6 324.9L61 324.8L61 324.8L63.5 324.6L63.5 324.6L63.5 324.6L63.5 324.6L63.5 324.6L63.5 324.6L63.5 324.6L63.5 324.6L63.5 324.6L63.5 324.6L63.5 324.6L63.5 324.6L63.5 324.6L63.5 324.6L63.9 322.9L64 322.9L64 322.9L64 322.9L64 322.9L63.9 322.9L63.9 322.9L63.9 322.9L63.9 322.9L62.9 321.3L62.9 321.3L61.8 319.8L61.8 319.8L61.8 319.8L61.8 319.8L61.8 319.8L61.8 319.8L61.8 319.8L61.8 319.8L60.8 319.5L60.4 316.6L60.4 316.6L60.4 316.6L60.4 316.6L60.4 316.6L60.4 316.6Z" fill="#fdcb12"/><path d="M43.9 314.2L43.9 314.2L43.9 314.2L43.9 314.2L42.2 314.3L42.2 314.3L42.2 314.3L42.2 314.3L42.2 314.3L42.2 314.3L42.2 314.3L40.9 315.3L40.9 315.3L40.9 315.3L40.9 315.3L40.9 315.3L40.9 315.3L40.9 315.3L40.9 315.3L40.2 318.2L40.2 318.2L40.2 318.2L40.2 318.2L40.2 318.2L40.2 318.2L40.2 318.2L40.2 318.2L40.6 319L39.3 321L36.4 321.2L36.4 321.2L36.4 321.2L36.4 321.2L36.4 321.2L36.3 321.2L36.3 321.2L36.3 321.2L36.3 321.2L36.3 321.2L34.9 323.3L34.9 323.3L34.9 323.3L34.9 323.3L34.9 323.3L34.9 323.3L34.9 323.3L34.9 323.3L34.9 323.3L34.9 323.3L34.9 323.3L35.9 325.5L35.9 325.5L35.9 325.5L35.9 325.5L35.9 325.5L35.9 325.5L35.9 325.5L35.9 325.5L35.9 325.5L35.9 325.5L35.9 325.5L35.9 325.5L35.9 325.5L38.1 325.5L38.1 325.5L40.3 325.1L40.7 325.4L40.7 325.4L40.7 325.4L40.7 325.4L40.7 325.4L40.7 325.4L40.7 325.4L40.8 325.4L40.8 325.4L42.6 325.1L42.6 325.1L42.6 325.1L42.6 325.1L44.3 324.2L45.6 326L46.7 328L46.7 328L46.7 328L46.7 328L46.8 328L46.8 328L46.8 328L46.8 328L46.8 328L46.8 328L46.8 328L46.8 328L46.8 328L46.8 328L46.8 328L46.8 328L46.8 328L48.8 326.8L48.8 326.8L48.8 326.8L48.8 326.8L50.4 325.1L50.4 325.1L50.5 325.1L50.5 325.1L50.5 325.1L50.5 325.1L50.5 325.1L50.5 325.1L50.5 325.1L50.5 325.1L50.5 325.1L50.5 325.1L49.9 323.2L49.5 321.4L49.5 321.3L52.2 321.2L52.2 321.2L54.8 320.8L54.8 320.8L54.8 320.8L54.8 320.8L54.8 320.8L54.8 320.8L54.8 320.8L54.8 320.8L54.8 320.8L54.8 320.8L54.9 320.8L54.9 320.8L54.9 320.8L55.5 318.5L55.5 318.5L55.5 318.5L55.5 318.5L55.5 318.5L55.5 318.4L55 316.1L55 316.1L55 316.1L55 316.1L55 316.1L55 316.1L55 316.1L55 316.1L55 316.1L55 316.1L54.9 316.1L54.9 316L54.9 316L54.9 316L52.4 315.9L50.1 314.8L50.1 314.8L50.1 314.8L50.1 314.8L50.1 314.8L50.1 314.8L50.1 314.8L50.1 314.8L50.1 314.8L50.1 314.8L50.1 314.8L50.1 314.8L50.1 314.8L50.1 314.8L48.5 316.6L46.6 316.5L45.1 315.5L43.9 314.2L43.9 314.2L43.9 314.2L43.9 314.2L43.9 314.2L43.9 314.2ZM60 331.3L60 331.3L60 331.3L59.9 331.3L59.9 331.3L58.8 333.9L58.8 333.9L58.8 333.9L58.8 333.9L58.8 333.9L58.8 333.9L58.8 333.9L58.8 333.9L58.8 333.9L59.5 335.8L60.1 337.6L58.7 338.5L58.7 338.5L58.7 338.5L58.7 338.5L58.7 338.5L58.7 338.5L57.8 339.9L57.8 339.9L57.8 339.9L57.8 339.9L57.8 339.9L57.8 339.9L57.8 339.9L57.8 339.9L58.2 342.9L58.2 342.9L58.2 342.9L58.2 342.9L58.2 342.9L59.9 345.4L59.2 346L55.9 345.3L55.9 345.3L55.8 345.3L55.8 345.3L55.8 345.3L52.5 346.1L52.5 346.1L52.4 346.1L52.4 346.1L52.4 346.1L52.4 346.1L52.4 346.1L52.4 346.1L52.4 346.1L52.4 346.1L52.4 346.2L52.4 346.2L52.2 346.8L52.2 346.8L52.2 346.8L52.2 346.8L52.2 346.8L52.2 346.8L52.2 346.8L52.2 346.8L52.2 346.8L52.2 346.8L53.5 349.3L54.2 352L53.7 353.7L51.4 354.9L51.4 354.9L51.4 354.9L51.4 354.9L51.4 354.9L51.4 354.9L51.4 354.9L50.4 356.9L50.4 356.9L50.4 356.9L50.4 356.9L50.4 356.9L50.4 356.9L50.4 356.9L50.4 356.9L50.4 356.9L50.4 356.9L50.5 356.9L50.5 356.9L51.9 358.8L52.1 361.1L52.1 361.1L52.1 361.1L52.1 361.1L52.1 361.1L52.1 361.1L52.1 361.1L52.1 361.1L52.1 361.2L52.1 361.2L52.1 361.2L52.1 361.2L52.1 361.2L52.1 361.2L53.8 361.5L53.8 361.5L53.8 361.5L53.8 361.5L55.5 361.4L55.9 363.8L55.9 363.8L55.9 363.9L56.9 366.2L56.9 366.2L56.9 366.2L56.9 366.2L56.9 366.2L56.9 366.2L56.9 366.2L58.3 367.1L58.3 367.1L58.3 367.1L58.3 367.1L58.3 367.1L58.3 367.1L58.4 367.1L58.4 367.1L61.1 366.8L62.4 368.3L62.4 368.3L62.4 368.3L62.4 368.3L62.4 368.3L62.4 368.3L62.5 368.3L62.5 368.3L62.5 368.3L62.5 368.3L62.5 368.3L64.9 368L67.2 368.7L68.3 370.3L68.1 372.2L68.1 372.2L68.1 372.2L68.1 372.2L68.1 372.2L68.1 372.2L68.1 372.2L68.1 372.2L69.8 374.7L69.8 374.7L69.8 374.7L69.8 374.7L69.8 374.7L72.2 376.5L72.2 376.5L72.2 376.5L72.2 376.5L72.2 376.5L72.2 376.5L72.2 376.5L72.3 376.5L72.3 376.5L72.3 376.5L72.3 376.5L72.3 376.5L72.3 376.5L72.3 376.5L72.3 376.5L72.3 376.5L72.3 376.5L72.3 376.5L73.7 373.9L75.6 371.6L76.7 371.4L79 372.7L79.8 374.3L79.8 376.1L78 377.9L75.4 378.3L73.7 377.7L72.3 376.6L72.3 376.6L72.3 376.6L72.3 376.6L72.3 376.6L72.3 376.6L72.3 376.6L72.3 376.6L72.3 376.6L72.3 376.6L72.2 376.6L72.2 376.6L72.2 376.6L72.2 376.6L72.2 376.6L72.2 376.6L70.7 378.2L67.3 377.9L67.3 377.9L63.8 377.7L63.8 377.7L63.8 377.7L63.8 377.7L63.8 377.7L63.8 377.7L63.8 377.7L63.8 377.7L63.8 377.7L63.8 377.7L63.8 377.7L63.8 377.7L63.8 377.7L63.8 377.7L63.8 377.8L63.8 377.8L63.5 379.4L63.5 379.4L63.3 381L61.6 382.4L59.3 381.8L59.3 381.8L56.9 381.5L56 379.7L56 379.7L56 379.7L56 379.7L56 379.7L56 379.7L56 379.7L56 379.7L56 379.7L56 379.7L56 379.7L56 379.7L56 379.7L56 379.7L56 379.7L56 379.7L56 379.7L52.8 381.1L49.4 380.7L48.5 379.5L48.4 379.5L48.4 379.5L48.4 379.5L48.4 379.5L48.4 379.5L48.4 379.5L46.4 379L46.4 379L46.4 379L46.4 379L46.4 379L46.4 379L46.4 379L46.4 379L46.4 379L46.4 379L44.4 380.5L42.1 381.6L42.1 381.6L42 381.6L42 381.6L42 381.6L42 381.6L42 381.6L42 381.6L42 381.6L42 381.6L42 381.6L42 381.6L42 381.6L42 381.6L42 381.6L42 381.6L42 381.6L42 381.6L43.2 383.7L43 386L42.3 387L42.3 387L42.3 387.1L42.3 387.1L42.3 387.1L42.3 387.1L42 390.4L42 390.4L42 390.4L42 390.4L42 390.4L42 390.5L42 390.5L42 390.5L43.8 393.3L43.8 393.3L43.8 393.3L43.8 393.3L43.8 393.3L43.8 393.3L43.8 393.3L44.9 393.8L45 394L45.8 398L45.8 398L45.8 398L45.8 398L45.8 398L45.8 398L47.5 396.8L50 398L54.2 398.4L56.3 398.6L56.6 396.8L59.1 396.2L61.6 396.1L61.1 399.5L61.1 399.5L61.1 399.5L61.1 399.5L61.3 400.3L62.5 400.9L65.8 400.5L68.3 402.2L70 404.7L71.7 407.2L74.2 404.7L76.7 402.2L81.7 403L84.2 404.3L88.3 403.5L92.5 401.4L96.7 400.2L100.8 398.1L105 398.5L108.3 397.2L110.8 398.1L112.1 400.6L113.8 401L114.2 398.1L112.9 396L111.2 391.8L109.2 388.5L111.7 386L112 385.8L112 385.8L112 385.8L111.5 385.2L112.1 383.4L112.1 383.4L112.1 383.4L112.4 381.5L112.4 381.5L112.4 381.5L112.4 381.5L112.4 381.5L112.4 381.5L112.4 381.5L112.4 381.5L112.4 381.5L111.2 379.9L111.2 379.9L111.2 379.9L111.2 379.9L111.2 379.9L111.1 379.9L111.1 379.9L111.1 379.9L111.1 379.9L111.1 379.9L111.1 379.9L111.1 379.9L111.1 379.9L109.2 380.4L109.2 380.4L107.4 381.2L105.6 379.9L104.8 377.8L104.8 377.8L104.8 377.8L104.8 377.8L104.8 377.8L104.8 377.8L104.8 377.8L104.8 377.8L104.8 377.8L104.8 377.8L104.8 377.8L104.8 377.8L104.8 377.8L104.8 377.8L104.8 377.8L104.8 377.8L102.8 378.2L102.8 378.2L102.8 378.2L102.8 378.2L102.8 378.2L102.8 378.2L102.8 378.2L102.8 378.3L101.5 380L101.5 380L100.4 381.8L98.7 382.1L96.9 381.2L95.2 380L94.9 378.9L96.1 376.9L96.1 376.9L96.1 376.9L96.1 376.9L96.1 376.9L96.5 374.6L96.5 374.6L96.5 374.6L96.5 374.6L96.5 374.6L96.4 374.6L96.4 374.6L96.4 374.6L96.4 374.5L96.4 374.5L96.4 374.5L96.4 374.5L96.4 374.5L96.4 374.5L96.4 374.5L96.4 374.5L96.4 374.5L92.9 373.9L90.2 371.7L90.2 370L91.1 368.4L91.1 368.4L91.1 368.4L91.1 368.4L91.1 368.4L91.1 368.4L91.1 368.4L91.1 368.4L91.1 368.4L91.1 368.4L90.8 367.6L90.8 367.5L90.8 367.5L90.8 367.5L90.8 367.5L90.8 367.5L90.8 367.5L88.5 365.9L88.5 365.9L88.5 365.9L88.5 365.9L88.5 365.9L85.8 365.1L86 363.1L87 361.3L89.8 361.1L92.6 361.6L92.9 361.8L93.1 362.6L93.1 362.6L93.1 362.6L93.1 362.6L93.1 362.6L93.1 362.6L93.1 362.6L95 364.2L95 364.2L95 364.2L95 364.2L95 364.2L95 364.2L97.4 364.7L97.4 364.7L97.4 364.7L97.4 364.7L97.4 364.7L97.4 364.7L97.4 364.7L97.5 364.7L97.5 364.7L97.5 364.7L97.5 364.7L97.5 364.7L98.8 363L100.3 361.5L101.9 361.7L101.9 361.7L101.9 361.7L101.9 361.7L101.9 361.7L101.9 361.7L101.9 361.7L101.9 361.7L101.9 361.7L101.9 361.7L101.9 361.7L103.3 360.1L104.7 358.6L106.9 358.8L106.9 358.8L107.1 358.8L107.1 358.8L107.1 358.8L107.1 358.8L107.1 358.8L107.1 358.8L107.1 358.8L107.1 358.8L107.1 358.8L107.1 358.8L107.1 358.8L107.1 358.8L106.7 358.5L104.6 354.3L103.3 350.2L102.5 346L100.9 343L100.5 341L101.3 339.7L101.5 339.6L100.6 338L100.6 338L100.6 338L100.6 338L100.6 338L100.6 338L100.6 338L100.6 338L100.6 338L100.5 338L100.5 338L100.5 338L100.5 338L100.5 338L100.5 338L100.5 338L98.2 339L95.7 339.1L95.1 338.2L95.1 338.2L95.1 338.2L95.1 338.2L95.1 338.2L95.1 338.2L95.1 338.2L95 338.2L95 338.2L95 338.2L95 338.2L95 338.2L95 338.2L93 338.7L93 338.7L93 338.7L91.2 339.6L89.6 339L88.5 337.8L88.3 335.9L88.3 335.9L88.3 335.9L88.3 335.9L88.3 335.9L88.3 335.9L88.3 335.9L88.3 335.9L88.3 335.9L88.3 335.9L88.3 335.9L88.3 335.9L88.3 335.9L88.3 335.9L88.3 335.9L88.3 335.9L88.3 335.9L88.3 335.9L88.3 335.9L85.5 336.7L82.8 336.1L82.7 336.1L82.7 336.1L82.7 336.1L82.7 336.1L82.7 336.1L82.7 336.1L82.7 336.1L82.7 336.2L82.7 336.2L82.7 336.2L82.7 336.2L82.7 336.2L82.7 336.2L82 337.6L82 337.6L82 337.6L82 337.6L82 337.6L82 337.6L82 337.6L82.2 339.2L81.9 339.5L79.5 339.3L77.2 338.7L77.2 338.7L77.2 338.7L77.2 338.7L77.2 338.7L77.2 338.7L77.2 338.7L77.2 338.7L76.5 339L74.8 336.9L74.8 336.9L74.8 336.9L74.8 336.9L74.8 336.9L74.8 336.9L74.8 336.9L74.8 336.9L74.8 336.9L73.1 336.8L73 336.8L71.3 336.9L71.3 336.9L71.3 337L71.3 337L71.3 337L71.3 337L69.5 338.2L68 337.5L67.4 336.6L67.4 336.5L67.4 336.5L67.4 336.5L67.4 336.5L65.7 335.3L65 333L64.5 330.7L64.5 330.7L64.5 330.7L64.5 330.7L64.5 330.6L64.5 330.6L64.5 330.6L64.5 330.6L64.5 330.6L64.5 330.6L64.5 330.6L64.4 330.6L64.4 330.6L64.4 330.6L64.4 330.6L62.2 330.7L62.2 330.7L62.2 330.7L60 331.2L60 331.2L60 331.3L60 331.3L60 331.3Z" fill="#e6281f"/><path d="M106.9 358.7L104.7 358.5L104.7 358.5L104.7 358.5L104.7 358.5L104.7 358.5L104.6 358.5L104.6 358.5L104.6 358.5L104.6 358.5L104.6 358.5L103.2 360L103.2 360L101.9 361.6L100.3 361.4L100.3 361.4L100.3 361.4L100.3 361.4L100.3 361.4L100.3 361.4L100.3 361.4L100.2 361.4L100.2 361.4L100.2 361.4L100.2 361.4L98.7 362.9L98.7 362.9L97.4 364.6L95.1 364.1L93.2 362.6L93 361.8L93 361.8L93 361.8L93 361.8L93 361.8L93 361.8L93 361.8L92.7 361.5L92.7 361.5L92.7 361.5L92.7 361.5L92.6 361.5L92.6 361.5L92.6 361.5L89.8 361L89.8 361L89.8 361L87 361.2L87 361.2L87 361.2L87 361.2L87 361.2L87 361.2L87 361.2L87 361.2L87 361.3L86.9 361.3L86.9 361.3L85.9 363.1L85.9 363.1L85.9 363.1L85.9 363.1L85.9 363.1L85.7 365.1L85.7 365.2L85.7 365.2L85.7 365.2L85.7 365.2L85.7 365.2L85.7 365.2L85.7 365.2L85.7 365.2L85.7 365.2L85.7 365.2L85.7 365.2L85.7 365.2L85.7 365.2L85.7 365.2L88.4 366L90.7 367.6L91 368.4L90.2 369.9L90.2 369.9L90.2 369.9L90.2 369.9L90.2 369.9L90.2 369.9L90.1 371.7L90.1 371.7L90.1 371.7L90.1 371.7L90.1 371.7L90.1 371.8L90.1 371.8L90.1 371.8L90.1 371.8L90.1 371.8L92.9 374L92.9 374L92.9 374L92.9 374L92.9 374L92.9 374L96.3 374.6L96 376.9L94.8 378.9L94.8 378.9L94.8 378.9L94.8 378.9L94.8 378.9L94.8 378.9L94.8 378.9L94.8 378.9L94.8 378.9L95.1 380L95.1 380L95.1 380.1L95.2 380.1L95.2 380.1L95.2 380.1L95.2 380.1L95.2 380.1L96.8 381.2L96.9 381.2L98.6 382.2L98.6 382.2L98.6 382.2L98.7 382.2L98.7 382.2L98.7 382.2L98.7 382.2L98.7 382.2L100.4 381.9L100.4 381.9L100.4 381.9L100.4 381.9L100.4 381.9L100.4 381.9L100.4 381.9L100.4 381.9L100.4 381.9L101.6 380.1L102.9 378.3L104.8 377.9L105.5 380L105.5 380L105.5 380L105.5 380L105.5 380L105.5 380L105.5 380L107.4 381.3L107.4 381.3L107.4 381.3L107.4 381.3L107.4 381.3L107.4 381.3L107.4 381.3L107.4 381.3L107.4 381.3L107.4 381.3L107.4 381.3L109.2 380.5L111.1 380L112.3 381.5L112 383.4L111.4 385.2L111.4 385.2L111.4 385.2L111.4 385.2L111.4 385.2L111.4 385.2L111.4 385.2L111.4 385.2L111.4 385.2L111.4 385.2L111.5 385.2L112 385.8L115.8 383.5L118.3 381L118.8 379.3L120 376.8L122.9 377.7L123.3 376.5L124.2 374.3L123.3 371L119.2 368.1L115 365.2L110.8 361.4L107 358.7ZM75.5 371.5L75.5 371.5L75.5 371.5L73.6 373.8L73.6 373.8L73.6 373.8L72.2 376.4L72.2 376.4L72.2 376.4L72.2 376.4L72.2 376.5L72.2 376.5L72.2 376.5L72.2 376.6L72.2 376.6L72.2 376.7L72.2 376.7L72.2 376.7L72.2 376.7L72.2 376.7L72.2 376.7L72.2 376.7L73.7 377.8L73.7 377.8L73.7 377.8L73.7 377.8L75.4 378.4L75.4 378.4L75.4 378.4L75.4 378.4L75.4 378.4L75.4 378.4L78 378L78 378L78 378L78 378L78 378L78 378L78 378L79.9 376.2L79.9 376.2L79.9 376.2L79.9 376.2L79.9 376.2L79.9 376.2L79.9 376.2L79.9 376.1L79.9 376.1L79.9 374.3L79.9 374.3L79.9 374.3L79.9 374.3L79.9 374.3L79.9 374.3L79.1 372.7L79.1 372.7L79.1 372.7L79.1 372.7L79.1 372.7L79.1 372.7L79.1 372.7L76.7 371.3L76.7 371.3L76.7 371.3L76.7 371.3L76.7 371.3L76.7 371.3L76.7 371.3L76.7 371.3L75.5 371.5L75.5 371.5L75.5 371.5L75.5 371.5L75.5 371.5Z" fill="#c0161b"/><path d="M46 262L47.5 265L46 268L46.5 272L50 271.5L51.2 269.4L52 267.5L55 266L56 263L54.1 262.1L52 260.5L49.6 260.6L47.2 260.1L46.7 260.3L46.1 261.5Z" fill="#e6281f" stroke="rgba(120,110,60,.45)" stroke-width=".25"/><path d="M76.7 261.2L78.8 264.1L81.7 265.3L85 264.9L86.7 262L89.2 259.9L88.8 257.4L85 257L82.7 256.6L80 256.8L78.9 256.7L77.5 257L74.6 259.5Z" fill="#fdcb12" stroke="rgba(120,110,60,.45)" stroke-width=".25"/><path d="M121.2 318.7L124.2 318.7L125.8 319.5L128.3 320.8L130.8 320.3L131.5 321.3L132.4 322.4L134.7 324.2L136.7 320.3L137.5 314.5L136.8 312.5L136.5 312.1L135.8 309.9L132.5 309.1L130.2 309.8L127.5 309.9L125.8 310.7L123.3 312L122.2 314.2L120.8 316.2Z" fill="#f0831b" stroke="rgba(120,110,60,.45)" stroke-width=".25"/><path d="M20.3 315.4L24.5 315.8L25.3 318.3L27.8 319.2L30.3 316.7L32.8 315.4L35.8 313.8L36.2 310.4L33.7 308.3L30.3 309.6L27 311.7L24 310.8L22 310.8L19.9 312.5Z" fill="#fdcb12" stroke="rgba(120,110,60,.45)" stroke-width=".25"/><path d="M21.5 326L23.5 327.5L25.8 326.5L26.2 323.5L23.5 322L21.2 323Z" fill="#fdcb12" stroke="rgba(120,110,60,.45)" stroke-width=".25"/><path d="M24.7 332.5L26.8 332.3L26.6 329L24.5 329.2Z" fill="#fdcb12" stroke="rgba(120,110,60,.45)" stroke-width=".25"/><path d="M10.8 344.3L12.4 348L15.8 349.8L18.7 348.9L22 350.2L23.7 352.7L26.2 351L26.9 349L27 346L29.5 342.7L30.5 340.1L31.2 338.5L30.3 336.7L28.7 334.3L25.3 333.1L22 335.2L18.7 338.1L14.5 338.9L11.6 341Z" fill="#e6281f" stroke="rgba(120,110,60,.45)" stroke-width=".25"/><path d="M31.7 333L32.5 335.5L35.5 337.7L39 336L39.3 334.1L39.5 331.5L36.8 330.4L35 330.2L32 331Z" fill="#e6281f" stroke="rgba(120,110,60,.45)" stroke-width=".25"/><path d="M14.2 357.4L14.6 357.8L16 359L19 359.7L21 359.3L24 359.2L26.5 358.8L26.7 356L24.6 355.8L22 355.3L18 354.8L14.9 355.3L14.2 357.1Z" fill="#e6281f" stroke="rgba(120,110,60,.45)" stroke-width=".25"/><path d="M36.9 316.8L37 319.2L36.2 321.9L34.9 324.2L37.8 325L39.4 323.9L41.2 321.7L45.3 320.8L48.7 318.3L47.7 316.4L47 314.2L44.9 315.8L42 316.7L39.7 316L37.8 314.6Z" fill="#e6281f" stroke="rgba(120,110,60,.45)" stroke-width=".25"/><path d="M27.4 280.5L26.2 283.3L25 286.7L21.7 287.5L21.2 290L25 291.7L26.7 295L29.6 294.6L31.7 294.2L34.2 292.5L36.7 293.5L38.3 295L37.5 298.8L40.8 299.2L44.2 296.7L44.5 294.3L44.6 291.7L43.3 287.9L44.6 284.2L41.7 282.5L41.2 280.7L40 278.3L38.4 276.8L35.8 275.8L33.6 276L30.8 277.1L27.9 278.3Z" fill="#e6281f" stroke="rgba(120,110,60,.45)" stroke-width=".25"/><path d="M21.2 300.4L18.3 303.5L18.5 304.5L22 305.8L25.2 306.6L28 306.5L30.5 307.1L33.7 307.2L32.5 303.3L30 300L28.4 298.4L26.7 296.7L23.3 298.3Z" fill="#e6281f" stroke="rgba(120,110,60,.45)" stroke-width=".25"/><path d="M67.7 315.6L67.5 318.5L70.1 317.6L73 317.5L73 315.2L73 312L69.6 312.9L67 313.5Z" fill="#e6281f" stroke="rgba(120,110,60,.45)" stroke-width=".25"/><path d="M49.6 309.7L50.2 312.5L50 315.2L53 314L55.2 313.6L57.8 312.5L57.6 310.4L58 307.7L57.5 305.5L54 305L50 306.5Z" fill="#e6281f" stroke="rgba(120,110,60,.45)" stroke-width=".25"/><path d="M32.6 334.9L32.6 337.8L33 340L35.7 340.2L37.5 339.8L40.5 339.5L40.3 337.2L39.9 334.2L40 332L37.6 332.4L34.7 332L32.5 332.8Z" fill="#e6281f" stroke="rgba(120,110,60,.45)" stroke-width=".25"/><path d="M41.3 345.1L41.3 347L42.4 349.8L42.1 352.1L42.5 354L44.7 353.9L48.3 353.4L50.5 353.5L50.4 350.8L50.8 348.5L50.7 346.6L50.5 343.8L50 341.5L47.4 341.8L45.6 342L43.3 342.5L41.2 342.7Z" fill="#fdcb12" stroke="rgba(120,110,60,.45)" stroke-width=".25"/><path d="M62.8 264.5L63 266.3L63.8 267L65.6 267.1L66.1 265.7L66.1 264.3L64.2 263.6Z" fill="#fdcb12" stroke="rgba(120,110,60,.45)" stroke-width=".25"/><path d="M48.4 273.9L48.1 275.5L48.2 276.9L49.9 277.5L50.8 276.1L51.3 274.7L49.9 273.5Z" fill="#fdcb12" stroke="rgba(120,110,60,.45)" stroke-width=".25"/><path d="M46.7 302.5L47.5 301.6L47.8 300.3L46.5 299.5L45.4 299.7L44.4 301.1L45.4 302.3Z" fill="#fdcb12" stroke="rgba(120,110,60,.45)" stroke-width=".25"/><path d="M75.9 294.8L74.7 292.9L73 293.3L71.7 294.2L72.2 296.3L73.4 296.7L75.2 296.6Z" fill="#fdcb12" stroke="rgba(120,110,60,.45)" stroke-width=".25"/><path d="M46.2 335.4L47.9 336L48.8 334.6L49.4 333.2L47.9 332L46.6 332.9L45.4 334Z" fill="#fdcb12" stroke="rgba(120,110,60,.45)" stroke-width=".25"/><path d="M34.4 362.9L35.6 361.8L34.9 360.6L33.7 359.9L32.2 360.5L32.3 361.9L33.3 362.9Z" fill="#fdcb12" stroke="rgba(120,110,60,.45)" stroke-width=".25"/><path d="M42.8 360.9L44 360.8L45.4 360.2L45.2 358.7L44 358.3L42.6 358.3L42.2 359.5Z" fill="#fdcb12" stroke="rgba(120,110,60,.45)" stroke-width=".25"/><path d="M41.1 369L41.2 370.3L42.9 371L43.8 369.7L44.4 368.3L42.9 367L41.6 367.9Z" fill="#fdcb12" stroke="rgba(120,110,60,.45)" stroke-width=".25"/><path d="M52.1 387.7L53.6 387.9L54.8 387.7L55.8 386.2L54.6 385.2L53.2 384.9L51.8 385.9Z" fill="#fdcb12" stroke="rgba(120,110,60,.45)" stroke-width=".25"/><path d="M44.8 380.6L43.6 380L42.2 380.6L42.3 382L43.4 383L44.8 383L45.3 381.6Z" fill="#fdcb12" stroke="rgba(120,110,60,.45)" stroke-width=".25"/><path d="M81 354.2L79.2 355.7L79.4 357.2L80.8 358.7L82.6 357.8L83.2 356.6L82.3 354.8Z" fill="#f0831b" stroke="rgba(120,110,60,.45)" stroke-width=".25"/><path d="M90.5 389.6L92.7 389.4L93.1 387.5L91.9 386.1L90 385.5L88.6 386.7L89.1 388.7Z" fill="#f0831b" stroke="rgba(120,110,60,.45)" stroke-width=".25"/><path d="M80.3 385.6L81.5 384.2L81.4 382.9L80.7 381.5L79 382.3L78.6 383.3L78.6 385Z" fill="#f0831b" stroke="rgba(120,110,60,.45)" stroke-width=".25"/><path d="M24.4 319L25.2 320.4L26.5 320.3L27.9 319.7L27.7 318.3L26.6 317.8L25.1 317.8Z" fill="#fdcb12" stroke="rgba(120,110,60,.45)" stroke-width=".25"/><path d="M67.5 255.3L66.5 255.7L65.8 257L66.9 258.1L68 258.3L69.2 257L68.6 255.8Z" fill="#fdcb12" stroke="rgba(120,110,60,.45)" stroke-width=".25"/><path d="M109.2 327.8L110.3 326L108.9 324.6L107.4 324.2L105.8 325.9L106.4 327.4L107.9 328.6Z" fill="#fdcb12" stroke="rgba(120,110,60,.45)" stroke-width=".25"/><path d="M49.6 332.8L48.4 331.3L46.4 332.6L46.1 334.2L46.5 336.3L48.7 335.8L49.8 334.8Z" fill="#fdcb12" stroke="rgba(120,110,60,.45)" stroke-width=".25"/><path d="M38.3 354.8L37.2 353.8L35.9 354.6L35.5 355.5L36.3 356.9L37.4 356.7L38.3 356.1Z" fill="#fdcb12" stroke="rgba(120,110,60,.45)" stroke-width=".25"/><path d="M44.1 357L43.1 357.7L43.3 359L44.1 360L45.5 360L45.8 358.5L45.7 357.3Z" fill="#fdcb12" stroke="rgba(120,110,60,.45)" stroke-width=".25"/><path d="M47.4 361L48.6 361.3L49.3 360.5L48.9 359.4L48.1 358.6L47 358.9L46.9 360.2Z" fill="#fdcb12" stroke="rgba(120,110,60,.45)" stroke-width=".25"/><path d="M42.4 368.2L42.3 369.2L42.6 370.5L44 370.1L44.6 369.4L44.9 368L43.6 367.8Z" fill="#fdcb12" stroke="rgba(120,110,60,.45)" stroke-width=".25"/><use href="#b" fill="none" stroke="rgba(115,100,45,.6)" stroke-width=".33"/><use href="#o" fill="none" stroke="rgba(140,120,40,.7)" stroke-width=".5"/></g>
<g transform="translate(144.3 0)"><use href="#o" fill="#fbf4b9"/><path d="M26.8 262.5L26.8 262.5L26.8 262.5L26.8 262.5L26.8 262.5L24 263L24.1 263.6L26.8 263.1ZM14.2 339L14.2 339L14.3 339.1L14.7 339.9L14.1 339.1L14.1 339.1L11.6 341L10.8 344.3L12.4 348L15.8 350.2L15.7 350.3L15.7 350.3L15.7 350.3L15.7 350.3L15.8 350.3L15.8 350.3L15.8 350.3L16 350.2L16 350.2L16 350.2L16 350.2L16 350.2L16 350.2L16 350.2L16 350.2L16 350.2L16 350.2L16 350.2L16 350.2L16 350.2L16 350.2L15.8 347.7L17.8 346.7L17.8 346.7L17.9 346.7L17.9 346.7L17.9 346.7L17.9 346.7L17.9 346.7L17.9 346.7L18.9 344.7L21.1 344.8L21.8 345.5L22.2 347.4L22.2 347.4L22.6 349.3L22.6 349.3L22.6 349.3L22.6 349.3L22.6 349.3L22.6 349.3L22.6 349.3L22.6 349.3L22.6 349.3L22.6 349.3L24.6 350.2L24.6 350.2L24.6 350.2L24.6 350.2L24.6 350.2L24.6 350.2L24.6 350.2L26.6 349.8L27.9 352.2L27.9 352.2L27.9 352.2L27.9 352.2L27.9 352.2L27.9 352.2L27.9 352.3L28 352.3L28 352.3L28 352.3L28 352.3L30.1 352.5L30.1 352.5L30.1 352.5L30.1 352.5L30.1 352.5L30.1 352.5L30.1 352.5L32 351.7L32.7 353.5L32.7 353.5L32.7 353.6L32.7 353.6L32.7 353.6L34.1 355L31.7 355.4L31.7 355.4L31.7 355.4L31.7 355.4L31.7 355.4L31.7 355.4L29.6 356.9L29.6 356.9L29.6 356.9L29.6 357L29.6 357L29.6 357L29.6 357L29.6 357L29.6 357L29.6 357L29.6 357L29.6 357L29.6 357L29.6 357L30.4 359.3L30.5 361.7L30.5 361.8L30.5 361.8L30.5 361.8L30.5 361.8L30.5 361.8L30.4 361.8L30.4 361.8L30.4 361.8L30.4 361.8L30.4 361.8L30.5 361.8L31.2 364.2L31.5 366.6L30.8 367.1L30.8 367.1L30.8 367.1L30.8 367.1L30.8 367.1L30.8 367.1L30.8 367.1L30.8 367.1L31.7 367.4L36.7 368.7L40 369.9L38.3 373.7L35.8 377.8L34.2 382.8L32.9 388L31 392L30 395L31 399L33 401.3L37.5 401.3L41.7 400.9L45 400.5L45.8 398L47.5 396.8L50 398L54.2 398.4L58.3 398.8L62.5 400.9L65.8 400.5L68.3 402.2L69.5 403.9L69.5 403.9L69.5 403.9L69.5 403.9L69.5 403.9L69.5 403.9L69.5 403.9L69.5 403.9L70 402.5L70 402.5L70 402.5L70 402.5L70 402.5L69.8 400.4L69.8 400.4L69.8 400.4L69.8 400.4L69.8 400.4L69.8 400.4L69.8 400.4L69.8 400.4L69.8 400.4L69.8 400.4L67.5 398.9L67 397.1L68.5 395.4L70.2 393.9L70.2 393.9L70.2 393.9L70.2 393.8L70.2 393.8L70.2 393.8L70.2 393.8L70.2 393.8L70.2 393.8L70.2 393.8L70.2 393.8L70.2 393.8L70.2 393.8L70.2 393.8L70.2 393.8L68.9 391.4L68.9 391.4L68.9 391.4L68.8 391.4L68.8 391.4L68.8 391.3L66.5 389.9L66.4 389.3L69.2 389.3L69.2 389.3L69.2 389.3L69.2 389.3L69.3 389.3L69.3 389.3L69.3 389.3L71.6 387.7L71.6 387.7L71.6 387.7L71.6 387.7L71.6 387.7L73 385.3L73 385.3L73 385.3L73 385.3L73 385.3L73 385.3L73 385.3L73 385.3L73 385.3L73 385.3L73 385.3L73 385.3L73 385.2L73 385.2L73 385.2L73 385.2L73 385.2L73 385.2L71.1 384.2L70.1 382.4L70.7 380.4L70.7 380.4L70.7 380.4L70.7 380.4L70.8 378.3L72.3 376.7L72.3 376.7L72.3 376.7L72.3 376.7L72.3 376.7L72.3 376.7L72.3 376.7L72.3 376.6L72.3 376.6L72.3 376.6L72.3 376.5L73.7 373.9L75.6 371.6L75.6 371.6L75.6 371.6L75.6 371.6L75.6 371.6L75.6 371.6L75.6 371.5L75.6 371.5L75.6 371.5L75.6 371.5L75.6 371.5L75.6 371.5L75.6 371.5L75.6 371.5L75.6 371.5L74.3 370.1L74.3 370.1L74.3 370.1L72.7 369L73.1 367L73.1 366.9L73.3 364.9L73.3 364.9L73.3 364.9L73.3 364.9L73.3 364.9L73.3 364.8L73.3 364.8L73 364.4L73.5 362.1L73.5 362.1L73.5 362.1L73.5 362L73.5 362L73.5 362L73.5 362L73.5 362L73.5 362L73.5 362L73.5 362L73.5 362L73.4 362L73.4 362L73.4 362L73.4 362L73.4 362L71.3 361.5L69.9 359.8L70.3 358L70.3 358L70.3 358L70.3 358L70.3 358L70.3 358L70.3 358L69.7 356.2L69.7 356.2L69.7 356.2L69.7 356.2L69.7 356.2L69.7 356.2L69.7 356.2L69.6 356.2L69.6 356.2L69.6 356.2L69.6 356.2L69.6 356.2L69.6 356.2L69.6 356.2L69.6 356.2L69.6 356.2L69.6 356.2L68 356.5L66.5 356L65.6 353.9L65.6 353.9L65.6 353.9L65.6 353.9L64.1 352.2L64.1 352.2L64.1 352.2L64.1 352.2L64.1 352.2L64.1 352.2L64.1 352.2L64.1 352.2L64.1 352.2L64.1 352.2L64.1 352.2L61.6 352.6L60.1 351.8L59.3 350.3L58.7 348.2L59.3 346.1L59.9 345.4L60.6 345.3L60.6 345.3L60.6 345.3L60.6 345.3L60.6 345.3L60.6 345.3L60.6 345.3L60.6 345.3L60.6 345.3L60.6 345.3L60.6 345.3L61.8 342.8L64.2 341.4L64.2 341.4L64.2 341.4L64.2 341.4L64.2 341.4L64.2 341.4L64.2 341.4L64.2 341.4L64.2 341.4L64.2 341.4L64.2 341.4L64.2 341.4L64.2 341.2L66.2 339.5L66.2 339.5L68 337.6L68 337.6L68 337.6L68 337.6L68 337.5L68 337.5L68 337.5L68 337.5L68 337.5L68 337.5L68 337.5L68 337.5L68 337.5L68 337.5L67.4 336.6L67.4 336.5L67.4 336.5L67.4 336.5L67.4 336.5L65.7 335.3L65 333L64.5 330.7L64.5 330.7L64.5 330.7L64.5 330.7L64.5 330.7L64.5 330.7L64.5 330.6L64.5 330.6L64.5 330.6L64.5 330.6L64.5 329.1L65.2 327.7L67.7 327.5L67.7 327.5L67.7 327.5L67.7 327.5L67.7 327.5L69.9 326.3L69.9 326.3L70 326.3L70 326.3L70 326.3L70 326.3L70.1 326.1L70.1 326.1L70.1 326.1L70.1 326.1L70.1 326.1L70.1 326.1L70.1 326.1L70.1 326L70.1 326L70.1 326L70.1 326L70.1 326L70.1 326L70.1 326L68.6 324.2L68.4 321.8L68.4 321.8L68.4 321.8L68.4 321.8L68.4 321.8L68.4 321.8L68.4 321.8L68.4 321.8L68.4 321.8L68.4 321.8L68.4 321.8L68.4 321.8L68.4 321.8L67.8 321.5L67.4 319.2L67.4 319.2L67 316.9L67 316.9L67 316.9L67 316.9L66.9 316.9L66.9 316.9L66.9 316.9L66.9 316.9L66.9 316.9L66.9 316.9L66.9 316.9L66.9 316.9L65.3 316.4L63.9 314.7L63.2 312.6L63.4 312.2L63.4 312.2L63.4 312.2L63.4 312.2L63.4 312.2L63.4 312.2L63.4 309.4L63.4 309.4L63.4 309.4L63.4 309.4L63.4 309.4L63.4 309.4L63.4 309.4L63.4 309.4L63.4 309.4L63.4 309.3L61.8 308.1L60.4 306.6L60.4 306.6L60.4 306.6L60.4 306.6L60.4 306.6L60.4 306.6L60.4 306.6L60.4 306.6L60.4 306.6L60.4 306.6L60.4 306.6L60.4 306.6L60.4 306.6L58.6 307.2L56.8 306.8L56.1 304.6L56.1 304.6L56.1 304.6L54.9 302.6L55.4 300.4L56.8 299.5L56.8 299.5L56.8 299.5L56.8 299.5L56.8 299.5L57.8 298.1L57.8 298.1L57.8 298.1L57.8 298.1L57.8 298.1L57.8 298.1L57.8 298.1L57.9 296.6L57.9 296.6L57.9 296.5L57.9 296.5L57.5 295L57.5 295L57.5 295L57.5 295L57.5 295L57.5 295L57.5 295L57.5 295L57.5 295L57.5 295L57.5 295L57.5 295L54.1 294.2L51.8 291.6L51.4 290.5L53.3 288.6L53.3 288.6L53.3 288.6L53.3 288.6L53.3 288.6L53.3 288.6L53.3 288.6L54 286L56.6 287.1L56.6 287.1L56.6 287.1L56.6 287.1L56.6 287.1L56.6 287.1L59.6 286.8L61.8 288.6L62.3 289.6L62.3 289.6L62.3 289.6L62.3 289.6L62.3 289.6L62.3 289.6L62.3 289.6L62.3 289.6L64.3 290.5L64.3 290.5L64.3 290.5L64.3 290.5L64.3 290.5L64.3 290.5L64.3 290.5L67.1 290.2L67.1 290.2L67.1 290.2L67.1 290.2L67.1 290.2L67.1 290.2L69.4 288.6L72 289.9L72 289.9L72 289.9L72.1 289.9L72.1 289.9L72.1 289.9L72.1 289.9L72.1 289.9L72.1 289.9L72.1 289.9L72.1 289.9L72.1 289.9L72.1 289.9L72.1 289.9L72.1 289.9L72.1 289.9L72.1 289.9L73.3 287.3L75.3 285.4L75.3 285.4L75.4 285.4L75.4 285.4L75.4 285.4L75.4 285.4L75.4 285.4L75.4 285.4L75.4 285.4L75.4 285.4L75.4 285.4L75.4 285.4L75.4 285.4L75.4 285.4L75.4 285.4L75.4 285.4L73.7 283.1L75.4 281.4L75.4 281.4L77 279.4L77 279.4L77 279.4L77 279.4L77 279.4L77 279.4L77 279.4L77 279.4L77 279.4L76.8 277.7L76.8 277.7L76.8 277.7L76.8 277.7L76.1 276.2L76.1 276.2L76.1 276.1L76.1 276.1L76.1 276.1L76.1 276.1L76.1 276.1L75 275.5L75.7 272.9L75.7 272.9L75.7 272.9L75.7 272.9L75.6 270.2L76.7 269.3L76.7 269.3L76.7 269.3L76.7 269.3L76.7 269.3L76.7 269.3L76.7 269.2L76.7 269.2L76.7 269.2L76.7 269.2L76.7 266.6L76.7 266.6L76.7 266.6L76.7 266.6L76.7 266.6L75.7 264.3L77.5 264.1L77.5 264.1L77.5 264.1L77.5 264.1L77.5 264.1L77.6 264L79 263L79 263L79 263L79 263L79 263L79 263L79.1 263L79.6 261.2L81.4 260.7L81.4 260.7L81.4 260.7L81.4 260.7L81.4 260.7L81.4 260.7L81.4 260.7L81.4 260.6L81.4 260.6L81.4 260.6L81.4 260.6L81.4 260.6L81.4 260.6L81.4 260.6L81.4 260.6L81.4 260.6L81.4 260.6L81.4 260.6L80.5 258.3L80.1 256.8L80 256.8L76.7 256.4L77.1 254.1L78.8 251.2L79.8 249L79.2 248.2L75 249.1L69.2 247.4L65.4 245.3L65.8 242L64.6 239.1L60 237.6L57 236.4L53.3 236.4L47.5 236.6L49.2 240.3L50.4 243.7L48.3 247L47.1 248.7L49.2 250.8L50.8 253.7L51.2 257L50.7 258L50.7 258L50.7 258L50.7 258L50.7 258L52.1 258.3L54.4 259.9L56 262L55.7 263.5L55.7 263.6L55.7 263.6L55.7 263.6L55.7 263.6L56 265.1L54 267L54 267L54 267L54 267L54 267L54 267L54 267.1L54 267.1L54 267.1L54 267.1L54 269.6L54 269.6L54.4 272L54.4 272L54.4 272L54.4 272L54.4 272L55.6 274L52.5 275.3L49.3 276.5L47.1 274.6L45.3 272.3L46.2 269.4L47.5 266.7L47.5 266.7L47.5 266.7L47.5 266.6L47.5 266.6L47.5 266.6L47.5 266.6L47.5 266.6L47.5 266.6L47.5 266.6L47.5 266.6L47.5 266.6L45.9 264.4L45.8 262.3L45.8 262.3L45.8 262.3L45.8 262.3L45.8 262.3L45.8 262.3L45.8 262.3L45.8 262.3L45.8 262.3L45.8 262.3L45.8 262.3L45.8 262.3L44.2 265.5L43.5 269.5L41.3 269L41.2 265.3L39.2 263.2L34.2 263.2L32.7 263.4L32.7 263.4L32.7 263.4L32.7 263.5L32.7 263.5L32.7 263.5L32.7 263.5L32.7 263.5L32.7 263.5L32.7 263.5L32.7 263.5L32.7 263.5L32.7 263.5L32.7 263.5L32.7 263.5L32.7 263.5L35.3 263.8L37.2 265.6L37.1 266.9L35.2 268.7L33.4 270.4L31.5 270.4L29.9 269.6L29.9 269.6L29.9 269.6L29.9 269.6L29.9 269.6L29.9 269.6L29.9 269.6L29.9 269.6L27.5 270.1L27.5 270.1L28.8 274.2L27.9 278.3L26.2 283.3L25 286.7L21.7 287.5L21.2 290L25 291.7L25.8 295L23.3 298.3L21.2 300.4L18.3 303.5L12.8 303.8L10.3 305.8L12 310.8L13.2 315L10.8 319.2L8.2 322.5L9.9 326.5L11.2 330.5L13.7 334.3L14.9 338.5L14.2 339ZM13.9 323L14 323.1L13.8 323ZM95.8 307.9L95.8 307.9L95.8 307.9L95.8 307.9L95.8 307.9L95.7 307.9L95.7 307.8L95.7 307.8L95.7 307.8L94.1 305.9L94.1 305.9L94.1 305.9L94.1 305.9L94.1 305.9L94.1 305.9L94.1 305.9L94.1 305.9L91.4 305.5L91.4 305.5L91.4 305.5L91.4 305.5L91.4 305.5L91.4 305.5L91.4 305.5L91.4 305.5L91.4 305.5L89.3 307.2L87 307.3L86.9 307.3L86.9 307.3L86.9 307.3L86.9 307.3L86.9 307.3L86.9 307.3L86.9 307.3L86.9 307.3L86.9 307.3L86.9 307.3L86 309L85.5 309.2L85.5 309.2L85.5 309.2L85.5 309.2L85.5 309.3L85.5 309.3L85.5 309.3L85.5 309.3L85.5 309.3L84.6 311.7L82.7 313.5L82.7 313.5L82.7 313.5L82.6 313.6L82.6 313.6L82.6 313.6L82.6 313.6L82.6 313.6L82.6 313.6L82.6 313.6L82.6 313.6L82.6 313.6L82.6 313.6L82.6 313.6L82.7 313.6L82.7 313.6L82.7 313.6L82.7 313.6L84.8 315.3L85.9 317.8L85.9 317.8L86 317.8L86 317.8L86 317.8L86 317.8L86 317.8L86 317.8L86 317.8L86 317.8L86 317.8L86 317.8L86 317.8L88.4 317.7L90.8 317.8L91 318.5L89.2 321.4L89.2 321.4L89.2 321.4L89.2 321.4L89.2 321.4L89.2 321.4L89 324.8L89 324.9L89 324.9L89 324.9L89 324.9L89 324.9L89.1 324.9L89.5 325.6L89.5 325.6L89.5 325.6L89.5 325.6L89.5 325.6L89.5 325.6L89.5 325.6L89.5 325.6L89.5 325.6L89.5 325.6L89.5 325.6L89.5 325.6L89.5 325.6L89.5 325.6L92.2 324.9L95 324.6L95 324.6L95 324.6L95 324.6L95 324.6L95 324.6L95 324.6L95 324.6L95.1 324.6L95.1 324.6L95.1 324.6L95.1 324.6L95.1 324.6L95.6 322.8L95.6 322.8L95.6 322.8L95.6 322.8L95.6 322.8L95.6 322.8L95.2 321L97.7 320.5L97.7 320.5L97.7 320.5L97.7 320.5L97.7 320.5L99.8 318.9L99.8 318.9L99.8 318.9L99.8 318.9L99.8 318.9L99.8 318.9L99.8 318.9L100.7 316.4L100.7 316.4L100.7 316.4L100.7 316.4L100.7 316.4L100.7 316.4L100.7 316.4L100.7 316.4L100.7 316.3L100.7 316.3L100.7 316.3L100.7 316.3L100.7 316.3L98.8 314.6L98.8 314.6L98.8 314.6L98.8 314.6L98.8 314.6L98.8 314.6L96.4 314L96.4 314L96.4 314L93.8 313.7L95 310.9L95 310.9L95 310.9L95.8 307.9L95.8 307.9ZM44.8 236L44.4 232.8L43.4 232.9L43.8 236L44.6 239.5L45.6 239.3ZM44 240.1L44.2 242.2L46.6 242.3L46.5 240.1ZM46.8 243.3L46.9 244.8L48.3 244.9L48.4 243.4ZM78.9 244.3L78.8 246.2L80.6 247.3L82.6 245.8L81.8 243.9ZM36.5 262L39.9 261.7L39.8 261.1L36.4 261.4ZM32.6 261.8L32.7 262.4L35.5 262.1L35.4 261.5ZM21 266.2L22.5 265.6L22.2 264.6L20.6 265.2Z" fill="#f8e76e"/><path d="M21.4 289.7L23.4 290.6L24.7 289.9L25.6 288L24.4 286.9L21.7 287.5L21.3 289.6Z" fill="#fbf4b9" stroke="rgba(120,110,60,.45)" stroke-width=".25"/><path d="M105.5 293L103.2 291.6L100.5 293.7L100.6 295.9L102.5 298.2L105.2 297.1L106.3 295.4Z" fill="#f8e76e" stroke="rgba(120,110,60,.45)" stroke-width=".25"/><path d="M90.4 302.8L88.3 303.4L87.5 304.4L87.2 306.5L89.1 306.8L90.5 306.4L91.7 304.5Z" fill="#f8e76e" stroke="rgba(120,110,60,.45)" stroke-width=".25"/><path d="M116 316.1L114 317.3L114.7 319.6L116.5 320L118.8 319.7L119.1 317.6L117.7 316.3Z" fill="#f8e76e" stroke="rgba(120,110,60,.45)" stroke-width=".25"/><path d="M90.9 388.5L88.5 388L87.5 389.4L87.1 391.4L89.3 392.7L90.9 392.2L92.3 389.9Z" fill="#f8e76e" stroke="rgba(120,110,60,.45)" stroke-width=".25"/><path d="M65.7 287.5L67.3 285.6L67 283.6L65.9 281.7L63.6 282.9L63 284.5L63.2 286.9Z" fill="#f8e76e" stroke="rgba(120,110,60,.45)" stroke-width=".25"/><path d="M74.4 295.8L76 295.5L76 293.8L75.5 292.8L73.6 292.5L72.9 293.7L72.6 295.2Z" fill="#f8e76e" stroke="rgba(120,110,60,.45)" stroke-width=".25"/><path d="M101.6 329.8L103.4 330L104.1 328.2L103.3 326.6L102 325.7L100.6 327.1L100.7 328.6Z" fill="#f8e76e" stroke="rgba(120,110,60,.45)" stroke-width=".25"/><path d="M76.8 291L75.6 292.3L75.9 293.7L76.7 295L78.2 294.2L78.6 293.1L78.5 291.4Z" fill="#f8e76e" stroke="rgba(120,110,60,.45)" stroke-width=".25"/><use href="#b" fill="none" stroke="rgba(115,100,45,.6)" stroke-width=".33"/><use href="#o" fill="none" stroke="rgba(140,120,40,.7)" stroke-width=".5"/></g>
<g transform="translate(288.3 0.2)"><use href="#o" fill="#f8e76e"/><path d="M69.1 312.2L69.1 314.5L68 316.3L66.9 316.9L66.9 316.9L66.9 316.9L66.9 316.9L66.9 316.9L66.9 316.9L66.9 316.9L66.9 316.9L66.9 316.9L66.9 316.9L66.9 316.9L66.9 316.9L66.9 316.9L66.9 316.9L67.3 319.3L67.7 321.5L65.9 322.6L63.9 322.9L63.9 322.9L63.9 322.9L63.9 322.9L63.9 322.9L63.9 322.9L63.9 322.9L63.9 322.9L63.9 322.9L63.9 322.9L63.9 322.9L63.9 322.9L63.9 322.9L63.5 324.5L61 324.7L58.6 324.8L58.6 324.8L58.6 324.8L58.6 324.8L58.6 324.8L58.6 324.8L58.6 324.8L58.6 324.8L56.7 326.5L56.7 326.5L56.7 326.5L56.7 326.5L56.7 326.5L56.6 326.6L54.4 327.4L54.4 327.4L54.3 327.5L54.3 327.5L54.3 327.5L54.3 327.5L54.3 327.5L52.9 329.6L52.9 329.6L51.7 331.8L51.7 331.8L51.7 331.9L51.7 331.9L51.7 331.9L51.7 331.9L51.7 331.9L51.7 331.9L51.7 331.9L51.7 331.9L52.8 334.2L52.5 335.9L52.1 337.5L52.1 337.5L52.1 337.5L52.1 337.5L52.1 337.5L52.1 337.6L52.1 337.6L52.1 337.6L52.1 337.6L52.1 337.6L52.1 337.6L52.1 337.6L52.1 337.6L52.1 337.6L52.1 337.6L53.7 338.4L54.5 340L54.5 340L54.5 340L54.5 340L54.5 340L54.5 340L54.5 340L54.5 340L54.5 340L54.5 340L54.6 340L54.6 340L56.2 340L56.2 340L57.8 340L58.2 342.9L58.2 342.9L58.2 342.9L58.2 342.9L58.2 342.9L59.9 345.4L59.9 345.4L59.9 345.4L59.9 345.4L59.9 345.4L59.9 345.4L59.9 345.4L59.9 345.4L59.9 345.4L59.9 345.4L59.9 345.4L59.9 345.4L60.6 345.3L60.6 345.3L60.6 345.3L60.6 345.3L60.6 345.3L60.6 345.3L60.6 345.3L60.6 345.3L60.6 345.3L60.6 345.3L60.6 345.3L61.8 342.8L64.2 341.4L64.2 341.4L64.2 341.4L64.2 341.4L64.2 341.4L64.2 341.4L64.2 341.4L64.2 341.4L64.2 341.4L64.2 341.4L64.2 341.4L64.2 341.4L64.2 341.2L66.2 339.5L66.2 339.5L68 337.6L69.5 338.3L69.5 338.3L69.5 338.3L69.5 338.3L69.5 338.3L69.5 338.3L69.5 338.3L69.5 338.3L69.5 338.3L69.5 338.3L69.5 338.3L69.5 338.3L71.3 337L73 336.9L74.8 337L74.8 337L74.8 337L74.8 337L74.8 337L74.8 337L74.8 337L74.8 337L74.8 337L74.8 337L74.8 337L74.8 337L74.8 337L74.8 337L74.8 337L74.8 337L75 335.4L75.4 333.8L75.6 333.6L75.6 333.6L75.6 333.6L75.6 333.6L75.6 333.6L75.6 333.6L75.6 333.6L75.6 333.6L75.6 333.6L75.6 333.6L75.6 333.6L75.6 333.6L75.6 333.6L75.6 333.6L74.8 331.8L74.2 329.9L75.1 328.6L76 327.4L76 327.4L76 327.4L76 327.4L76 327.4L76 327.4L76 327.4L76 327.3L76 327.3L76 327.3L76 327.3L76 327.3L75 325L75.1 324.9L77.8 323.6L77.8 323.6L77.8 323.6L77.8 323.6L79.9 321.5L79.9 321.5L79.9 321.5L79.9 321.5L79.9 321.5L79.9 321.5L80 321.5L80 321.5L80 321.5L80 321.4L80 321.4L79.9 321.4L79.9 321.4L78.7 318.6L77.9 315.7L78.6 314.9L80.8 314.8L80.8 314.8L80.8 314.8L80.8 314.8L80.8 314.8L80.8 314.8L82.7 313.6L82.7 313.6L82.7 313.6L84.6 311.8L84.6 311.8L84.7 311.8L84.7 311.8L84.7 311.8L84.7 311.8L85.5 309.3L86.1 309.1L86.1 309.1L86.1 309.1L86.1 309.1L86.1 309.1L86.1 309.1L86.1 309L87 307.4L89.3 307.3L89.3 307.3L89.3 307.3L89.3 307.3L89.3 307.3L89.3 307.3L89.3 307.3L91.4 305.6L94 306L95.7 307.9L95.7 307.9L95.7 307.9L95.7 307.9L95.7 307.9L95.7 307.9L95.7 307.9L95.7 307.9L95.7 307.9L95.7 307.9L98.5 307.8L101.3 308.2L103.1 310.1L103.1 310.1L103.1 310.1L103.1 310.1L103.1 310.1L103.1 310.1L103.1 310.1L103.1 310.1L103.1 310.1L105.8 310.1L105.8 310.1L105.8 310.1L108.5 309.6L108.5 309.6L108.5 309.6L108.5 309.6L108.5 309.6L108.5 309.6L108.5 309.6L108.5 309.6L108.5 309.6L108.5 309.5L108.5 309.5L108.5 309.5L108.5 309.5L108.5 309.5L108.5 309.5L108.4 306.5L110.6 304.5L110.6 304.5L110.6 304.5L110.6 304.5L110.6 304.5L110.6 304.5L111.3 302.1L113.4 303L113.4 303.1L113.4 303.1L113.4 303.1L113.5 303.1L113.5 303.1L116 303L118.3 304L118.3 304L118.3 304L118.3 304L118.3 304L118.3 304L118.3 304L118.3 304L118.3 304L118.4 304L118.4 304L118.4 304L118.4 304L118.4 304L118.4 304L118.4 304L119.9 301.1L119.9 301.1L121.3 298.1L124.2 297.9L127.2 298.3L127.2 298.3L127.2 298.3L127.2 298.3L127.2 298.3L127.2 298.3L127.2 298.3L127.2 298.3L127.2 298.3L127.2 298.3L127.2 298.3L128.4 297L128.4 297L128.4 297L128.4 297L129.3 295.5L131.5 294.9L130.8 292L129.6 290.3L129.2 287L126.7 282.8L123.3 279.5L123.8 276.2L125.4 271.2L125 267L123.3 262L122.5 260.3L121.2 256.6L118.3 253.7L115 250.7L111.7 251.4L110.6 248.9L112.5 247.8L114.6 247L112.5 243.7L113.3 242L110.8 241.2L109.2 239.5L106.7 241.2L105.8 245.3L102.5 246.2L98.3 244.9L95 248.7L93.3 251.6L89.2 252.8L85.8 255.3L83.3 256.5L80 256.8L79 256.7L78.1 257.5L75.9 258.5L75.9 258.5L75.9 258.5L75.9 258.5L75.9 258.5L75.9 258.5L75.9 258.6L75.9 258.6L75.9 258.6L75.9 258.6L75.9 258.6L75.8 259.3L74.8 260.4L74.8 260.4L74.8 260.4L74.8 260.4L74.8 260.4L74.8 260.4L74.8 260.4L74.8 260.4L74.8 260.4L74.8 260.4L74.8 260.4L75.2 262.3L75.3 264.2L75.3 264.2L75.3 264.2L75.3 264.2L75.3 264.2L75.3 264.2L75.4 264.2L75.4 264.2L75.4 264.2L75.4 264.2L75.4 264.2L75.4 264.2L75.6 264.3L76.6 266.7L76.6 269.2L76.6 269.2L76.6 269.2L76.6 269.2L76.6 269.3L76.6 269.3L76.6 269.3L76.6 269.3L76.6 269.3L76.6 269.3L76.6 269.3L76.7 269.3L76.7 269.3L76.7 269.3L76.7 269.3L76.7 269.3L76.7 269.3L76.7 269.3L78.2 269.2L79.5 270.8L79.6 270.8L79.6 270.8L79.6 270.8L81.4 271.9L81.4 272L81.4 272L81.4 272L81.4 272L81.4 272L81.4 272L81.4 272L81.4 272L81.4 272L81.4 272L81.4 272.1L82.7 273.3L83.6 274.9L83.6 274.9L83.6 274.9L83.6 274.9L83.6 274.9L83.6 274.9L83.6 274.9L83.6 274.9L83.6 274.9L83.6 274.9L83.7 274.9L83.7 274.9L83.7 274.9L83.7 274.9L85.3 274.5L86.8 274.9L86.9 276.1L85.9 277.9L84.8 279.5L84.2 279.8L83 279.2L83 279.2L83 279.2L83 279.2L83 279.2L83 279.2L83 279.2L83 279.2L83 279.2L83 279.2L83 279.2L81.4 280.1L79.8 280.8L78.6 280.7L78.6 280.7L78.6 280.7L78.6 280.7L78.6 280.7L78.6 280.7L78.6 280.7L78.6 280.7L78.6 280.7L78.6 280.7L78.6 280.7L78.6 280.7L78.6 280.7L77.4 283.2L77.4 283.2L77.4 283.2L77.4 283.2L77.4 283.2L77.4 283.2L77.4 283.2L77.8 285.9L77.1 287.3L77.1 287.3L77.1 287.3L77.1 287.3L77.1 287.4L77.1 287.4L77.1 287.4L77.4 289L77.4 289L77.4 289L77.4 289L77.4 289L77.4 289L77.4 289L78.9 290.7L77.9 292.4L77.9 292.4L77.9 292.4L77.9 292.4L77.9 292.4L77.9 292.4L77.9 292.4L77.9 292.4L77.9 292.4L78.7 294.9L78.7 294.9L78.7 294.9L78.7 294.9L78.7 294.9L78.8 294.9L78.8 295L78.8 295L78.8 295L78.8 295L80.4 295.6L79.8 297.9L78.9 300.1L77.8 300.1L77.8 300.1L77.8 300.1L77.8 300.1L77.8 300.1L77.8 300.1L77.7 300.1L77.7 300.1L77.7 300.1L77.7 300.1L77.7 300.1L77.7 300.1L76.5 302.1L74.8 303.7L74.7 303.7L74.7 303.7L74.7 303.7L74.7 303.7L74.7 303.7L74.7 303.7L74.7 303.7L74.7 303.7L74.7 303.7L74.6 303.7L73.2 305.6L73.2 305.6L71.8 307.5L71.8 307.5L71.8 307.5L71.8 307.5L71.8 307.5L69.9 308.8L69.9 308.8L69.9 308.8L69.9 308.8L69.9 308.8L69.9 308.8L69.9 308.8L69.2 311L69.2 311L69.2 311L69.2 311L69.1 312.2L69.1 312.2L69.1 312.2L69.1 312.2L69.1 312.2L69.1 312.2L69.1 312.2ZM40.7 325.3L40.7 325.3L40.7 325.3L40.7 325.3L40.7 325.3L40.7 325.3L40.7 325.3L40.7 325.3L40.7 325.4L40.7 325.4L40.7 325.4L41 327.5L40.8 329.6L40.8 329.6L40.8 329.6L40.8 329.6L40.8 329.6L40.8 329.6L40.8 329.6L40.8 329.6L40.8 329.6L40.8 329.7L40.8 329.7L40.8 329.7L42.2 330.6L41.6 333.1L41.6 333.1L41.6 333.1L41.6 333.1L41.6 333.1L41.6 333.1L41.6 333.1L42.6 335.6L42.6 335.6L42.6 335.6L42.6 335.6L42.6 335.6L42.6 335.6L42.6 335.6L42.6 335.6L42.6 335.6L45.2 336.7L45.2 336.7L45.2 336.7L45.2 336.7L45.2 336.7L45.2 336.7L45.2 336.7L45.2 336.7L45.2 336.7L45.2 336.7L45.2 336.7L45.2 336.7L47.7 334.5L47.7 334.5L47.7 334.5L47.7 334.5L47.7 334.5L47.7 334.5L47.7 334.5L48.5 331.3L48.5 331.3L48.5 331.3L48.5 331.3L48.5 331.3L48.5 331.3L48.5 331.3L48.5 331.3L48.5 331.3L48.5 331.3L48.5 331.3L46.7 329.3L46.8 328L46.8 327.9L46.8 327.9L46.8 327.9L46.8 327.9L46.8 327.9L46.8 327.9L45.7 326L45.7 326L44.3 324.2L44.3 324.1L44.3 324.1L44.3 324.1L44.3 324.1L44.3 324.1L44.3 324.1L44.3 324.1L44.3 324.1L44.3 324.1L44.3 324.1L44.3 324.1L44.3 324.1L44.2 324.1L44.2 324.1L42.6 325L40.7 325.3L40.7 325.3L40.7 325.3L40.7 325.3L40.7 325.3L40.7 325.3ZM30.4 346.8L30.4 346.8L30.4 346.8L30.4 346.8L30.4 346.8L30.4 346.8L28.4 346.9L28.4 346.9L28.3 346.9L28.3 346.9L28.3 346.9L28.3 346.9L28.3 346.9L28.3 346.9L27.1 348.1L27.1 348.1L27.1 348.1L27.1 348.1L27.1 348.1L27.1 348.1L27.1 348.1L26.6 349.7L26.6 349.7L26.6 349.7L26.6 349.7L26.6 349.7L26.6 349.7L26.6 349.7L26.6 349.7L26.6 349.7L27.9 352.2L27.7 353.8L27 355.3L27 355.3L27 355.3L27 355.3L27 355.3L27 355.3L27 355.3L27 355.4L27 355.4L27 355.4L27 355.4L27 355.4L27 355.4L27 355.4L28.2 356.5L28.2 356.5L28.2 356.5L28.2 356.5L28.2 356.5L29.6 357L30.4 359.3L30.5 361.7L30.5 361.7L30.5 361.7L30.5 361.7L30.5 361.7L30.5 361.7L30.5 361.7L30.5 361.7L30.5 361.7L30.5 361.7L30.6 361.7L30.6 361.7L30.6 361.7L30.6 361.7L30.6 361.8L30.6 361.8L30.6 361.8L30.6 361.8L30.6 361.7L30.6 361.7L32.7 361L34.8 360.8L37.1 362.5L37.1 362.5L37.2 362.5L37.2 362.5L37.2 362.5L37.2 362.5L37.2 362.5L37.2 362.5L37.2 362.5L39.4 362.3L41.5 363.6L41.5 363.6L41.5 363.6L41.5 363.6L41.5 363.6L41.5 363.6L41.5 363.6L41.5 363.6L41.5 363.6L43.6 363.2L43.6 363.2L43.6 363.2L43.6 363.2L45.5 362.3L45.5 362.3L45.5 362.3L45.5 362.3L45.5 362.3L45.5 362.2L45.5 362.2L45.6 362.2L45.6 362.2L45.6 362.2L45.6 362.2L45.6 362.2L45.6 362.2L45.6 362.2L45.6 362.2L45.6 362.2L44.9 360.1L45.6 357.9L45.7 357.8L45.7 357.8L45.7 357.8L45.7 357.8L45.7 357.8L45.7 357.8L45.7 357.8L45.7 357.7L45.7 357.7L45.7 357.7L45.4 355.6L45.3 353.4L45.3 353.4L45.3 353.4L45.3 353.4L45.3 353.3L45.3 353.3L45.3 353.3L45.3 353.3L45.3 353.3L45.3 353.3L45.3 353.3L45.3 353.3L45.3 353.3L45.3 353.3L45.2 353.3L43.5 353.1L42.2 352L41.8 350.6L41.8 350.6L41.8 350.6L41.8 350.6L41.8 350.6L41.8 350.6L41.8 350.6L41.8 350.6L41.7 350.6L39.5 349.4L39.5 349.4L39.5 349.4L39.5 349.4L39.5 349.4L39.5 349.4L39.4 349.4L39.4 349.4L37.6 349.8L35.5 348.6L35.5 348.6L35.5 348.6L35.5 348.6L35.5 348.6L35.5 348.6L35.4 348.6L35.4 348.6L35.4 348.6L35.4 348.6L32.8 349.6L31.2 348.6L30.4 346.8L30.4 346.8L30.4 346.8L30.4 346.8L30.4 346.8L30.4 346.8L30.4 346.8ZM97.5 332.5L97.5 332.5L97.5 332.5L97.5 332.5L97.5 332.5L97.5 332.5L97.5 332.5L97.5 332.5L97.5 332.5L97.5 332.5L97.5 332.5L96.3 334.2L94.6 335.4L94.6 335.4L94.6 335.4L94.6 335.4L94.6 335.4L94.6 335.4L94.6 335.4L94.6 335.4L94.6 335.4L94.6 335.4L94.6 335.4L94.6 335.4L94.6 335.4L95 338.2L93 338.7L93 338.7L93 338.7L91.2 339.6L89.6 339L88.4 337.8L88.4 337.8L88.4 337.8L88.4 337.8L88.4 337.8L88.4 337.8L88.4 337.8L88.4 337.8L88.4 337.8L88.4 337.8L88.4 337.8L88.4 337.8L88.4 337.8L88.4 337.8L88.4 337.8L88.4 337.8L88.4 337.8L88.4 337.8L88.4 337.8L87.3 339.5L87.3 339.5L86.4 341.2L86.4 341.2L86.4 341.2L86.4 341.2L86.4 341.2L86.4 341.2L86.4 341.3L86.4 341.3L86.4 341.3L86.4 341.3L86.4 341.3L86.4 341.3L86.4 341.3L86.4 341.3L86.4 341.3L86.4 341.3L86.4 341.3L87.9 342.1L87.9 342.1L89.5 342.8L89.5 342.8L89.5 342.8L89.5 342.8L89.5 342.8L89.5 342.8L89.5 342.8L89.5 342.8L89.5 342.8L89.5 342.8L89.5 342.8L91.1 341.9L92.8 342.8L92.8 342.8L92.8 342.8L92.8 342.8L92.9 342.8L92.9 342.8L92.9 342.8L92.9 342.8L92.9 342.8L92.9 342.8L94.8 342L94.8 342L94.8 342L94.8 342L94.8 342L94.8 342L94.8 342L94.8 342L95.8 340L97.3 342.1L97.3 342.1L97.3 342.1L97.3 342.1L97.3 342.1L97.4 342.1L97.4 342.1L99.8 342.9L99.8 342.9L99.8 342.9L99.8 342.9L100.9 343L100.9 343L100.9 343L100.9 343L100.5 341L101.3 339.7L104.7 336.8L107.5 336.1L107.5 336.1L107.5 336L107.5 336L107.5 336L107.5 336L107.5 336L107.5 336L107.4 336L107.4 336L103.1 333.7L103.1 333.7L103.1 333.7L103.1 333.7L103.1 333.7L103.1 333.7L103.1 333.7L103.1 333.7L103.1 333.7L102.4 333.9L99.9 333.4L97.6 332.5L97.5 332.5L97.5 332.5L97.5 332.5ZM106.9 358.7L104.7 358.5L104.7 358.5L104.7 358.5L104.7 358.5L104.7 358.5L104.6 358.5L104.6 358.5L104.6 358.5L104.6 358.5L104.6 358.5L103.2 360L103.2 360L101.9 361.6L101.8 361.6L101.8 361.6L101.8 361.6L101.8 361.6L101.8 361.7L101.8 361.7L101.8 361.7L101.8 361.7L101.8 361.7L101.8 361.7L102.5 363.7L102.5 363.7L102.5 363.7L102.5 363.7L102.5 363.8L102.5 363.8L102.5 363.8L102.5 363.8L104.2 365L104.2 365L104.2 365L104.2 365L104.9 365.2L105.6 367.7L105.5 370.2L105.5 370.2L105.5 370.2L105.5 370.2L105.5 370.2L105.5 370.3L105.5 370.3L105.5 370.3L105.5 370.3L105.5 370.3L105.6 370.3L105.6 370.3L105.6 370.3L105.6 370.3L105.6 370.3L105.6 370.3L107.9 370.6L107.9 370.6L107.9 370.6L107.9 370.6L110.2 370.2L110.2 370.2L110.2 370.2L110.2 370.2L110.2 370.2L110.2 370.2L110.2 370.2L110.3 370.2L110.3 370.2L112.6 370L112.6 370L112.6 370L114.8 369.2L115.1 371.7L115.1 371.7L115.1 371.7L115.1 371.7L115.1 371.7L115.1 371.7L116.6 373.7L116.6 373.7L116.6 373.7L116.6 373.7L116.6 373.8L116.7 373.8L116.7 373.8L116.7 373.8L116.7 373.8L116.7 373.8L118 373.7L118 373.7L118 373.7L118 373.7L118 373.7L118 373.7L118 373.7L118 373.7L118 373.7L118 373.7L118 373.7L118 373.7L118 373.7L118 373.7L118 373.7L118 373.7L118.3 367.5L115 365.2L110.8 361.4L107 358.7Z" fill="#fdcb12"/><path d="M101.4 308.1L101.4 308.1L101.4 308.1L101.4 308.1L101.4 308.1L101.4 308.1L101.4 308.1L98.6 307.7L98.6 307.7L98.5 307.7L95.7 307.8L94.1 305.9L94.1 305.9L94.1 305.9L94.1 305.9L94.1 305.9L94.1 305.9L94.1 305.9L94.1 305.9L91.4 305.5L91.4 305.5L91.4 305.5L91.4 305.5L91.4 305.5L91.4 305.5L91.4 305.5L91.4 305.5L91.4 305.5L89.3 307.2L87 307.3L86.9 307.3L86.9 307.3L86.9 307.3L86.9 307.3L86.9 307.3L86.9 307.3L86.9 307.3L86.9 307.3L86.9 307.3L86.9 307.3L86 309L85.5 309.2L85.5 309.2L85.5 309.2L85.5 309.2L85.5 309.3L85.5 309.3L85.5 309.3L85.5 309.3L85.5 309.3L84.6 311.7L82.7 313.5L80.8 314.7L78.5 314.8L78.5 314.8L78.5 314.8L78.5 314.8L78.5 314.8L78.5 314.8L78.5 314.8L78.5 314.8L78.5 314.8L78.5 314.8L77.8 315.6L77.8 315.6L77.8 315.7L77.8 315.7L77.8 315.7L77.8 315.7L77.8 315.7L77.8 315.7L77.8 315.7L77.8 315.7L77.8 315.7L78.6 318.7L78.6 318.7L78.6 318.7L79.8 321.4L77.7 323.5L75 324.8L75 324.8L75 324.8L75 324.8L75 324.8L75 324.8L75 324.8L75 324.8L75 324.8L75 324.8L74.9 325L74.9 325L74.9 325L74.9 325L74.9 325.1L74.9 325.1L74.9 325.1L74.9 325.1L75.9 327.3L75 328.6L75 328.6L74.1 329.9L74.1 329.9L74.1 329.9L74.1 329.9L74.1 329.9L74.1 329.9L74.1 329.9L74.1 329.9L74.1 329.9L74.1 329.9L74.7 331.8L74.7 331.8L75.5 333.6L75.3 333.8L75.3 333.8L75.3 333.8L75.3 333.8L75.3 333.8L75.3 333.8L75.3 333.8L74.9 335.4L74.9 335.4L74.7 337L74.7 337L74.7 337L74.7 337L74.7 337L74.7 337L74.7 337L74.7 337L74.7 337L76.4 339.1L76.4 339.1L76.4 339.1L76.4 339.1L76.4 339.1L76.4 339.1L76.4 339.1L76.4 339.1L76.4 339.1L76.4 339.1L76.4 339.1L76.5 339.1L76.5 339.1L76.5 339.1L76.5 339.1L77.2 338.8L79.5 339.4L79.5 339.4L79.5 339.4L81.9 339.6L81.9 339.6L81.9 339.6L81.9 339.6L81.9 339.6L81.9 339.6L81.9 339.6L81.9 339.6L82.3 339.3L84.1 340.8L84.1 340.8L84.1 340.8L84.1 340.8L84.1 340.8L84.1 340.8L86.4 341.3L86.4 341.3L86.4 341.3L86.4 341.3L86.4 341.3L86.4 341.3L86.5 341.3L86.5 341.3L86.5 341.3L86.5 341.3L86.5 341.3L86.5 341.3L86.5 341.3L86.5 341.3L87.4 339.5L88.4 337.9L89.6 339.1L89.6 339.1L89.6 339.1L89.6 339.1L89.6 339.1L91.2 339.7L91.2 339.7L91.2 339.7L91.2 339.7L91.2 339.7L91.2 339.7L91.3 339.7L91.3 339.7L91.3 339.7L91.3 339.7L93.1 338.8L95 338.3L95.1 338.3L95.1 338.3L95.1 338.2L95.1 338.2L95.1 338.2L95.1 338.2L95.1 338.2L95.1 338.2L95.1 338.2L95.1 338.2L95.1 338.2L95.1 338.2L95.1 338.2L95.1 338.2L95.1 338.2L94.7 335.5L96.4 334.3L96.4 334.3L96.4 334.3L96.4 334.3L96.4 334.3L97.6 332.6L99.9 333.5L99.9 333.5L99.9 333.5L102.4 334L102.4 334L102.4 334L102.4 334L102.4 334L103.1 333.8L107.3 336.1L109.7 335.5L113 333L116.3 330.5L119.7 328L123.8 326.3L127.2 324.2L128.6 321.8L130.8 320.5L132.4 322.4L134.7 324.2L136.7 320.3L137.5 314.5L135.8 309.9L132.5 307L131.2 302L132.1 297L131.5 294.8L131.5 294.8L129.2 295.4L129.2 295.4L129.2 295.4L129.2 295.4L129.2 295.4L129.2 295.4L129.2 295.4L129.2 295.4L129.2 295.4L128.4 297L127.2 298.2L124.2 297.8L124.2 297.8L124.2 297.8L121.2 298L121.2 298L121.2 298L121.2 298L121.2 298L121.2 298L121.2 298L121.2 298L121.2 298L121.2 298L121.2 298L121.2 298L119.8 301L118.3 303.9L116 302.9L116 302.9L116 302.9L116 302.9L116 302.9L116 302.9L113.5 303L111.3 302L111.3 302L111.3 302L111.3 302L111.3 302L111.3 302L111.3 302L111.3 302L111.3 302L111.3 302L111.3 302L111.3 302L111.3 302L111.3 302L111.3 302L111.3 302L111.3 302L111.3 302L110.5 304.4L108.4 306.5L108.4 306.5L108.4 306.5L108.4 306.5L108.4 306.5L108.4 306.5L108.3 306.5L108.3 306.5L108.3 306.5L108.4 309.5L105.8 310L103.2 310L101.4 308.1Z" fill="#f0831b"/><path d="M110.4 286.1L109.4 288.2L110.9 291.2L113.4 291L115.6 289.9L115.2 286.8L113.7 285.7Z" fill="#f8e76e" stroke="rgba(120,110,60,.45)" stroke-width=".25"/><path d="M89.6 323.1L89.1 325.4L89.4 327.2L92.2 328.1L93.6 326.7L94.5 324.2L92 322.4Z" fill="#fdcb12" stroke="rgba(120,110,60,.45)" stroke-width=".25"/><path d="M107.6 327.2L109 327.2L110.6 326.8L110.6 325.2L109.5 324.5L107.9 324.3L107.2 325.5Z" fill="#fdcb12" stroke="rgba(120,110,60,.45)" stroke-width=".25"/><path d="M121.7 318.8L120.8 317.3L119.1 318.2L118.6 319.4L118.7 321.3L120.5 321.1L121.6 320.5Z" fill="#fdcb12" stroke="rgba(120,110,60,.45)" stroke-width=".25"/><path d="M97.6 316.2L98.1 317.7L99.8 317.1L100.4 316.1L100.5 314.5L98.9 314.4L97.8 314.7Z" fill="#fdcb12" stroke="rgba(120,110,60,.45)" stroke-width=".25"/><path d="M21.7 310.6L20.8 311.6L21.5 313.5L22.7 313.6L24.2 313.2L24.3 311.5L23.7 310.6Z" fill="#fdcb12" stroke="rgba(120,110,60,.45)" stroke-width=".25"/><path d="M56.2 364.2L55.1 363L52.4 362.8L51.6 364.9L51.5 367L54.3 368.2L56 367.2Z" fill="#fdcb12" stroke="rgba(120,110,60,.45)" stroke-width=".25"/><path d="M48.1 373.9L45.7 373L43.2 375.5L43.9 377.8L46.1 379.7L48.8 378L49.4 376Z" fill="#fdcb12" stroke="rgba(120,110,60,.45)" stroke-width=".25"/><path d="M53.3 387.1L53.9 385.2L53.9 383.6L51.6 382.6L50.2 383.6L49.3 385.8L51.3 387.4Z" fill="#fdcb12" stroke="rgba(120,110,60,.45)" stroke-width=".25"/><path d="M61.2 376.1L61.2 378.4L63.5 378.3L64.9 377.5L65.9 375.3L63.9 374.4L62.1 374.3Z" fill="#fdcb12" stroke="rgba(120,110,60,.45)" stroke-width=".25"/><path d="M24.7 311.7L23 310.6L21.6 310.9L20.4 312.7L21.6 314.2L23.2 314.7L24.8 313.1Z" fill="#fdcb12" stroke="rgba(120,110,60,.45)" stroke-width=".25"/><use href="#b" fill="none" stroke="rgba(115,100,45,.6)" stroke-width=".33"/><use href="#o" fill="none" stroke="rgba(140,120,40,.7)" stroke-width=".5"/></g>
<g transform="translate(434.5 0)"><use href="#o" fill="#f8e76e"/><path d="M40.7 325.3L40.7 325.3L40.7 325.3L40.7 325.3L40.7 325.3L40.7 325.3L40.7 325.4L40.7 325.4L40.7 325.4L41 327.5L40.8 329.6L40.8 329.6L40.8 329.6L40.8 329.6L40.8 329.6L40.8 329.6L40.8 329.6L40.8 329.6L40.8 329.6L40.8 329.7L40.8 329.7L40.8 329.7L42.2 330.6L41.6 333.1L41.6 333.1L41.6 333.1L41.6 333.1L41.6 333.1L41.6 333.1L41.6 333.1L42.6 335.5L40.4 336.3L40.3 336.3L40.3 336.3L40.3 336.3L40.3 336.3L40.3 336.4L40.3 336.4L39.3 337.8L39.3 337.8L39.3 337.8L39.3 337.8L39.3 337.8L39.3 337.8L39.3 337.8L39.2 339.6L39.2 339.6L39.2 339.6L39.2 339.6L39.2 339.6L39.2 339.6L39.2 339.6L39.2 339.6L39.2 339.6L39.2 339.6L41.2 341.3L42.8 343.3L41.3 343.9L41.3 343.9L41.3 343.9L41.3 343.9L39.9 345L39.9 345L39.9 345L39.9 345.1L39.9 345.1L39.9 345.1L39.9 345.1L39.9 345.1L39.9 345.1L39.9 345.1L39.9 347.3L39.4 349.4L37.6 349.8L35.5 348.6L35.5 348.6L35.5 348.6L35.5 348.6L35.5 348.6L35.5 348.6L35.4 348.6L35.4 348.6L35.4 348.6L35.4 348.6L32.7 349.6L32.7 349.6L32.7 349.6L32.7 349.6L32.7 349.6L32.7 349.6L32.7 349.6L32.7 349.6L32.7 349.6L32.7 349.6L32 351.6L30.1 352.4L28 352.2L28 352.2L28 352.2L28 352.2L28 352.2L28 352.2L28 352.2L27.9 352.2L27.9 352.2L27.9 352.2L27.9 352.2L27.9 352.2L27.9 352.2L27.9 352.2L27.9 352.2L27.9 352.2L27.9 352.2L27.7 353.8L27 355.3L24.4 356.4L24.4 356.4L24.4 356.4L24.4 356.4L24.4 356.4L24.4 356.4L24.4 356.5L24.3 356.5L24.3 356.6L24.3 356.6L24.3 356.6L24.3 356.6L24.3 356.6L24.3 356.6L24.3 356.6L24.3 356.6L24.3 356.6L25.4 359.5L25.3 362.6L24.8 363.2L24.8 363.2L24.8 363.2L24.7 363.2L24.7 363.2L24.7 363.2L24.7 363.3L24.7 363.3L24.7 363.3L24.7 363.3L24.7 363.3L24.7 363.3L25.8 366L27.5 366.2L31.7 367.4L36.7 368.7L40 369.9L38.3 373.7L35.8 377.8L34.2 382.8L32.9 388L31 392L30 395L31 399L33 401.3L37.5 401.3L38.4 401.2L38.5 395.2L39.1 394.4L39.1 394.4L39.1 394.4L39.1 394.4L39.1 394.4L39.1 394.4L39.1 394.4L39.1 394.4L39.1 394.3L39.1 394.3L39.1 394.3L38.1 391.2L38.1 391.2L36.8 388.2L39.6 387.9L39.6 387.9L39.6 387.9L42.4 387.1L42.4 387.1L42.4 387.1L42.4 387.1L42.4 387.1L42.4 387.1L42.4 387.1L42.4 387.1L43.1 386.1L45.2 385.8L47.2 386.3L47.2 386.3L47.2 386.3L47.3 386.3L47.3 386.3L47.3 386.3L47.3 386.3L47.3 386.3L47.3 386.3L47.3 386.3L47.3 386.3L47.3 386.3L47.3 386.3L47.3 386.3L47.3 386.3L48.3 384.4L49.6 382.9L51.5 385.3L51.6 385.3L51.6 385.3L51.6 385.3L51.6 385.3L51.6 385.3L51.6 385.4L54.5 386.4L53.4 388.3L51.5 389.5L51.5 389.5L51.5 389.5L51.5 389.5L51.5 389.5L51.5 389.5L51.5 389.5L51.5 389.5L51.5 389.5L51.5 389.5L51.5 389.6L51.5 389.6L51.8 392L51.8 392L51.8 392L51.8 392L51.8 392L53 394.1L51.2 395.3L51.2 395.3L51.2 395.3L51.2 395.4L51.2 395.4L51.2 395.4L49.9 397.9L49.9 397.9L50 398L54.2 398.4L58.3 398.8L62.5 400.9L65.8 400.5L68.3 402.2L70 404.7L71.7 407.2L74.2 404.7L76.7 402.2L81.7 403L84.2 404.3L88.3 403.5L92.5 401.4L96.7 400.2L100.8 398.1L105 398.5L108.3 397.2L110.8 398.1L112.1 400.6L113.8 401L114.2 398.1L112.9 396L111.2 391.8L109.2 388.5L111.7 386L115.8 383.5L118.3 381L118.8 379.3L120 376.8L122.9 377.7L123.3 376.5L124.2 374.3L123.3 371L119.2 368.1L115 365.2L110.8 361.4L106.7 358.5L104.6 354.3L103.3 350.2L102.5 346L100.9 343L100.5 341L101.3 339.7L104.7 336.8L109.7 335.5L113 333L116.3 330.5L119.7 328L123.8 326.3L127.2 324.2L128.6 321.8L130.8 320.5L132.4 322.4L134.7 324.2L136.7 320.3L137.5 314.5L135.8 309.9L132.5 307L131.2 302L132.1 297L130.8 292L129.6 290.3L129.2 287L126.7 282.8L123.3 279.5L123.8 276.2L125.4 271.2L125 267L123.3 262L122.5 260.3L121.2 256.6L118.3 253.7L115 250.7L111.7 251.4L110.6 248.9L112.5 247.8L114.6 247L112.5 243.7L113.3 242L110.8 241.2L109.2 239.5L106.7 241.2L105.8 245.3L102.5 246.2L98.3 244.9L95 248.7L93.3 251.6L89.2 252.8L85.8 255.3L83.3 256.5L80 256.8L79 256.7L78.1 257.5L75.9 258.5L75.9 258.5L75.9 258.5L75.9 258.5L75.9 258.5L75.9 258.5L75.9 258.6L75.9 258.6L75.9 258.6L75.9 258.6L75.9 258.6L75.8 259.3L74.8 260.4L74.8 260.4L74.8 260.4L74.8 260.4L74.8 260.4L74.8 260.4L74.8 260.4L74.8 260.4L74.8 260.4L74.8 260.4L74.8 260.4L75.2 262.3L75.3 264.2L75.3 264.2L75.3 264.2L75.3 264.2L75.3 264.2L75.3 264.2L75.4 264.2L75.4 264.2L75.4 264.2L75.4 264.2L75.4 264.2L75.4 264.2L75.6 264.3L76.6 266.7L76.6 269.2L76.6 269.2L76.6 269.2L76.6 269.2L76.6 269.3L76.6 269.3L76.6 269.3L76.6 269.3L76.6 269.3L76.6 269.3L76.6 269.3L76.7 269.3L76.7 269.3L76.7 269.3L76.7 269.3L76.7 269.3L76.7 269.3L76.7 269.3L78.2 269.2L79.5 270.8L79.6 270.8L79.6 270.8L79.6 270.8L81.4 271.9L81.4 272L81.4 272L81.4 272L81.4 272L81.4 272L81.4 272L81.4 272L81.4 272L81.4 272L81.4 272L81.4 272.1L82.7 273.3L83.6 274.9L83.6 274.9L83.6 274.9L83.6 274.9L83.6 274.9L83.6 274.9L83.6 274.9L83.6 274.9L83.6 274.9L83.6 274.9L83.7 274.9L83.7 274.9L83.7 274.9L83.7 274.9L85.3 274.5L86.8 274.9L86.9 276.1L85.9 277.9L84.8 279.5L84.2 279.8L83 279.2L83 279.2L83 279.2L83 279.2L83 279.2L83 279.2L83 279.2L83 279.2L83 279.2L83 279.2L83 279.2L81.4 280.1L79.8 280.8L78.6 280.7L78.6 280.7L78.6 280.7L78.6 280.7L78.6 280.7L78.6 280.7L78.6 280.7L78.6 280.7L78.6 280.7L78.6 280.7L78.6 280.7L78.6 280.7L78.6 280.7L77.4 283.2L77.4 283.2L77.4 283.2L77.4 283.2L77.4 283.2L77.4 283.2L77.4 283.2L77.8 285.9L77.1 287.3L77.1 287.3L77.1 287.3L77.1 287.3L77.1 287.4L77.1 287.4L77.1 287.4L77.4 289L77.4 289L77.4 289L77.4 289L77.4 289L77.4 289L77.4 289L78.9 290.7L77.9 292.4L77.9 292.4L77.9 292.4L77.9 292.4L77.9 292.4L77.9 292.4L77.9 292.4L77.9 292.4L77.9 292.4L78.7 294.9L78.7 294.9L78.7 294.9L78.7 294.9L78.7 294.9L78.8 294.9L78.8 295L78.8 295L78.8 295L78.8 295L80.4 295.6L79.8 297.9L78.9 300.1L77.8 300.1L76.2 298.5L76.2 298.5L74.6 297L74.6 297L74.6 297L74.6 297L74.6 297L74.6 297L74.6 297L74.5 297L74.5 297L74.5 297L74.5 297L74.5 297L74.5 297L74.5 297L74.5 297L74.5 297L74.5 297L74.5 297L74.5 297L74.5 297L74.5 297L74.5 297L74.5 297L74 299.6L72.8 302L70.6 302.1L68.5 301.5L68.5 301.5L68.5 301.5L68.5 301.5L68.5 301.5L68.5 301.5L68.5 301.5L68.5 301.5L68.5 301.5L68.5 301.5L68.5 301.5L68.5 301.5L68.4 301.5L68.4 301.5L68.4 301.5L68.4 301.5L67.5 303.5L67.5 303.5L67.5 303.5L67.5 303.5L67.5 303.5L67.5 303.5L67.5 303.5L67.5 303.5L67.8 305L66.8 306.3L66.8 306.3L66.8 306.3L66.8 306.3L66.1 307.8L66.1 307.8L66.1 307.8L66.1 307.8L66.1 307.8L66.1 307.8L66.1 307.8L66.1 307.8L66.1 307.9L66.1 307.9L66.1 307.9L66.1 307.9L66.1 307.9L66.1 307.9L67.9 309.2L69.2 311L69.1 312.2L69.1 312.2L69.1 312.2L69.1 312.2L69.1 312.2L69.1 312.2L69.1 312.2L69.1 312.2L69.1 314.5L68 316.3L66.9 316.9L66.9 316.9L66.9 316.9L66.9 316.9L66.9 316.9L66.9 316.9L66.9 316.9L66.9 316.9L66.9 316.9L66.9 316.9L66.9 316.9L66.9 316.9L66.9 316.9L66.9 316.9L67.3 319.3L67.7 321.6L67.7 321.6L67.7 321.6L67.7 321.6L67.7 321.6L67.7 321.6L67.7 321.6L67.7 321.6L67.7 321.6L67.7 321.6L67.7 321.6L68.3 321.8L68.5 324.2L68.5 324.2L68.5 324.2L68.5 324.2L68.5 324.2L68.5 324.2L68.5 324.2L70 326.1L69.9 326.2L67.7 327.4L65.1 327.6L65.1 327.6L65.1 327.6L65.1 327.6L65.1 327.6L65.1 327.6L65.1 327.6L65.1 327.6L65.1 327.6L65.1 327.6L65.1 327.6L65.1 327.6L64.4 329L64.4 329L64.4 329L64.4 329L64.4 329.1L64.4 329.1L64.4 330.6L64.4 330.6L64.4 330.6L64.4 330.7L64.4 330.7L64.4 330.7L64.4 330.7L64.4 330.7L64.4 330.7L64.4 330.7L64.4 330.7L64.9 333L64.9 333.1L65.6 335.3L63.1 336.7L60.4 337.6L60.2 337.6L59.6 335.7L59.6 335.7L58.9 333.9L58.9 333.9L58.9 333.9L58.9 333.9L58.9 333.9L58.9 333.9L58.9 333.9L58.9 333.9L58.9 333.9L58.9 333.9L58.9 333.9L58.9 333.9L55.8 333.5L55.8 333.5L55.8 333.5L55.8 333.5L52.9 334.2L51.8 331.9L53 329.6L54.4 327.5L54.4 327.5L54.4 327.5L54.4 327.5L54.4 327.5L54.4 327.5L54.4 327.5L54.4 327.5L54.4 327.5L54.4 327.5L54.4 327.5L54.4 327.5L54.4 327.5L54.4 327.5L54.4 327.5L54.4 327.5L52.7 325.9L52.6 325.9L52.6 325.9L52.6 325.9L52.6 325.9L50.4 325L50.4 325L50.4 325L50.4 325L50.4 325L50.4 325L50.4 325L50.4 325L50.4 325L50.4 325L50.4 325L50.4 325.1L50.4 325.1L48.8 326.7L46.8 327.9L45.7 326L45.7 326L44.3 324.2L44.3 324.1L44.3 324.1L44.3 324.1L44.3 324.1L44.3 324.1L44.3 324.1L44.3 324.1L44.3 324.1L44.3 324.1L44.3 324.1L44.3 324.1L44.3 324.1L44.2 324.1L44.2 324.1L42.6 325L40.7 325.3L40.7 325.3L40.7 325.3L40.7 325.3L40.7 325.3L40.7 325.3L40.7 325.3L40.7 325.3ZM55.9 383.9L56.9 381.6L56.9 381.6L56.9 381.5L56.9 381.5L56.9 381.5L56.9 381.5L56.9 381.5L56.9 381.5L56.9 381.5L56.9 381.5L56.1 379.7L56.2 378.8L56.2 378.8L56.2 378.8L56.2 378.8L56.2 378.8L56.2 378.8L56.2 378.8L56.2 378.8L54.9 376.2L53.6 373.5L53.6 373.5L53.6 373.5L53.6 373.5L53.6 373.5L53.6 373.5L53.6 373.5L53.6 373.5L53.6 373.5L53.6 373.5L53.1 373.3L52.6 370.5L52.2 367.7L54.6 367.3L54.6 367.3L54.7 367.3L54.7 367.3L56.9 366.2L56.9 366.2L56.9 366.2L56.9 366.2L57 366.2L57 366.2L57 366.2L57 366.2L57 366.2L57 366.1L57 366.1L57 366.1L57 366.1L57 366.1L57 366.1L57 366.1L56 363.8L55.6 361.4L56.2 360.8L56.2 360.8L56.2 360.8L56.2 360.8L56.2 360.8L56.2 360.8L56.2 360.8L56.2 360.8L56.2 360.8L56.2 360.8L56.2 360.8L55.9 358.3L56.5 356L58.4 355.5L60.3 355.4L61.1 356.8L61.5 358.3L61.5 358.4L61.5 358.4L61.5 358.4L61.5 358.4L61.5 358.4L61.5 358.4L61.5 358.4L61.5 358.4L61.6 358.4L61.6 358.4L61.6 358.4L61.6 358.4L61.6 358.4L61.6 358.4L61.6 358.4L63.2 358L64.7 358.5L64.7 358.5L64.7 358.5L64.7 358.5L64.7 358.5L64.7 358.5L64.7 358.5L64.7 358.5L64.7 358.5L64.7 358.5L64.7 358.5L64.8 358.5L64.8 358.5L64.8 358.5L65.6 357.3L66.5 356.1L68 356.6L68 356.6L68 356.6L68 356.6L68 356.6L68 356.6L68 356.6L69.6 356.3L70.2 358L69.8 359.8L69.8 359.8L69.8 359.8L69.8 359.8L69.8 359.8L69.8 359.8L69.8 359.8L69.8 359.8L69.8 359.8L69.8 359.8L69.8 359.8L71.2 361.6L71.2 361.6L71.2 361.6L71.2 361.6L71.2 361.6L71.2 361.6L71.2 361.6L73.4 362.1L72.9 364.3L72.9 364.4L72.9 364.4L72.9 364.4L72.9 364.4L72.9 364.4L72.9 364.4L72.9 364.4L73.2 364.9L73 366.9L72.6 369L72.6 369L72.6 369L72.6 369L72.6 369L72.6 369L72.6 369L72.7 369L72.7 369L72.7 369L72.7 369L72.7 369L72.7 369L74.2 370.1L75.5 371.5L73.6 373.8L73.6 373.8L73.6 373.8L72.2 376.4L72.2 376.4L72.2 376.4L72.2 376.4L72.2 376.5L72.2 376.5L72.2 376.5L72.2 376.6L70.7 378.2L70.7 378.2L70.7 378.2L70.7 378.3L70.7 378.3L70.7 378.3L70.7 378.3L70.7 378.3L70.6 380.4L70 382.4L68.5 382.7L68.5 382.7L68.5 382.7L67 383.3L67 383.3L67 383.3L67 383.3L67 383.3L67 383.3L67 383.3L67 383.3L65.6 385.9L65.6 385.9L65.6 385.9L65.6 385.9L65.6 385.9L65.6 385.9L65.6 385.9L65.9 388.7L63.7 388.4L61.5 387.8L61.5 387.8L61.5 387.8L61.5 387.8L61.5 387.8L61.5 387.8L61.5 387.8L61.5 387.8L61.5 387.8L59.1 389.2L56.9 388L55 386.3ZM43.5 353.2L43.5 353.2L43.5 353.2L43.5 353.2L43.5 353.2L45.2 353.4L45.3 355.6L45.3 355.6L45.6 357.7L45.5 357.9L43 358.3L40.8 357.2L40 356L40.6 353.8L42.2 352.1L43.5 353.2L43.5 353.2ZM54.2 352L53.7 353.7L51.4 354.9L49.1 354L47.8 351.8L48 349L49.8 347.3L52.2 346.8L53.5 349.3ZM34.5 338.7L34.5 338.7L34.5 338.7L34.5 338.7L33 339.4L31.3 339.7L31.3 339.7L31.3 339.7L31.3 339.7L31.3 339.7L31.3 339.7L31.3 339.7L31.3 339.7L31.3 339.8L31.3 339.8L31.3 339.8L31.3 339.8L31.3 339.8L31.1 340.8L31.1 340.9L31.1 340.9L31.1 340.9L31.1 340.9L31.1 340.9L31.1 340.9L31.8 342.5L31.8 342.5L32.7 343.9L32.7 343.9L32.7 343.9L32.7 343.9L32.7 343.9L32.7 344L32.7 344L32.7 344L32.7 344L35.3 344.7L35.3 344.7L35.3 344.7L35.3 344.7L35.3 344.7L35.3 344.7L35.3 344.7L35.3 344.7L35.3 344.7L36.5 344L36.5 344L36.5 344L36.5 344L36.5 344L36.5 344L36.5 344L36.5 344L36.5 344L36.5 344L36.5 344L36.5 342.1L37.1 340.4L37.2 340.4L37.2 340.4L37.2 340.4L37.2 340.4L37.2 340.4L37.2 340.4L37.1 340.4L37.1 340.4L37.1 340.4L37.1 340.3L37.1 340.3L37.1 340.3L37.1 340.3L35.9 339.4L35.9 339.4L35.9 339.4L34.6 338.7L34.6 338.7L34.5 338.7L34.5 338.7L34.5 338.7L34.5 338.7ZM64.3 262.9L64.3 262.9L64.3 262.9L64.2 262.9L64.2 262.9L61.9 264L61.9 264L61.9 264L61.9 264L61.9 264L61.9 264L60.2 266L60.2 266L60.2 266L60.2 266L60.2 266L60.2 266L60.2 266L60.2 266L60.2 266L60.2 266L60.2 266L60.2 266L60.2 266L60.2 266.1L61.6 268.3L62.9 270.6L62.9 270.6L62.9 270.6L62.9 270.6L62.9 270.7L62.9 270.7L62.9 270.7L62.9 270.7L62.9 270.7L62.9 270.7L62.9 270.7L62.9 270.7L62.9 270.7L63 270.7L63 270.7L63 270.7L63 270.7L63 270.7L63 270.6L65.5 268.4L68.9 267.9L68.9 267.9L68.9 267.9L68.9 267.9L69 267.9L69 267.9L69 267.9L69 267.9L69 267.9L69 267.9L69 267.9L69.4 267.2L69.4 267.2L69.4 267.2L69.4 267.2L69.4 267.2L69.4 267.2L69.4 267L69.4 267L69.4 267L69.4 267L69.4 267L69.4 267L69.4 267L69.4 267L69.4 267L69.3 267L66.9 264.8L66.9 264.8L64.3 262.9L64.3 262.9L64.3 262.9L64.3 262.9L64.3 262.9L64.3 262.9L64.3 262.9Z" fill="#fdcb12"/><use href="#b" fill="none" stroke="rgba(115,100,45,.6)" stroke-width=".33"/><use href="#o" fill="none" stroke="rgba(140,120,40,.7)" stroke-width=".5"/></g>
<g style="filter:grayscale(1)"><text x="18.9" y="17.1" font-size="8.4" text-anchor="start" fill="#1a1a1a" textLength="104.2" lengthAdjust="spacingAndGlyphs">Parti de la gauche antilibérale</text>
<text x="52.1" y="27.0" font-size="8.4" text-anchor="start" fill="#1a1a1a" textLength="37.3" lengthAdjust="spacingAndGlyphs">(Die Linke)</text>
<text x="198.2" y="16.8" font-size="8.4" text-anchor="start" fill="#1a1a1a" textLength="30.5" lengthAdjust="spacingAndGlyphs">Les Verts</text>
<text x="168.7" y="26.8" font-size="8.4" text-anchor="start" fill="#1a1a1a" textLength="89.5" lengthAdjust="spacingAndGlyphs">(Bundnis 90 /Die Grünen)</text>
<text x="319" y="27" font-size="8.4" text-anchor="start" fill="#1a1a1a" textLength="91.3" lengthAdjust="spacingAndGlyphs">Sociaux démocrates (SPD)</text>
<text x="9.7" y="229.2" font-size="8.4" text-anchor="start" fill="#1a1a1a" textLength="115.3" lengthAdjust="spacingAndGlyphs">Chrétiens démocrates (CDU CSU)</text>
<text x="186.9" y="229" font-size="8.4" text-anchor="start" fill="#1a1a1a" textLength="60.1" lengthAdjust="spacingAndGlyphs">Parti libéral (FDP)</text>
<text x="316" y="229.3" font-size="8.4" text-anchor="start" fill="#1a1a1a" textLength="104.7" lengthAdjust="spacingAndGlyphs">Droite radicale populiste (AfD)</text>
<text x="489.2" y="229" font-size="8.4" text-anchor="start" fill="#1a1a1a" textLength="43.7" lengthAdjust="spacingAndGlyphs">autres partis</text>
<text x="449.3" y="27.8" font-size="14.2" text-anchor="start" fill="#111" textLength="137.5" lengthAdjust="spacingAndGlyphs">Élections européennes</text>
<text x="494.2" y="45.5" font-size="14.2" text-anchor="start" fill="#111" textLength="92.6" lengthAdjust="spacingAndGlyphs">du 26 mai 2019</text></g>
<rect x="473.5" y="57.5" width="115.5" height="130.5" fill="#fff" stroke="#dcdcdc" stroke-width=".8"/>
<rect x="480.5" y="97" width="21" height="10" fill="#c0161b" stroke="rgba(120,90,30,.55)" stroke-width=".5"/>
<rect x="480.5" y="111" width="21" height="10" fill="#e6281f" stroke="rgba(120,90,30,.55)" stroke-width=".5"/>
<rect x="480.5" y="125" width="21" height="10" fill="#f0831b" stroke="rgba(120,90,30,.55)" stroke-width=".5"/>
<rect x="480.5" y="139" width="21" height="10" fill="#fdcb12" stroke="rgba(120,90,30,.55)" stroke-width=".5"/>
<rect x="480.5" y="153" width="21" height="10" fill="#f8e76e" stroke="rgba(120,90,30,.55)" stroke-width=".5"/>
<rect x="480.5" y="167.5" width="21" height="10" fill="#fbf4b9" stroke="rgba(120,90,30,.55)" stroke-width=".5"/><g style="filter:grayscale(1)"><text x="478" y="69.2" font-size="8.5" text-anchor="start" fill="#1a1a1a" textLength="44.8" lengthAdjust="spacingAndGlyphs">Pourcentage</text>
<text x="478" y="79.5" font-size="8.5" text-anchor="start" fill="#1a1a1a" textLength="79.6" lengthAdjust="spacingAndGlyphs">des suffrages exprimés</text>
<text x="507.4" y="94.2" font-size="6.7" text-anchor="start" fill="#111">58,7 %</text>
<text x="507.4" y="108.7" font-size="6.7" text-anchor="start" fill="#111">50</text>
<text x="507.4" y="122.8" font-size="6.7" text-anchor="start" fill="#111">36</text>
<text x="507.4" y="136.9" font-size="6.7" text-anchor="start" fill="#111">24</text>
<text x="507.4" y="151.2" font-size="6.7" text-anchor="start" fill="#111">12</text>
<text x="510.8" y="165.7" font-size="6.7" text-anchor="start" fill="#111">5</text>
<text x="511.8" y="177.7" font-size="6.7" text-anchor="start" fill="#111">1%</text></g>
<g style="filter:grayscale(1)"><text x="6.4" y="423.6" font-size="6.8" text-anchor="start" fill="#111" textLength="71" lengthAdjust="spacingAndGlyphs">Sources : Bundeswahlleiter</text>
<text x="81.4" y="423.6" font-size="6.8" text-anchor="start" fill="#111" textLength="157.4" lengthAdjust="spacingAndGlyphs">https://www.bundeswahlleiter.de/europawahlen/2014.html</text>
<text x="329.6" y="423.6" font-size="6.8" text-anchor="start" fill="#111" textLength="163" lengthAdjust="spacingAndGlyphs">© Béatrice von Hirschhausen - CNRS - UMR Géographie-cités -</text>
<text x="497.2" y="423.6" font-size="6.8" text-anchor="start" fill="#111" textLength="40.8" lengthAdjust="spacingAndGlyphs">avec Philcarto -</text>
<text x="541.7" y="423.6" font-size="6.8" text-anchor="start" fill="#111" textLength="55.5" lengthAdjust="spacingAndGlyphs">http://philcarto.free.fr</text></g>
</svg>
</body></html>
